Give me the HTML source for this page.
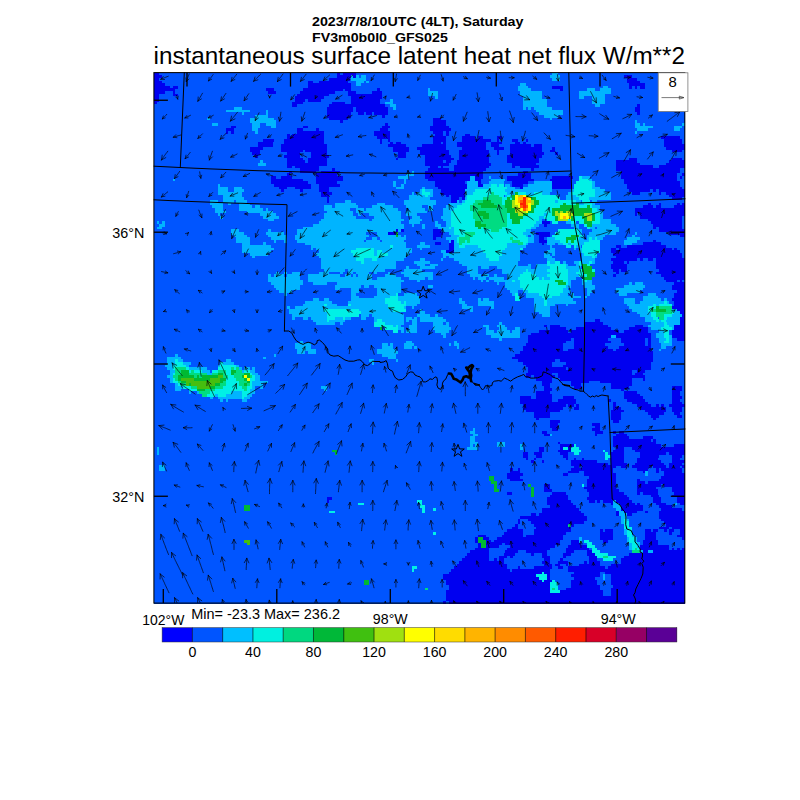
<!DOCTYPE html>
<html><head><meta charset="utf-8"><title>latent heat flux</title>
<style>html,body{margin:0;padding:0;background:#fff}svg{display:block}text{font-family:"Liberation Sans",sans-serif;fill:#000}</style></head>
<body>
<svg width="800" height="800" viewBox="0 0 800 800">
<rect width="800" height="800" fill="#fff"/>
<text x="312" y="26.3" font-size="14.25" font-weight="bold" textLength="211.5" lengthAdjust="spacingAndGlyphs" transform="matrix(1 0 0 0.93 0 1.84)">2023/7/8/10UTC (4LT), Saturday</text>
<text x="312" y="41.6" font-size="14.25" font-weight="bold" textLength="135.8" lengthAdjust="spacingAndGlyphs" transform="matrix(1 0 0 0.93 0 2.91)">FV3m0b0l0_GFS025</text>
<text x="153.5" y="63.6" font-size="24.2" textLength="531.5" lengthAdjust="spacingAndGlyphs">instantaneous surface latent heat net flux W/m**2</text>
<g shape-rendering="crispEdges"><rect x="154.0" y="72.5" width="531.0" height="531.0" fill="#0055ff"/>
<path fill="#0000f0" d="M154.0 72.5h5.3v2.70h-5.3zM337.2 72.5h2.7v2.70h-2.7zM342.5 72.5h13.3v2.70h-13.3zM154.0 75.2h8.0v2.70h-8.0zM337.2 75.2h13.3v2.70h-13.3zM353.1 75.2h2.7v2.70h-2.7zM623.9 75.2h8.0v2.70h-8.0zM154.0 77.8h5.3v2.70h-5.3zM329.2 77.8h21.2v2.70h-21.2zM626.6 77.8h10.6v2.70h-10.6zM154.0 80.5h8.0v2.70h-8.0zM308.0 80.5h5.3v2.70h-5.3zM318.6 80.5h29.2v2.70h-29.2zM626.6 80.5h13.3v2.70h-13.3zM154.0 83.1h10.6v2.70h-10.6zM308.0 83.1h42.5v2.70h-42.5zM629.2 83.1h15.9v2.70h-15.9zM154.0 85.8h15.9v2.70h-15.9zM172.6 85.8h5.3v2.70h-5.3zM308.0 85.8h42.5v2.70h-42.5zM552.2 85.8h10.6v2.70h-10.6zM629.2 85.8h2.7v2.70h-2.7zM634.6 85.8h2.7v2.70h-2.7zM639.9 85.8h5.3v2.70h-5.3zM154.0 88.4h21.2v2.70h-21.2zM265.5 88.4h8.0v2.70h-8.0zM302.7 88.4h39.8v2.70h-39.8zM345.2 88.4h5.3v2.70h-5.3zM377.0 88.4h2.7v2.70h-2.7zM560.2 88.4h2.7v2.70h-2.7zM154.0 91.1h10.6v2.70h-10.6zM172.6 91.1h2.7v2.70h-2.7zM268.2 91.1h8.0v2.70h-8.0zM300.0 91.1h34.5v2.70h-34.5zM347.8 91.1h8.0v2.70h-8.0zM371.7 91.1h10.6v2.70h-10.6zM154.0 93.7h5.3v2.70h-5.3zM172.6 93.7h5.3v2.70h-5.3zM297.4 93.7h31.9v2.70h-31.9zM347.8 93.7h34.5v2.70h-34.5zM154.0 96.4h5.3v2.70h-5.3zM294.7 96.4h29.2v2.70h-29.2zM350.5 96.4h31.9v2.70h-31.9zM154.0 99.0h5.3v2.70h-5.3zM294.7 99.0h10.6v2.70h-10.6zM308.0 99.0h13.3v2.70h-13.3zM350.5 99.0h29.2v2.70h-29.2zM154.0 101.7h2.7v2.70h-2.7zM292.1 101.7h10.6v2.70h-10.6zM331.9 101.7h13.3v2.70h-13.3zM350.5 101.7h29.2v2.70h-29.2zM292.1 104.4h5.3v2.70h-5.3zM329.2 104.4h55.8v2.70h-55.8zM637.2 104.4h2.7v2.70h-2.7zM326.6 107.0h26.5v2.70h-26.5zM355.8 107.0h31.9v2.70h-31.9zM634.6 107.0h5.3v2.70h-5.3zM326.6 109.7h26.5v2.70h-26.5zM355.8 109.7h31.9v2.70h-31.9zM634.6 109.7h5.3v2.70h-5.3zM326.6 112.3h23.9v2.70h-23.9zM358.4 112.3h5.3v2.70h-5.3zM366.4 112.3h5.3v2.70h-5.3zM374.4 112.3h13.3v2.70h-13.3zM637.2 112.3h2.7v2.70h-2.7zM326.6 115.0h23.9v2.70h-23.9zM382.3 115.0h2.7v2.70h-2.7zM329.2 117.6h18.6v2.70h-18.6zM432.8 117.6h8.0v2.70h-8.0zM339.9 120.3h2.7v2.70h-2.7zM432.8 120.3h13.3v2.70h-13.3zM385.0 122.9h2.7v2.70h-2.7zM432.8 122.9h13.3v2.70h-13.3zM231.0 125.6h5.3v2.70h-5.3zM302.7 125.6h5.3v2.70h-5.3zM382.3 125.6h8.0v2.70h-8.0zM430.1 125.6h18.6v2.70h-18.6zM225.7 128.3h8.0v2.70h-8.0zM297.4 128.3h5.3v2.70h-5.3zM316.0 128.3h2.7v2.70h-2.7zM379.7 128.3h8.0v2.70h-8.0zM430.1 128.3h21.2v2.70h-21.2zM225.7 130.9h2.7v2.70h-2.7zM231.0 130.9h2.7v2.70h-2.7zM297.4 130.9h26.5v2.70h-26.5zM374.4 130.9h15.9v2.70h-15.9zM432.8 130.9h10.6v2.70h-10.6zM446.0 130.9h2.7v2.70h-2.7zM286.8 133.6h2.7v2.70h-2.7zM292.1 133.6h31.9v2.70h-31.9zM374.4 133.6h15.9v2.70h-15.9zM435.4 133.6h8.0v2.70h-8.0zM446.0 133.6h2.7v2.70h-2.7zM464.6 133.6h5.3v2.70h-5.3zM286.8 136.2h37.2v2.70h-37.2zM377.0 136.2h13.3v2.70h-13.3zM432.8 136.2h13.3v2.70h-13.3zM462.0 136.2h13.3v2.70h-13.3zM477.9 136.2h5.3v2.70h-5.3zM496.5 136.2h5.3v2.70h-5.3zM661.1 136.2h18.6v2.70h-18.6zM262.9 138.9h10.6v2.70h-10.6zM284.1 138.9h39.8v2.70h-39.8zM379.7 138.9h2.7v2.70h-2.7zM387.6 138.9h2.7v2.70h-2.7zM432.8 138.9h13.3v2.70h-13.3zM462.0 138.9h29.2v2.70h-29.2zM496.5 138.9h2.7v2.70h-2.7zM512.4 138.9h5.3v2.70h-5.3zM525.7 138.9h2.7v2.70h-2.7zM663.8 138.9h18.6v2.70h-18.6zM257.5 141.5h15.9v2.70h-15.9zM284.1 141.5h39.8v2.70h-39.8zM379.7 141.5h2.7v2.70h-2.7zM390.3 141.5h2.7v2.70h-2.7zM395.6 141.5h5.3v2.70h-5.3zM432.8 141.5h8.0v2.70h-8.0zM443.4 141.5h2.7v2.70h-2.7zM456.7 141.5h29.2v2.70h-29.2zM491.2 141.5h10.6v2.70h-10.6zM515.1 141.5h5.3v2.70h-5.3zM523.0 141.5h2.7v2.70h-2.7zM663.8 141.5h18.6v2.70h-18.6zM257.5 144.2h15.9v2.70h-15.9zM281.4 144.2h45.1v2.70h-45.1zM387.6 144.2h18.6v2.70h-18.6zM422.2 144.2h23.9v2.70h-23.9zM456.7 144.2h29.2v2.70h-29.2zM491.2 144.2h8.0v2.70h-8.0zM509.8 144.2h21.2v2.70h-21.2zM533.7 144.2h8.0v2.70h-8.0zM663.8 144.2h21.2v2.70h-21.2zM249.6 146.8h13.3v2.70h-13.3zM281.4 146.8h45.1v2.70h-45.1zM392.9 146.8h15.9v2.70h-15.9zM416.8 146.8h29.2v2.70h-29.2zM462.0 146.8h23.9v2.70h-23.9zM493.8 146.8h10.6v2.70h-10.6zM509.8 146.8h31.9v2.70h-31.9zM552.2 146.8h2.7v2.70h-2.7zM666.4 146.8h18.6v2.70h-18.6zM249.6 149.5h10.6v2.70h-10.6zM281.4 149.5h21.2v2.70h-21.2zM305.3 149.5h21.2v2.70h-21.2zM392.9 149.5h15.9v2.70h-15.9zM419.5 149.5h29.2v2.70h-29.2zM459.3 149.5h29.2v2.70h-29.2zM496.5 149.5h2.7v2.70h-2.7zM509.8 149.5h31.9v2.70h-31.9zM549.6 149.5h5.3v2.70h-5.3zM671.7 149.5h10.6v2.70h-10.6zM252.2 152.1h8.0v2.70h-8.0zM286.8 152.1h13.3v2.70h-13.3zM310.6 152.1h15.9v2.70h-15.9zM398.3 152.1h8.0v2.70h-8.0zM419.5 152.1h29.2v2.70h-29.2zM459.3 152.1h29.2v2.70h-29.2zM496.5 152.1h2.7v2.70h-2.7zM509.8 152.1h34.5v2.70h-34.5zM554.9 152.1h2.7v2.70h-2.7zM254.9 154.8h2.7v2.70h-2.7zM284.1 154.8h15.9v2.70h-15.9zM310.6 154.8h18.6v2.70h-18.6zM398.3 154.8h8.0v2.70h-8.0zM424.8 154.8h26.5v2.70h-26.5zM459.3 154.8h29.2v2.70h-29.2zM507.1 154.8h34.5v2.70h-34.5zM286.8 157.5h15.9v2.70h-15.9zM308.0 157.5h18.6v2.70h-18.6zM395.6 157.5h2.7v2.70h-2.7zM424.8 157.5h29.2v2.70h-29.2zM459.3 157.5h29.2v2.70h-29.2zM507.1 157.5h31.9v2.70h-31.9zM629.2 157.5h8.0v2.70h-8.0zM671.7 157.5h10.6v2.70h-10.6zM286.8 160.1h18.6v2.70h-18.6zM308.0 160.1h18.6v2.70h-18.6zM424.8 160.1h18.6v2.70h-18.6zM446.0 160.1h5.3v2.70h-5.3zM456.7 160.1h31.9v2.70h-31.9zM507.1 160.1h31.9v2.70h-31.9zM616.0 160.1h21.2v2.70h-21.2zM669.1 160.1h15.9v2.70h-15.9zM286.8 162.8h39.8v2.70h-39.8zM424.8 162.8h23.9v2.70h-23.9zM456.7 162.8h34.5v2.70h-34.5zM512.4 162.8h23.9v2.70h-23.9zM616.0 162.8h23.9v2.70h-23.9zM666.4 162.8h18.6v2.70h-18.6zM286.8 165.4h5.3v2.70h-5.3zM294.7 165.4h23.9v2.70h-23.9zM430.1 165.4h8.0v2.70h-8.0zM440.7 165.4h2.7v2.70h-2.7zM454.0 165.4h34.5v2.70h-34.5zM512.4 165.4h2.7v2.70h-2.7zM520.4 165.4h18.6v2.70h-18.6zM616.0 165.4h37.2v2.70h-37.2zM658.5 165.4h26.5v2.70h-26.5zM300.0 168.1h18.6v2.70h-18.6zM331.9 168.1h2.7v2.70h-2.7zM427.5 168.1h21.2v2.70h-21.2zM454.0 168.1h31.9v2.70h-31.9zM531.0 168.1h2.7v2.70h-2.7zM616.0 168.1h63.7v2.70h-63.7zM289.4 170.7h2.7v2.70h-2.7zM300.0 170.7h15.9v2.70h-15.9zM321.3 170.7h18.6v2.70h-18.6zM424.8 170.7h58.4v2.70h-58.4zM523.0 170.7h5.3v2.70h-5.3zM621.3 170.7h58.4v2.70h-58.4zM286.8 173.4h2.7v2.70h-2.7zM316.0 173.4h21.2v2.70h-21.2zM424.8 173.4h58.4v2.70h-58.4zM517.7 173.4h13.3v2.70h-13.3zM621.3 173.4h55.8v2.70h-55.8zM682.3 173.4h2.7v2.70h-2.7zM270.8 176.0h5.3v2.70h-5.3zM281.4 176.0h10.6v2.70h-10.6zM316.0 176.0h26.5v2.70h-26.5zM424.8 176.0h45.1v2.70h-45.1zM475.3 176.0h8.0v2.70h-8.0zM507.1 176.0h23.9v2.70h-23.9zM552.2 176.0h21.2v2.70h-21.2zM621.3 176.0h55.8v2.70h-55.8zM679.7 176.0h2.7v2.70h-2.7zM270.8 178.7h31.9v2.70h-31.9zM316.0 178.7h26.5v2.70h-26.5zM427.5 178.7h42.5v2.70h-42.5zM475.3 178.7h5.3v2.70h-5.3zM507.1 178.7h26.5v2.70h-26.5zM549.6 178.7h21.2v2.70h-21.2zM623.9 178.7h53.1v2.70h-53.1zM270.8 181.4h37.2v2.70h-37.2zM316.0 181.4h21.2v2.70h-21.2zM435.4 181.4h29.2v2.70h-29.2zM477.9 181.4h2.7v2.70h-2.7zM512.4 181.4h15.9v2.70h-15.9zM552.2 181.4h18.6v2.70h-18.6zM623.9 181.4h55.8v2.70h-55.8zM273.5 184.0h37.2v2.70h-37.2zM318.6 184.0h21.2v2.70h-21.2zM435.4 184.0h31.9v2.70h-31.9zM477.9 184.0h5.3v2.70h-5.3zM512.4 184.0h10.6v2.70h-10.6zM552.2 184.0h18.6v2.70h-18.6zM626.6 184.0h53.1v2.70h-53.1zM278.8 186.7h8.0v2.70h-8.0zM294.7 186.7h15.9v2.70h-15.9zM318.6 186.7h10.6v2.70h-10.6zM438.1 186.7h29.2v2.70h-29.2zM520.4 186.7h2.7v2.70h-2.7zM552.2 186.7h18.6v2.70h-18.6zM626.6 186.7h55.8v2.70h-55.8zM281.4 189.3h2.7v2.70h-2.7zM300.0 189.3h2.7v2.70h-2.7zM318.6 189.3h10.6v2.70h-10.6zM440.7 189.3h23.9v2.70h-23.9zM629.2 189.3h21.2v2.70h-21.2zM653.1 189.3h2.7v2.70h-2.7zM658.5 189.3h26.5v2.70h-26.5zM321.3 192.0h10.6v2.70h-10.6zM440.7 192.0h23.9v2.70h-23.9zM631.9 192.0h8.0v2.70h-8.0zM658.5 192.0h2.7v2.70h-2.7zM666.4 192.0h18.6v2.70h-18.6zM321.3 194.6h8.0v2.70h-8.0zM446.0 194.6h2.7v2.70h-2.7zM451.4 194.6h13.3v2.70h-13.3zM669.1 194.6h15.9v2.70h-15.9zM326.6 197.3h2.7v2.70h-2.7zM451.4 197.3h8.0v2.70h-8.0zM462.0 197.3h2.7v2.70h-2.7zM671.7 197.3h10.6v2.70h-10.6zM326.6 199.9h2.7v2.70h-2.7zM451.4 199.9h5.3v2.70h-5.3zM647.8 202.6h2.7v2.70h-2.7zM658.5 202.6h2.7v2.70h-2.7zM677.0 202.6h2.7v2.70h-2.7zM682.3 202.6h2.7v2.70h-2.7zM642.5 205.2h10.6v2.70h-10.6zM655.8 205.2h5.3v2.70h-5.3zM674.4 205.2h10.6v2.70h-10.6zM634.6 207.9h50.4v2.70h-50.4zM634.6 210.6h50.4v2.70h-50.4zM634.6 213.2h2.7v2.70h-2.7zM639.9 213.2h45.1v2.70h-45.1zM639.9 215.9h42.5v2.70h-42.5zM647.8 218.5h34.5v2.70h-34.5zM541.6 221.2h8.0v2.70h-8.0zM650.5 221.2h31.9v2.70h-31.9zM544.3 223.8h2.7v2.70h-2.7zM653.1 223.8h29.2v2.70h-29.2zM653.1 226.5h2.7v2.70h-2.7zM658.5 226.5h23.9v2.70h-23.9zM395.6 229.1h2.7v2.70h-2.7zM400.9 229.1h2.7v2.70h-2.7zM432.8 229.1h8.0v2.70h-8.0zM658.5 229.1h26.5v2.70h-26.5zM387.6 231.8h8.0v2.70h-8.0zM432.8 231.8h10.6v2.70h-10.6zM536.3 231.8h13.3v2.70h-13.3zM669.1 231.8h15.9v2.70h-15.9zM432.8 234.5h8.0v2.70h-8.0zM539.0 234.5h10.6v2.70h-10.6zM679.7 234.5h5.3v2.70h-5.3zM432.8 237.1h2.7v2.70h-2.7zM539.0 237.1h5.3v2.70h-5.3zM451.4 239.8h2.7v2.70h-2.7zM539.0 239.8h8.0v2.70h-8.0zM653.1 239.8h2.7v2.70h-2.7zM435.4 242.4h5.3v2.70h-5.3zM448.7 242.4h5.3v2.70h-5.3zM541.6 242.4h2.7v2.70h-2.7zM642.5 242.4h18.6v2.70h-18.6zM448.7 245.1h5.3v2.70h-5.3zM616.0 245.1h5.3v2.70h-5.3zM626.6 245.1h39.8v2.70h-39.8zM448.7 247.7h5.3v2.70h-5.3zM610.7 247.7h5.3v2.70h-5.3zM618.6 247.7h53.1v2.70h-53.1zM674.4 247.7h2.7v2.70h-2.7zM446.0 250.4h8.0v2.70h-8.0zM610.7 250.4h69.0v2.70h-69.0zM613.3 253.0h69.0v2.70h-69.0zM616.0 255.7h66.4v2.70h-66.4zM610.7 258.4h26.5v2.70h-26.5zM639.9 258.4h2.7v2.70h-2.7zM647.8 258.4h5.3v2.70h-5.3zM655.8 258.4h29.2v2.70h-29.2zM613.3 261.0h10.6v2.70h-10.6zM626.6 261.0h2.7v2.70h-2.7zM655.8 261.0h29.2v2.70h-29.2zM610.7 263.7h15.9v2.70h-15.9zM655.8 263.7h29.2v2.70h-29.2zM610.7 266.3h15.9v2.70h-15.9zM655.8 266.3h29.2v2.70h-29.2zM613.3 269.0h5.3v2.70h-5.3zM621.3 269.0h5.3v2.70h-5.3zM658.5 269.0h26.5v2.70h-26.5zM616.0 271.6h2.7v2.70h-2.7zM655.8 271.6h29.2v2.70h-29.2zM613.3 274.3h2.7v2.70h-2.7zM661.1 274.3h23.9v2.70h-23.9zM663.8 276.9h21.2v2.70h-21.2zM666.4 279.6h10.6v2.70h-10.6zM679.7 279.6h2.7v2.70h-2.7zM674.4 282.2h10.6v2.70h-10.6zM671.7 284.9h13.3v2.70h-13.3zM671.7 287.6h13.3v2.70h-13.3zM677.0 290.2h8.0v2.70h-8.0zM674.4 292.9h10.6v2.70h-10.6zM674.4 295.5h10.6v2.70h-10.6zM671.7 298.2h13.3v2.70h-13.3zM674.4 300.8h10.6v2.70h-10.6zM674.4 303.5h10.6v2.70h-10.6zM671.7 306.1h13.3v2.70h-13.3zM677.0 308.8h8.0v2.70h-8.0zM679.7 311.4h5.3v2.70h-5.3zM682.3 314.1h2.7v2.70h-2.7zM679.7 316.8h5.3v2.70h-5.3zM594.7 319.4h5.3v2.70h-5.3zM679.7 319.4h5.3v2.70h-5.3zM584.1 322.1h18.6v2.70h-18.6zM679.7 322.1h5.3v2.70h-5.3zM544.3 324.7h2.7v2.70h-2.7zM549.6 324.7h10.6v2.70h-10.6zM584.1 324.7h23.9v2.70h-23.9zM634.6 324.7h8.0v2.70h-8.0zM674.4 324.7h10.6v2.70h-10.6zM549.6 327.4h15.9v2.70h-15.9zM576.1 327.4h34.5v2.70h-34.5zM629.2 327.4h18.6v2.70h-18.6zM674.4 327.4h10.6v2.70h-10.6zM539.0 330.0h29.2v2.70h-29.2zM570.8 330.0h47.8v2.70h-47.8zM623.9 330.0h23.9v2.70h-23.9zM671.7 330.0h13.3v2.70h-13.3zM531.0 332.7h119.5v2.70h-119.5zM671.7 332.7h13.3v2.70h-13.3zM528.4 335.3h82.3v2.70h-82.3zM616.0 335.3h34.5v2.70h-34.5zM671.7 335.3h13.3v2.70h-13.3zM528.4 338.0h42.5v2.70h-42.5zM573.5 338.0h34.5v2.70h-34.5zM621.3 338.0h23.9v2.70h-23.9zM647.8 338.0h2.7v2.70h-2.7zM677.0 338.0h8.0v2.70h-8.0zM528.4 340.7h37.2v2.70h-37.2zM573.5 340.7h37.2v2.70h-37.2zM621.3 340.7h23.9v2.70h-23.9zM647.8 340.7h2.7v2.70h-2.7zM525.7 343.3h37.2v2.70h-37.2zM573.5 343.3h31.9v2.70h-31.9zM623.9 343.3h21.2v2.70h-21.2zM647.8 343.3h2.7v2.70h-2.7zM523.0 346.0h39.8v2.70h-39.8zM573.5 346.0h34.5v2.70h-34.5zM618.6 346.0h31.9v2.70h-31.9zM523.0 348.6h39.8v2.70h-39.8zM568.2 348.6h45.1v2.70h-45.1zM616.0 348.6h34.5v2.70h-34.5zM520.4 351.3h132.8v2.70h-132.8zM515.1 353.9h138.1v2.70h-138.1zM512.4 356.6h140.7v2.70h-140.7zM517.7 359.2h37.2v2.70h-37.2zM560.2 359.2h92.9v2.70h-92.9zM523.0 361.9h29.2v2.70h-29.2zM565.5 361.9h85.0v2.70h-85.0zM525.7 364.5h26.5v2.70h-26.5zM562.9 364.5h87.6v2.70h-87.6zM528.4 367.2h37.2v2.70h-37.2zM568.2 367.2h82.3v2.70h-82.3zM528.4 369.9h103.5v2.70h-103.5zM637.2 369.9h8.0v2.70h-8.0zM525.7 372.5h26.5v2.70h-26.5zM557.6 372.5h74.3v2.70h-74.3zM634.6 372.5h8.0v2.70h-8.0zM525.7 375.2h5.3v2.70h-5.3zM533.7 375.2h21.2v2.70h-21.2zM557.6 375.2h87.6v2.70h-87.6zM536.3 377.8h15.9v2.70h-15.9zM560.2 377.8h71.7v2.70h-71.7zM642.5 377.8h2.7v2.70h-2.7zM541.6 380.5h10.6v2.70h-10.6zM570.8 380.5h18.6v2.70h-18.6zM600.0 380.5h31.9v2.70h-31.9zM541.6 383.1h8.0v2.70h-8.0zM570.8 383.1h10.6v2.70h-10.6zM610.7 383.1h21.2v2.70h-21.2zM544.3 385.8h5.3v2.70h-5.3zM573.5 385.8h8.0v2.70h-8.0zM610.7 385.8h18.6v2.70h-18.6zM671.7 385.8h10.6v2.70h-10.6zM544.3 388.4h8.0v2.70h-8.0zM621.3 388.4h2.7v2.70h-2.7zM671.7 388.4h10.6v2.70h-10.6zM536.3 391.1h13.3v2.70h-13.3zM623.9 391.1h13.3v2.70h-13.3zM671.7 391.1h8.0v2.70h-8.0zM536.3 393.8h15.9v2.70h-15.9zM623.9 393.8h15.9v2.70h-15.9zM671.7 393.8h8.0v2.70h-8.0zM520.4 396.4h10.6v2.70h-10.6zM536.3 396.4h15.9v2.70h-15.9zM562.9 396.4h10.6v2.70h-10.6zM623.9 396.4h18.6v2.70h-18.6zM671.7 396.4h10.6v2.70h-10.6zM520.4 399.1h31.9v2.70h-31.9zM557.6 399.1h18.6v2.70h-18.6zM608.0 399.1h2.7v2.70h-2.7zM626.6 399.1h18.6v2.70h-18.6zM671.7 399.1h8.0v2.70h-8.0zM520.4 401.7h55.8v2.70h-55.8zM613.3 401.7h2.7v2.70h-2.7zM631.9 401.7h15.9v2.70h-15.9zM671.7 401.7h10.6v2.70h-10.6zM523.0 404.4h42.5v2.70h-42.5zM568.2 404.4h5.3v2.70h-5.3zM576.1 404.4h2.7v2.70h-2.7zM613.3 404.4h2.7v2.70h-2.7zM637.2 404.4h13.3v2.70h-13.3zM655.8 404.4h2.7v2.70h-2.7zM661.1 404.4h2.7v2.70h-2.7zM669.1 404.4h15.9v2.70h-15.9zM523.0 407.0h39.8v2.70h-39.8zM573.5 407.0h5.3v2.70h-5.3zM613.3 407.0h8.0v2.70h-8.0zM639.9 407.0h26.5v2.70h-26.5zM671.7 407.0h10.6v2.70h-10.6zM525.7 409.7h34.5v2.70h-34.5zM610.7 409.7h13.3v2.70h-13.3zM645.2 409.7h21.2v2.70h-21.2zM671.7 409.7h10.6v2.70h-10.6zM533.7 412.3h15.9v2.70h-15.9zM610.7 412.3h10.6v2.70h-10.6zM647.8 412.3h15.9v2.70h-15.9zM674.4 412.3h5.3v2.70h-5.3zM533.7 415.0h15.9v2.70h-15.9zM610.7 415.0h10.6v2.70h-10.6zM650.5 415.0h8.0v2.70h-8.0zM677.0 415.0h5.3v2.70h-5.3zM536.3 417.6h2.7v2.70h-2.7zM610.7 417.6h10.6v2.70h-10.6zM653.1 417.6h2.7v2.70h-2.7zM549.6 420.3h10.6v2.70h-10.6zM613.3 420.3h5.3v2.70h-5.3zM549.6 423.0h8.0v2.70h-8.0zM592.1 423.0h8.0v2.70h-8.0zM549.6 425.6h8.0v2.70h-8.0zM594.7 425.6h5.3v2.70h-5.3zM552.2 428.3h5.3v2.70h-5.3zM592.1 428.3h8.0v2.70h-8.0zM541.6 430.9h5.3v2.70h-5.3zM594.7 430.9h8.0v2.70h-8.0zM613.3 430.9h2.7v2.70h-2.7zM618.6 430.9h5.3v2.70h-5.3zM544.3 433.6h5.3v2.70h-5.3zM594.7 433.6h2.7v2.70h-2.7zM616.0 433.6h10.6v2.70h-10.6zM613.3 436.2h15.9v2.70h-15.9zM642.5 436.2h10.6v2.70h-10.6zM613.3 438.9h37.2v2.70h-37.2zM653.1 438.9h2.7v2.70h-2.7zM557.6 441.5h2.7v2.70h-2.7zM613.3 441.5h42.5v2.70h-42.5zM560.2 444.2h13.3v2.70h-13.3zM613.3 444.2h47.8v2.70h-47.8zM674.4 444.2h10.6v2.70h-10.6zM539.0 446.9h5.3v2.70h-5.3zM560.2 446.9h2.7v2.70h-2.7zM568.2 446.9h2.7v2.70h-2.7zM616.0 446.9h8.0v2.70h-8.0zM631.9 446.9h53.1v2.70h-53.1zM539.0 449.5h5.3v2.70h-5.3zM557.6 449.5h13.3v2.70h-13.3zM613.3 449.5h10.6v2.70h-10.6zM634.6 449.5h50.4v2.70h-50.4zM523.0 452.2h5.3v2.70h-5.3zM533.7 452.2h8.0v2.70h-8.0zM560.2 452.2h8.0v2.70h-8.0zM610.7 452.2h13.3v2.70h-13.3zM639.9 452.2h26.5v2.70h-26.5zM669.1 452.2h15.9v2.70h-15.9zM523.0 454.8h5.3v2.70h-5.3zM536.3 454.8h5.3v2.70h-5.3zM562.9 454.8h5.3v2.70h-5.3zM610.7 454.8h13.3v2.70h-13.3zM639.9 454.8h18.6v2.70h-18.6zM671.7 454.8h10.6v2.70h-10.6zM525.7 457.5h2.7v2.70h-2.7zM533.7 457.5h2.7v2.70h-2.7zM565.5 457.5h2.7v2.70h-2.7zM573.5 457.5h2.7v2.70h-2.7zM581.5 457.5h2.7v2.70h-2.7zM610.7 457.5h13.3v2.70h-13.3zM637.2 457.5h21.2v2.70h-21.2zM671.7 457.5h8.0v2.70h-8.0zM531.0 460.1h2.7v2.70h-2.7zM541.6 460.1h2.7v2.70h-2.7zM570.8 460.1h26.5v2.70h-26.5zM610.7 460.1h13.3v2.70h-13.3zM637.2 460.1h23.9v2.70h-23.9zM671.7 460.1h13.3v2.70h-13.3zM570.8 462.8h37.2v2.70h-37.2zM610.7 462.8h15.9v2.70h-15.9zM634.6 462.8h29.2v2.70h-29.2zM669.1 462.8h13.3v2.70h-13.3zM573.5 465.4h5.3v2.70h-5.3zM581.5 465.4h34.5v2.70h-34.5zM621.3 465.4h5.3v2.70h-5.3zM631.9 465.4h18.6v2.70h-18.6zM653.1 465.4h13.3v2.70h-13.3zM669.1 465.4h10.6v2.70h-10.6zM682.3 465.4h2.7v2.70h-2.7zM509.8 468.1h2.7v2.70h-2.7zM517.7 468.1h2.7v2.70h-2.7zM570.8 468.1h42.5v2.70h-42.5zM637.2 468.1h10.6v2.70h-10.6zM655.8 468.1h2.7v2.70h-2.7zM661.1 468.1h21.2v2.70h-21.2zM509.8 470.7h10.6v2.70h-10.6zM568.2 470.7h10.6v2.70h-10.6zM584.1 470.7h29.2v2.70h-29.2zM642.5 470.7h2.7v2.70h-2.7zM655.8 470.7h2.7v2.70h-2.7zM663.8 470.7h18.6v2.70h-18.6zM507.1 473.4h15.9v2.70h-15.9zM562.9 473.4h5.3v2.70h-5.3zM584.1 473.4h31.9v2.70h-31.9zM663.8 473.4h21.2v2.70h-21.2zM507.1 476.1h13.3v2.70h-13.3zM589.4 476.1h26.5v2.70h-26.5zM661.1 476.1h23.9v2.70h-23.9zM509.8 478.7h13.3v2.70h-13.3zM586.8 478.7h29.2v2.70h-29.2zM637.2 478.7h2.7v2.70h-2.7zM658.5 478.7h26.5v2.70h-26.5zM586.8 481.4h29.2v2.70h-29.2zM637.2 481.4h8.0v2.70h-8.0zM647.8 481.4h37.2v2.70h-37.2zM544.3 484.0h5.3v2.70h-5.3zM586.8 484.0h29.2v2.70h-29.2zM637.2 484.0h23.9v2.70h-23.9zM663.8 484.0h21.2v2.70h-21.2zM544.3 486.7h5.3v2.70h-5.3zM584.1 486.7h31.9v2.70h-31.9zM637.2 486.7h18.6v2.70h-18.6zM671.7 486.7h13.3v2.70h-13.3zM544.3 489.3h8.0v2.70h-8.0zM586.8 489.3h31.9v2.70h-31.9zM637.2 489.3h21.2v2.70h-21.2zM671.7 489.3h13.3v2.70h-13.3zM507.1 492.0h5.3v2.70h-5.3zM552.2 492.0h13.3v2.70h-13.3zM589.4 492.0h34.5v2.70h-34.5zM637.2 492.0h2.7v2.70h-2.7zM642.5 492.0h15.9v2.70h-15.9zM674.4 492.0h10.6v2.70h-10.6zM549.6 494.6h18.6v2.70h-18.6zM589.4 494.6h37.2v2.70h-37.2zM650.5 494.6h8.0v2.70h-8.0zM671.7 494.6h13.3v2.70h-13.3zM326.6 497.3h5.3v2.70h-5.3zM546.9 497.3h21.2v2.70h-21.2zM586.8 497.3h42.5v2.70h-42.5zM653.1 497.3h8.0v2.70h-8.0zM677.0 497.3h8.0v2.70h-8.0zM326.6 500.0h2.7v2.70h-2.7zM546.9 500.0h23.9v2.70h-23.9zM589.4 500.0h5.3v2.70h-5.3zM597.4 500.0h2.7v2.70h-2.7zM602.7 500.0h10.6v2.70h-10.6zM616.0 500.0h15.9v2.70h-15.9zM653.1 500.0h8.0v2.70h-8.0zM677.0 500.0h8.0v2.70h-8.0zM546.9 502.6h26.5v2.70h-26.5zM610.7 502.6h2.7v2.70h-2.7zM618.6 502.6h15.9v2.70h-15.9zM637.2 502.6h2.7v2.70h-2.7zM655.8 502.6h10.6v2.70h-10.6zM679.7 502.6h5.3v2.70h-5.3zM549.6 505.3h26.5v2.70h-26.5zM621.3 505.3h21.2v2.70h-21.2zM658.5 505.3h13.3v2.70h-13.3zM541.6 507.9h37.2v2.70h-37.2zM621.3 507.9h21.2v2.70h-21.2zM661.1 507.9h21.2v2.70h-21.2zM541.6 510.6h39.8v2.70h-39.8zM616.0 510.6h2.7v2.70h-2.7zM623.9 510.6h13.3v2.70h-13.3zM645.2 510.6h2.7v2.70h-2.7zM658.5 510.6h26.5v2.70h-26.5zM531.0 513.2h5.3v2.70h-5.3zM539.0 513.2h45.1v2.70h-45.1zM616.0 513.2h2.7v2.70h-2.7zM626.6 513.2h5.3v2.70h-5.3zM658.5 513.2h26.5v2.70h-26.5zM520.4 515.9h66.4v2.70h-66.4zM658.5 515.9h26.5v2.70h-26.5zM517.7 518.5h2.7v2.70h-2.7zM528.4 518.5h58.4v2.70h-58.4zM661.1 518.5h23.9v2.70h-23.9zM517.7 521.2h2.7v2.70h-2.7zM531.0 521.2h53.1v2.70h-53.1zM663.8 521.2h21.2v2.70h-21.2zM515.1 523.8h2.7v2.70h-2.7zM533.7 523.8h34.5v2.70h-34.5zM570.8 523.8h2.7v2.70h-2.7zM666.4 523.8h18.6v2.70h-18.6zM512.4 526.5h5.3v2.70h-5.3zM536.3 526.5h34.5v2.70h-34.5zM658.5 526.5h10.6v2.70h-10.6zM671.7 526.5h13.3v2.70h-13.3zM507.1 529.2h15.9v2.70h-15.9zM533.7 529.2h37.2v2.70h-37.2zM600.0 529.2h2.7v2.70h-2.7zM605.3 529.2h8.0v2.70h-8.0zM645.2 529.2h5.3v2.70h-5.3zM653.1 529.2h5.3v2.70h-5.3zM663.8 529.2h2.7v2.70h-2.7zM669.1 529.2h5.3v2.70h-5.3zM679.7 529.2h5.3v2.70h-5.3zM504.5 531.8h18.6v2.70h-18.6zM533.7 531.8h31.9v2.70h-31.9zM600.0 531.8h13.3v2.70h-13.3zM645.2 531.8h10.6v2.70h-10.6zM669.1 531.8h2.7v2.70h-2.7zM679.7 531.8h5.3v2.70h-5.3zM477.9 534.5h8.0v2.70h-8.0zM501.8 534.5h21.2v2.70h-21.2zM525.7 534.5h37.2v2.70h-37.2zM600.0 534.5h13.3v2.70h-13.3zM645.2 534.5h10.6v2.70h-10.6zM677.0 534.5h8.0v2.70h-8.0zM475.3 537.1h2.7v2.70h-2.7zM483.2 537.1h5.3v2.70h-5.3zM496.5 537.1h66.4v2.70h-66.4zM600.0 537.1h13.3v2.70h-13.3zM645.2 537.1h10.6v2.70h-10.6zM682.3 537.1h2.7v2.70h-2.7zM475.3 539.8h2.7v2.70h-2.7zM485.9 539.8h5.3v2.70h-5.3zM493.8 539.8h66.4v2.70h-66.4zM570.8 539.8h8.0v2.70h-8.0zM602.7 539.8h5.3v2.70h-5.3zM642.5 539.8h15.9v2.70h-15.9zM477.9 542.4h2.7v2.70h-2.7zM485.9 542.4h15.9v2.70h-15.9zM504.5 542.4h55.8v2.70h-55.8zM570.8 542.4h10.6v2.70h-10.6zM642.5 542.4h15.9v2.70h-15.9zM477.9 545.1h2.7v2.70h-2.7zM485.9 545.1h13.3v2.70h-13.3zM509.8 545.1h45.1v2.70h-45.1zM568.2 545.1h18.6v2.70h-18.6zM639.9 545.1h29.2v2.70h-29.2zM475.3 547.7h13.3v2.70h-13.3zM507.1 547.7h42.5v2.70h-42.5zM565.5 547.7h23.9v2.70h-23.9zM639.9 547.7h29.2v2.70h-29.2zM671.7 547.7h2.7v2.70h-2.7zM677.0 547.7h2.7v2.70h-2.7zM682.3 547.7h2.7v2.70h-2.7zM469.9 550.4h18.6v2.70h-18.6zM504.5 550.4h13.3v2.70h-13.3zM525.7 550.4h21.2v2.70h-21.2zM565.5 550.4h8.0v2.70h-8.0zM586.8 550.4h5.3v2.70h-5.3zM642.5 550.4h5.3v2.70h-5.3zM653.1 550.4h31.9v2.70h-31.9zM467.3 553.1h21.2v2.70h-21.2zM504.5 553.1h10.6v2.70h-10.6zM531.0 553.1h2.7v2.70h-2.7zM541.6 553.1h5.3v2.70h-5.3zM562.9 553.1h8.0v2.70h-8.0zM586.8 553.1h8.0v2.70h-8.0zM629.2 553.1h55.8v2.70h-55.8zM464.6 555.7h23.9v2.70h-23.9zM499.1 555.7h8.0v2.70h-8.0zM509.8 555.7h2.7v2.70h-2.7zM541.6 555.7h8.0v2.70h-8.0zM562.9 555.7h2.7v2.70h-2.7zM589.4 555.7h8.0v2.70h-8.0zM623.9 555.7h61.1v2.70h-61.1zM462.0 558.4h26.5v2.70h-26.5zM493.8 558.4h2.7v2.70h-2.7zM499.1 558.4h5.3v2.70h-5.3zM544.3 558.4h5.3v2.70h-5.3zM560.2 558.4h2.7v2.70h-2.7zM589.4 558.4h8.0v2.70h-8.0zM621.3 558.4h63.7v2.70h-63.7zM459.3 561.0h45.1v2.70h-45.1zM541.6 561.0h8.0v2.70h-8.0zM557.6 561.0h10.6v2.70h-10.6zM584.1 561.0h2.7v2.70h-2.7zM589.4 561.0h10.6v2.70h-10.6zM621.3 561.0h63.7v2.70h-63.7zM456.7 563.7h50.4v2.70h-50.4zM544.3 563.7h8.0v2.70h-8.0zM554.9 563.7h5.3v2.70h-5.3zM565.5 563.7h2.7v2.70h-2.7zM578.8 563.7h21.2v2.70h-21.2zM610.7 563.7h74.3v2.70h-74.3zM454.0 566.3h53.1v2.70h-53.1zM517.7 566.3h2.7v2.70h-2.7zM533.7 566.3h18.6v2.70h-18.6zM557.6 566.3h5.3v2.70h-5.3zM568.2 566.3h37.2v2.70h-37.2zM608.0 566.3h77.0v2.70h-77.0zM451.4 569.0h58.4v2.70h-58.4zM512.4 569.0h37.2v2.70h-37.2zM568.2 569.0h116.8v2.70h-116.8zM448.7 571.6h92.9v2.70h-92.9zM544.3 571.6h5.3v2.70h-5.3zM573.5 571.6h26.5v2.70h-26.5zM605.3 571.6h79.6v2.70h-79.6zM443.4 574.3h92.9v2.70h-92.9zM546.9 574.3h2.7v2.70h-2.7zM570.8 574.3h29.2v2.70h-29.2zM610.7 574.3h74.3v2.70h-74.3zM443.4 577.0h95.6v2.70h-95.6zM546.9 577.0h2.7v2.70h-2.7zM573.5 577.0h21.2v2.70h-21.2zM610.7 577.0h74.3v2.70h-74.3zM446.0 579.6h95.6v2.70h-95.6zM544.3 579.6h8.0v2.70h-8.0zM570.8 579.6h26.5v2.70h-26.5zM610.7 579.6h74.3v2.70h-74.3zM446.0 582.3h103.5v2.70h-103.5zM570.8 582.3h26.5v2.70h-26.5zM610.7 582.3h74.3v2.70h-74.3zM448.7 584.9h100.9v2.70h-100.9zM570.8 584.9h29.2v2.70h-29.2zM613.3 584.9h71.7v2.70h-71.7zM448.7 587.6h100.9v2.70h-100.9zM565.5 587.6h34.5v2.70h-34.5zM610.7 587.6h74.3v2.70h-74.3zM446.0 590.2h103.5v2.70h-103.5zM560.2 590.2h42.5v2.70h-42.5zM610.7 590.2h74.3v2.70h-74.3zM446.0 592.9h156.6v2.70h-156.6zM610.7 592.9h74.3v2.70h-74.3zM446.0 595.5h238.9v2.70h-238.9zM446.0 598.2h238.9v2.70h-238.9zM443.4 600.8h2.7v2.70h-2.7zM448.7 600.8h236.3v2.70h-236.3z"/>
<path fill="#00b4ff" d="M552.2 72.5h5.3v2.70h-5.3zM350.5 75.2h2.7v2.70h-2.7zM355.8 75.2h2.7v2.70h-2.7zM361.1 75.2h5.3v2.70h-5.3zM549.6 75.2h10.6v2.70h-10.6zM350.5 77.8h15.9v2.70h-15.9zM552.2 77.8h8.0v2.70h-8.0zM355.8 80.5h8.0v2.70h-8.0zM366.4 80.5h2.7v2.70h-2.7zM355.8 83.1h5.3v2.70h-5.3zM520.4 83.1h5.3v2.70h-5.3zM517.7 85.8h10.6v2.70h-10.6zM602.7 85.8h5.3v2.70h-5.3zM427.5 88.4h2.7v2.70h-2.7zM517.7 88.4h13.3v2.70h-13.3zM586.8 88.4h8.0v2.70h-8.0zM600.0 88.4h10.6v2.70h-10.6zM427.5 91.1h10.6v2.70h-10.6zM520.4 91.1h21.2v2.70h-21.2zM578.8 91.1h31.9v2.70h-31.9zM427.5 93.7h10.6v2.70h-10.6zM520.4 93.7h21.2v2.70h-21.2zM578.8 93.7h26.5v2.70h-26.5zM435.4 96.4h2.7v2.70h-2.7zM523.0 96.4h18.6v2.70h-18.6zM578.8 96.4h5.3v2.70h-5.3zM592.1 96.4h13.3v2.70h-13.3zM390.3 99.0h2.7v2.70h-2.7zM523.0 99.0h23.9v2.70h-23.9zM592.1 99.0h13.3v2.70h-13.3zM385.0 101.7h8.0v2.70h-8.0zM523.0 101.7h23.9v2.70h-23.9zM592.1 101.7h13.3v2.70h-13.3zM390.3 104.4h5.3v2.70h-5.3zM523.0 104.4h23.9v2.70h-23.9zM594.7 104.4h5.3v2.70h-5.3zM233.6 107.0h8.0v2.70h-8.0zM392.9 107.0h2.7v2.70h-2.7zM523.0 107.0h2.7v2.70h-2.7zM528.4 107.0h2.7v2.70h-2.7zM533.7 107.0h18.6v2.70h-18.6zM225.7 109.7h23.9v2.70h-23.9zM265.5 109.7h2.7v2.70h-2.7zM536.3 109.7h26.5v2.70h-26.5zM241.6 112.3h2.7v2.70h-2.7zM265.5 112.3h2.7v2.70h-2.7zM539.0 112.3h23.9v2.70h-23.9zM254.9 115.0h13.3v2.70h-13.3zM544.3 115.0h13.3v2.70h-13.3zM207.1 117.6h2.7v2.70h-2.7zM249.6 117.6h23.9v2.70h-23.9zM549.6 117.6h2.7v2.70h-2.7zM249.6 120.3h26.5v2.70h-26.5zM634.6 120.3h2.7v2.70h-2.7zM212.4 122.9h5.3v2.70h-5.3zM252.2 122.9h8.0v2.70h-8.0zM265.5 122.9h10.6v2.70h-10.6zM634.6 122.9h5.3v2.70h-5.3zM642.5 122.9h2.7v2.70h-2.7zM682.3 122.9h2.7v2.70h-2.7zM252.2 125.6h8.0v2.70h-8.0zM270.8 125.6h5.3v2.70h-5.3zM634.6 125.6h18.6v2.70h-18.6zM674.4 125.6h8.0v2.70h-8.0zM252.2 128.3h5.3v2.70h-5.3zM637.2 128.3h10.6v2.70h-10.6zM674.4 128.3h5.3v2.70h-5.3zM254.9 130.9h2.7v2.70h-2.7zM634.6 130.9h2.7v2.70h-2.7zM260.2 160.1h2.7v2.70h-2.7zM257.5 162.8h8.0v2.70h-8.0zM411.5 170.7h2.7v2.70h-2.7zM406.2 173.4h8.0v2.70h-8.0zM398.3 176.0h10.6v2.70h-10.6zM469.9 176.0h5.3v2.70h-5.3zM488.5 176.0h2.7v2.70h-2.7zM581.5 176.0h8.0v2.70h-8.0zM172.6 178.7h2.7v2.70h-2.7zM403.6 178.7h2.7v2.70h-2.7zM469.9 178.7h5.3v2.70h-5.3zM491.2 178.7h13.3v2.70h-13.3zM589.4 178.7h2.7v2.70h-2.7zM392.9 181.4h2.7v2.70h-2.7zM403.6 181.4h2.7v2.70h-2.7zM467.3 181.4h10.6v2.70h-10.6zM488.5 181.4h15.9v2.70h-15.9zM533.7 181.4h18.6v2.70h-18.6zM592.1 181.4h2.7v2.70h-2.7zM217.7 184.0h2.7v2.70h-2.7zM392.9 184.0h2.7v2.70h-2.7zM400.9 184.0h2.7v2.70h-2.7zM467.3 184.0h10.6v2.70h-10.6zM483.2 184.0h8.0v2.70h-8.0zM496.5 184.0h2.7v2.70h-2.7zM504.5 184.0h5.3v2.70h-5.3zM528.4 184.0h23.9v2.70h-23.9zM592.1 184.0h2.7v2.70h-2.7zM217.7 186.7h10.6v2.70h-10.6zM233.6 186.7h8.0v2.70h-8.0zM395.6 186.7h8.0v2.70h-8.0zM422.2 186.7h2.7v2.70h-2.7zM467.3 186.7h21.2v2.70h-21.2zM507.1 186.7h8.0v2.70h-8.0zM523.0 186.7h29.2v2.70h-29.2zM592.1 186.7h8.0v2.70h-8.0zM217.7 189.3h10.6v2.70h-10.6zM233.6 189.3h10.6v2.70h-10.6zM419.5 189.3h2.7v2.70h-2.7zM424.8 189.3h8.0v2.70h-8.0zM464.6 189.3h10.6v2.70h-10.6zM504.5 189.3h47.8v2.70h-47.8zM570.8 189.3h2.7v2.70h-2.7zM594.7 189.3h10.6v2.70h-10.6zM217.7 192.0h23.9v2.70h-23.9zM411.5 192.0h2.7v2.70h-2.7zM416.8 192.0h5.3v2.70h-5.3zM430.1 192.0h2.7v2.70h-2.7zM464.6 192.0h8.0v2.70h-8.0zM507.1 192.0h8.0v2.70h-8.0zM525.7 192.0h8.0v2.70h-8.0zM541.6 192.0h8.0v2.70h-8.0zM568.2 192.0h2.7v2.70h-2.7zM594.7 192.0h15.9v2.70h-15.9zM223.0 194.6h18.6v2.70h-18.6zM408.9 194.6h15.9v2.70h-15.9zM427.5 194.6h5.3v2.70h-5.3zM464.6 194.6h2.7v2.70h-2.7zM504.5 194.6h2.7v2.70h-2.7zM565.5 194.6h10.6v2.70h-10.6zM594.7 194.6h15.9v2.70h-15.9zM223.0 197.3h21.2v2.70h-21.2zM408.9 197.3h21.2v2.70h-21.2zM464.6 197.3h2.7v2.70h-2.7zM565.5 197.3h13.3v2.70h-13.3zM589.4 197.3h21.2v2.70h-21.2zM209.8 199.9h8.0v2.70h-8.0zM223.0 199.9h10.6v2.70h-10.6zM236.3 199.9h10.6v2.70h-10.6zM345.2 199.9h5.3v2.70h-5.3zM403.6 199.9h31.9v2.70h-31.9zM456.7 199.9h2.7v2.70h-2.7zM462.0 199.9h2.7v2.70h-2.7zM554.9 199.9h2.7v2.70h-2.7zM576.1 199.9h5.3v2.70h-5.3zM592.1 199.9h5.3v2.70h-5.3zM209.8 202.6h13.3v2.70h-13.3zM228.3 202.6h2.7v2.70h-2.7zM239.0 202.6h10.6v2.70h-10.6zM334.5 202.6h21.2v2.70h-21.2zM377.0 202.6h8.0v2.70h-8.0zM403.6 202.6h31.9v2.70h-31.9zM448.7 202.6h13.3v2.70h-13.3zM578.8 202.6h5.3v2.70h-5.3zM592.1 202.6h2.7v2.70h-2.7zM212.4 205.2h10.6v2.70h-10.6zM239.0 205.2h13.3v2.70h-13.3zM254.9 205.2h5.3v2.70h-5.3zM323.9 205.2h8.0v2.70h-8.0zM334.5 205.2h23.9v2.70h-23.9zM371.7 205.2h21.2v2.70h-21.2zM406.2 205.2h15.9v2.70h-15.9zM427.5 205.2h5.3v2.70h-5.3zM446.0 205.2h10.6v2.70h-10.6zM592.1 205.2h8.0v2.70h-8.0zM215.1 207.9h8.0v2.70h-8.0zM239.0 207.9h23.9v2.70h-23.9zM265.5 207.9h2.7v2.70h-2.7zM323.9 207.9h26.5v2.70h-26.5zM355.8 207.9h8.0v2.70h-8.0zM366.4 207.9h31.9v2.70h-31.9zM408.9 207.9h15.9v2.70h-15.9zM427.5 207.9h5.3v2.70h-5.3zM443.4 207.9h10.6v2.70h-10.6zM597.4 207.9h2.7v2.70h-2.7zM215.1 210.6h10.6v2.70h-10.6zM246.9 210.6h26.5v2.70h-26.5zM326.6 210.6h26.5v2.70h-26.5zM355.8 210.6h45.1v2.70h-45.1zM406.2 210.6h21.2v2.70h-21.2zM443.4 210.6h8.0v2.70h-8.0zM600.0 210.6h2.7v2.70h-2.7zM217.7 213.2h2.7v2.70h-2.7zM260.2 213.2h15.9v2.70h-15.9zM323.9 213.2h29.2v2.70h-29.2zM358.4 213.2h2.7v2.70h-2.7zM369.1 213.2h31.9v2.70h-31.9zM406.2 213.2h10.6v2.70h-10.6zM443.4 213.2h8.0v2.70h-8.0zM544.3 213.2h2.7v2.70h-2.7zM600.0 213.2h2.7v2.70h-2.7zM220.4 215.9h2.7v2.70h-2.7zM262.9 215.9h15.9v2.70h-15.9zM323.9 215.9h31.9v2.70h-31.9zM374.4 215.9h26.5v2.70h-26.5zM411.5 215.9h8.0v2.70h-8.0zM440.7 215.9h10.6v2.70h-10.6zM539.0 215.9h5.3v2.70h-5.3zM600.0 215.9h2.7v2.70h-2.7zM268.2 218.5h5.3v2.70h-5.3zM321.3 218.5h47.8v2.70h-47.8zM371.7 218.5h31.9v2.70h-31.9zM408.9 218.5h13.3v2.70h-13.3zM443.4 218.5h8.0v2.70h-8.0zM539.0 218.5h2.7v2.70h-2.7zM600.0 218.5h10.6v2.70h-10.6zM156.7 221.2h2.7v2.70h-2.7zM162.0 221.2h2.7v2.70h-2.7zM318.6 221.2h82.3v2.70h-82.3zM408.9 221.2h10.6v2.70h-10.6zM435.4 221.2h2.7v2.70h-2.7zM446.0 221.2h5.3v2.70h-5.3zM536.3 221.2h5.3v2.70h-5.3zM565.5 221.2h5.3v2.70h-5.3zM600.0 221.2h10.6v2.70h-10.6zM159.3 223.8h5.3v2.70h-5.3zM313.3 223.8h90.3v2.70h-90.3zM411.5 223.8h2.7v2.70h-2.7zM422.2 223.8h2.7v2.70h-2.7zM435.4 223.8h5.3v2.70h-5.3zM446.0 223.8h5.3v2.70h-5.3zM533.7 223.8h5.3v2.70h-5.3zM570.8 223.8h8.0v2.70h-8.0zM592.1 223.8h23.9v2.70h-23.9zM156.7 226.5h5.3v2.70h-5.3zM302.7 226.5h100.9v2.70h-100.9zM422.2 226.5h2.7v2.70h-2.7zM438.1 226.5h10.6v2.70h-10.6zM451.4 226.5h2.7v2.70h-2.7zM531.0 226.5h5.3v2.70h-5.3zM573.5 226.5h5.3v2.70h-5.3zM589.4 226.5h5.3v2.70h-5.3zM597.4 226.5h21.2v2.70h-21.2zM231.0 229.1h8.0v2.70h-8.0zM268.2 229.1h2.7v2.70h-2.7zM297.4 229.1h98.2v2.70h-98.2zM398.3 229.1h2.7v2.70h-2.7zM443.4 229.1h10.6v2.70h-10.6zM525.7 229.1h5.3v2.70h-5.3zM578.8 229.1h2.7v2.70h-2.7zM592.1 229.1h26.5v2.70h-26.5zM231.0 231.8h13.3v2.70h-13.3zM265.5 231.8h18.6v2.70h-18.6zM297.4 231.8h69.0v2.70h-69.0zM377.0 231.8h10.6v2.70h-10.6zM448.7 231.8h5.3v2.70h-5.3zM523.0 231.8h10.6v2.70h-10.6zM578.8 231.8h2.7v2.70h-2.7zM589.4 231.8h26.5v2.70h-26.5zM634.6 231.8h2.7v2.70h-2.7zM233.6 234.5h13.3v2.70h-13.3zM268.2 234.5h18.6v2.70h-18.6zM294.7 234.5h74.3v2.70h-74.3zM377.0 234.5h18.6v2.70h-18.6zM398.3 234.5h2.7v2.70h-2.7zM403.6 234.5h2.7v2.70h-2.7zM451.4 234.5h8.0v2.70h-8.0zM525.7 234.5h2.7v2.70h-2.7zM531.0 234.5h2.7v2.70h-2.7zM581.5 234.5h2.7v2.70h-2.7zM586.8 234.5h18.6v2.70h-18.6zM631.9 234.5h2.7v2.70h-2.7zM236.3 237.1h13.3v2.70h-13.3zM270.8 237.1h15.9v2.70h-15.9zM294.7 237.1h71.7v2.70h-71.7zM371.7 237.1h5.3v2.70h-5.3zM379.7 237.1h26.5v2.70h-26.5zM446.0 237.1h10.6v2.70h-10.6zM528.4 237.1h5.3v2.70h-5.3zM546.9 237.1h8.0v2.70h-8.0zM578.8 237.1h5.3v2.70h-5.3zM586.8 237.1h2.7v2.70h-2.7zM592.1 237.1h2.7v2.70h-2.7zM597.4 237.1h5.3v2.70h-5.3zM626.6 237.1h13.3v2.70h-13.3zM236.3 239.8h13.3v2.70h-13.3zM273.5 239.8h2.7v2.70h-2.7zM284.1 239.8h2.7v2.70h-2.7zM297.4 239.8h66.4v2.70h-66.4zM366.4 239.8h13.3v2.70h-13.3zM382.3 239.8h21.2v2.70h-21.2zM448.7 239.8h2.7v2.70h-2.7zM454.0 239.8h2.7v2.70h-2.7zM528.4 239.8h5.3v2.70h-5.3zM546.9 239.8h13.3v2.70h-13.3zM578.8 239.8h10.6v2.70h-10.6zM623.9 239.8h13.3v2.70h-13.3zM241.6 242.4h8.0v2.70h-8.0zM262.9 242.4h2.7v2.70h-2.7zM305.3 242.4h100.9v2.70h-100.9zM419.5 242.4h5.3v2.70h-5.3zM454.0 242.4h5.3v2.70h-5.3zM507.1 242.4h10.6v2.70h-10.6zM525.7 242.4h2.7v2.70h-2.7zM546.9 242.4h8.0v2.70h-8.0zM557.6 242.4h5.3v2.70h-5.3zM568.2 242.4h2.7v2.70h-2.7zM578.8 242.4h5.3v2.70h-5.3zM623.9 242.4h8.0v2.70h-8.0zM241.6 245.1h29.2v2.70h-29.2zM310.6 245.1h79.6v2.70h-79.6zM392.9 245.1h13.3v2.70h-13.3zM416.8 245.1h13.3v2.70h-13.3zM454.0 245.1h5.3v2.70h-5.3zM464.6 245.1h13.3v2.70h-13.3zM507.1 245.1h18.6v2.70h-18.6zM549.6 245.1h2.7v2.70h-2.7zM576.1 245.1h5.3v2.70h-5.3zM241.6 247.7h31.9v2.70h-31.9zM310.6 247.7h2.7v2.70h-2.7zM316.0 247.7h39.8v2.70h-39.8zM374.4 247.7h37.2v2.70h-37.2zM419.5 247.7h2.7v2.70h-2.7zM454.0 247.7h26.5v2.70h-26.5zM504.5 247.7h15.9v2.70h-15.9zM549.6 247.7h5.3v2.70h-5.3zM573.5 247.7h2.7v2.70h-2.7zM578.8 247.7h2.7v2.70h-2.7zM241.6 250.4h29.2v2.70h-29.2zM318.6 250.4h31.9v2.70h-31.9zM374.4 250.4h2.7v2.70h-2.7zM382.3 250.4h29.2v2.70h-29.2zM440.7 250.4h5.3v2.70h-5.3zM454.0 250.4h29.2v2.70h-29.2zM501.8 250.4h18.6v2.70h-18.6zM546.9 250.4h8.0v2.70h-8.0zM578.8 250.4h2.7v2.70h-2.7zM249.6 253.0h18.6v2.70h-18.6zM316.0 253.0h37.2v2.70h-37.2zM374.4 253.0h2.7v2.70h-2.7zM387.6 253.0h21.2v2.70h-21.2zM443.4 253.0h42.5v2.70h-42.5zM501.8 253.0h18.6v2.70h-18.6zM544.3 253.0h5.3v2.70h-5.3zM552.2 253.0h2.7v2.70h-2.7zM581.5 253.0h2.7v2.70h-2.7zM252.2 255.7h2.7v2.70h-2.7zM318.6 255.7h37.2v2.70h-37.2zM382.3 255.7h23.9v2.70h-23.9zM443.4 255.7h2.7v2.70h-2.7zM448.7 255.7h37.2v2.70h-37.2zM499.1 255.7h21.2v2.70h-21.2zM544.3 255.7h8.0v2.70h-8.0zM581.5 255.7h10.6v2.70h-10.6zM594.7 255.7h2.7v2.70h-2.7zM321.3 258.4h34.5v2.70h-34.5zM363.7 258.4h8.0v2.70h-8.0zM377.0 258.4h26.5v2.70h-26.5zM419.5 258.4h5.3v2.70h-5.3zM440.7 258.4h2.7v2.70h-2.7zM454.0 258.4h34.5v2.70h-34.5zM499.1 258.4h21.2v2.70h-21.2zM546.9 258.4h8.0v2.70h-8.0zM581.5 258.4h13.3v2.70h-13.3zM321.3 261.0h39.8v2.70h-39.8zM363.7 261.0h31.9v2.70h-31.9zM414.2 261.0h15.9v2.70h-15.9zM459.3 261.0h58.4v2.70h-58.4zM549.6 261.0h5.3v2.70h-5.3zM562.9 261.0h2.7v2.70h-2.7zM573.5 261.0h5.3v2.70h-5.3zM581.5 261.0h8.0v2.70h-8.0zM592.1 261.0h2.7v2.70h-2.7zM321.3 263.7h74.3v2.70h-74.3zM416.8 263.7h8.0v2.70h-8.0zM430.1 263.7h8.0v2.70h-8.0zM462.0 263.7h55.8v2.70h-55.8zM528.4 263.7h2.7v2.70h-2.7zM536.3 263.7h10.6v2.70h-10.6zM565.5 263.7h2.7v2.70h-2.7zM576.1 263.7h2.7v2.70h-2.7zM321.3 266.3h74.3v2.70h-74.3zM406.2 266.3h2.7v2.70h-2.7zM419.5 266.3h15.9v2.70h-15.9zM467.3 266.3h10.6v2.70h-10.6zM480.6 266.3h8.0v2.70h-8.0zM496.5 266.3h34.5v2.70h-34.5zM536.3 266.3h13.3v2.70h-13.3zM565.5 266.3h15.9v2.70h-15.9zM323.9 269.0h21.2v2.70h-21.2zM347.8 269.0h37.2v2.70h-37.2zM403.6 269.0h18.6v2.70h-18.6zM467.3 269.0h10.6v2.70h-10.6zM501.8 269.0h23.9v2.70h-23.9zM528.4 269.0h18.6v2.70h-18.6zM568.2 269.0h10.6v2.70h-10.6zM276.1 271.6h2.7v2.70h-2.7zM284.1 271.6h2.7v2.70h-2.7zM292.1 271.6h8.0v2.70h-8.0zM318.6 271.6h10.6v2.70h-10.6zM339.9 271.6h2.7v2.70h-2.7zM347.8 271.6h5.3v2.70h-5.3zM355.8 271.6h13.3v2.70h-13.3zM374.4 271.6h2.7v2.70h-2.7zM387.6 271.6h2.7v2.70h-2.7zM400.9 271.6h31.9v2.70h-31.9zM467.3 271.6h10.6v2.70h-10.6zM501.8 271.6h21.2v2.70h-21.2zM531.0 271.6h18.6v2.70h-18.6zM568.2 271.6h8.0v2.70h-8.0zM268.2 274.3h2.7v2.70h-2.7zM273.5 274.3h10.6v2.70h-10.6zM286.8 274.3h13.3v2.70h-13.3zM308.0 274.3h31.9v2.70h-31.9zM345.2 274.3h5.3v2.70h-5.3zM353.1 274.3h2.7v2.70h-2.7zM358.4 274.3h13.3v2.70h-13.3zM385.0 274.3h10.6v2.70h-10.6zM403.6 274.3h29.2v2.70h-29.2zM469.9 274.3h10.6v2.70h-10.6zM483.2 274.3h5.3v2.70h-5.3zM493.8 274.3h2.7v2.70h-2.7zM507.1 274.3h13.3v2.70h-13.3zM536.3 274.3h10.6v2.70h-10.6zM568.2 274.3h10.6v2.70h-10.6zM268.2 276.9h31.9v2.70h-31.9zM308.0 276.9h63.7v2.70h-63.7zM377.0 276.9h23.9v2.70h-23.9zM408.9 276.9h15.9v2.70h-15.9zM427.5 276.9h5.3v2.70h-5.3zM472.6 276.9h2.7v2.70h-2.7zM477.9 276.9h8.0v2.70h-8.0zM488.5 276.9h15.9v2.70h-15.9zM507.1 276.9h10.6v2.70h-10.6zM539.0 276.9h2.7v2.70h-2.7zM544.3 276.9h5.3v2.70h-5.3zM568.2 276.9h8.0v2.70h-8.0zM268.2 279.6h34.5v2.70h-34.5zM308.0 279.6h95.6v2.70h-95.6zM416.8 279.6h2.7v2.70h-2.7zM480.6 279.6h2.7v2.70h-2.7zM485.9 279.6h2.7v2.70h-2.7zM493.8 279.6h18.6v2.70h-18.6zM515.1 279.6h5.3v2.70h-5.3zM568.2 279.6h2.7v2.70h-2.7zM581.5 279.6h2.7v2.70h-2.7zM586.8 279.6h5.3v2.70h-5.3zM270.8 282.2h31.9v2.70h-31.9zM313.3 282.2h13.3v2.70h-13.3zM337.2 282.2h63.7v2.70h-63.7zM496.5 282.2h2.7v2.70h-2.7zM504.5 282.2h15.9v2.70h-15.9zM568.2 282.2h2.7v2.70h-2.7zM581.5 282.2h10.6v2.70h-10.6zM629.2 282.2h2.7v2.70h-2.7zM634.6 282.2h8.0v2.70h-8.0zM273.5 284.9h26.5v2.70h-26.5zM334.5 284.9h26.5v2.70h-26.5zM363.7 284.9h5.3v2.70h-5.3zM374.4 284.9h26.5v2.70h-26.5zM427.5 284.9h5.3v2.70h-5.3zM504.5 284.9h15.9v2.70h-15.9zM565.5 284.9h5.3v2.70h-5.3zM584.1 284.9h10.6v2.70h-10.6zM623.9 284.9h21.2v2.70h-21.2zM276.1 287.6h23.9v2.70h-23.9zM334.5 287.6h5.3v2.70h-5.3zM350.5 287.6h8.0v2.70h-8.0zM377.0 287.6h23.9v2.70h-23.9zM507.1 287.6h15.9v2.70h-15.9zM562.9 287.6h5.3v2.70h-5.3zM586.8 287.6h8.0v2.70h-8.0zM616.0 287.6h26.5v2.70h-26.5zM278.8 290.2h13.3v2.70h-13.3zM350.5 290.2h8.0v2.70h-8.0zM377.0 290.2h23.9v2.70h-23.9zM509.8 290.2h8.0v2.70h-8.0zM523.0 290.2h5.3v2.70h-5.3zM562.9 290.2h8.0v2.70h-8.0zM586.8 290.2h5.3v2.70h-5.3zM616.0 290.2h23.9v2.70h-23.9zM284.1 292.9h2.7v2.70h-2.7zM350.5 292.9h5.3v2.70h-5.3zM377.0 292.9h18.6v2.70h-18.6zM403.6 292.9h13.3v2.70h-13.3zM512.4 292.9h2.7v2.70h-2.7zM525.7 292.9h13.3v2.70h-13.3zM560.2 292.9h8.0v2.70h-8.0zM570.8 292.9h2.7v2.70h-2.7zM586.8 292.9h2.7v2.70h-2.7zM618.6 292.9h8.0v2.70h-8.0zM647.8 292.9h8.0v2.70h-8.0zM350.5 295.5h8.0v2.70h-8.0zM374.4 295.5h15.9v2.70h-15.9zM398.3 295.5h21.2v2.70h-21.2zM525.7 295.5h15.9v2.70h-15.9zM552.2 295.5h29.2v2.70h-29.2zM584.1 295.5h2.7v2.70h-2.7zM642.5 295.5h15.9v2.70h-15.9zM313.3 298.2h5.3v2.70h-5.3zM323.9 298.2h5.3v2.70h-5.3zM350.5 298.2h34.5v2.70h-34.5zM398.3 298.2h21.2v2.70h-21.2zM459.3 298.2h2.7v2.70h-2.7zM477.9 298.2h2.7v2.70h-2.7zM483.2 298.2h5.3v2.70h-5.3zM533.7 298.2h10.6v2.70h-10.6zM546.9 298.2h26.5v2.70h-26.5zM623.9 298.2h10.6v2.70h-10.6zM642.5 298.2h18.6v2.70h-18.6zM663.8 298.2h2.7v2.70h-2.7zM305.3 300.8h26.5v2.70h-26.5zM347.8 300.8h37.2v2.70h-37.2zM400.9 300.8h2.7v2.70h-2.7zM406.2 300.8h13.3v2.70h-13.3zM459.3 300.8h5.3v2.70h-5.3zM477.9 300.8h15.9v2.70h-15.9zM533.7 300.8h10.6v2.70h-10.6zM546.9 300.8h29.2v2.70h-29.2zM623.9 300.8h10.6v2.70h-10.6zM639.9 300.8h23.9v2.70h-23.9zM666.4 300.8h2.7v2.70h-2.7zM302.7 303.5h21.2v2.70h-21.2zM326.6 303.5h10.6v2.70h-10.6zM350.5 303.5h37.2v2.70h-37.2zM406.2 303.5h10.6v2.70h-10.6zM462.0 303.5h5.3v2.70h-5.3zM477.9 303.5h15.9v2.70h-15.9zM533.7 303.5h10.6v2.70h-10.6zM546.9 303.5h8.0v2.70h-8.0zM565.5 303.5h2.7v2.70h-2.7zM626.6 303.5h26.5v2.70h-26.5zM655.8 303.5h2.7v2.70h-2.7zM286.8 306.1h2.7v2.70h-2.7zM294.7 306.1h92.9v2.70h-92.9zM403.6 306.1h2.7v2.70h-2.7zM411.5 306.1h2.7v2.70h-2.7zM462.0 306.1h10.6v2.70h-10.6zM491.2 306.1h2.7v2.70h-2.7zM533.7 306.1h15.9v2.70h-15.9zM629.2 306.1h18.6v2.70h-18.6zM289.4 308.8h34.5v2.70h-34.5zM347.8 308.8h2.7v2.70h-2.7zM358.4 308.8h34.5v2.70h-34.5zM419.5 308.8h2.7v2.70h-2.7zM469.9 308.8h2.7v2.70h-2.7zM533.7 308.8h15.9v2.70h-15.9zM631.9 308.8h15.9v2.70h-15.9zM671.7 308.8h5.3v2.70h-5.3zM289.4 311.4h37.2v2.70h-37.2zM361.1 311.4h39.8v2.70h-39.8zM419.5 311.4h5.3v2.70h-5.3zM539.0 311.4h10.6v2.70h-10.6zM637.2 311.4h13.3v2.70h-13.3zM674.4 311.4h5.3v2.70h-5.3zM292.1 314.1h34.5v2.70h-34.5zM361.1 314.1h8.0v2.70h-8.0zM371.7 314.1h31.9v2.70h-31.9zM416.8 314.1h13.3v2.70h-13.3zM435.4 314.1h2.7v2.70h-2.7zM541.6 314.1h8.0v2.70h-8.0zM639.9 314.1h10.6v2.70h-10.6zM671.7 314.1h10.6v2.70h-10.6zM292.1 316.8h2.7v2.70h-2.7zM302.7 316.8h5.3v2.70h-5.3zM310.6 316.8h15.9v2.70h-15.9zM334.5 316.8h8.0v2.70h-8.0zM345.2 316.8h5.3v2.70h-5.3zM361.1 316.8h5.3v2.70h-5.3zM374.4 316.8h29.2v2.70h-29.2zM406.2 316.8h5.3v2.70h-5.3zM414.2 316.8h2.7v2.70h-2.7zM419.5 316.8h23.9v2.70h-23.9zM645.2 316.8h8.0v2.70h-8.0zM666.4 316.8h13.3v2.70h-13.3zM313.3 319.4h13.3v2.70h-13.3zM329.2 319.4h15.9v2.70h-15.9zM374.4 319.4h2.7v2.70h-2.7zM382.3 319.4h21.2v2.70h-21.2zM406.2 319.4h2.7v2.70h-2.7zM411.5 319.4h5.3v2.70h-5.3zM419.5 319.4h26.5v2.70h-26.5zM645.2 319.4h10.6v2.70h-10.6zM658.5 319.4h2.7v2.70h-2.7zM666.4 319.4h13.3v2.70h-13.3zM316.0 322.1h18.6v2.70h-18.6zM339.9 322.1h2.7v2.70h-2.7zM385.0 322.1h18.6v2.70h-18.6zM411.5 322.1h5.3v2.70h-5.3zM432.8 322.1h10.6v2.70h-10.6zM446.0 322.1h2.7v2.70h-2.7zM499.1 322.1h2.7v2.70h-2.7zM650.5 322.1h13.3v2.70h-13.3zM666.4 322.1h13.3v2.70h-13.3zM392.9 324.7h2.7v2.70h-2.7zM398.3 324.7h2.7v2.70h-2.7zM408.9 324.7h8.0v2.70h-8.0zM432.8 324.7h15.9v2.70h-15.9zM483.2 324.7h5.3v2.70h-5.3zM496.5 324.7h8.0v2.70h-8.0zM647.8 324.7h15.9v2.70h-15.9zM669.1 324.7h5.3v2.70h-5.3zM398.3 327.4h5.3v2.70h-5.3zM408.9 327.4h8.0v2.70h-8.0zM432.8 327.4h18.6v2.70h-18.6zM485.9 327.4h2.7v2.70h-2.7zM499.1 327.4h8.0v2.70h-8.0zM515.1 327.4h5.3v2.70h-5.3zM650.5 327.4h10.6v2.70h-10.6zM671.7 327.4h2.7v2.70h-2.7zM400.9 330.0h2.7v2.70h-2.7zM406.2 330.0h10.6v2.70h-10.6zM435.4 330.0h13.3v2.70h-13.3zM485.9 330.0h8.0v2.70h-8.0zM496.5 330.0h13.3v2.70h-13.3zM512.4 330.0h8.0v2.70h-8.0zM658.5 330.0h5.3v2.70h-5.3zM440.7 332.7h5.3v2.70h-5.3zM485.9 332.7h34.5v2.70h-34.5zM655.8 332.7h8.0v2.70h-8.0zM443.4 335.3h2.7v2.70h-2.7zM491.2 335.3h29.2v2.70h-29.2zM610.7 335.3h5.3v2.70h-5.3zM655.8 335.3h8.0v2.70h-8.0zM669.1 335.3h2.7v2.70h-2.7zM499.1 338.0h2.7v2.70h-2.7zM658.5 338.0h8.0v2.70h-8.0zM669.1 338.0h2.7v2.70h-2.7zM300.0 340.7h2.7v2.70h-2.7zM406.2 340.7h5.3v2.70h-5.3zM454.0 340.7h2.7v2.70h-2.7zM658.5 340.7h5.3v2.70h-5.3zM669.1 340.7h2.7v2.70h-2.7zM294.7 343.3h15.9v2.70h-15.9zM382.3 343.3h5.3v2.70h-5.3zM390.3 343.3h2.7v2.70h-2.7zM403.6 343.3h10.6v2.70h-10.6zM448.7 343.3h2.7v2.70h-2.7zM454.0 343.3h5.3v2.70h-5.3zM661.1 343.3h10.6v2.70h-10.6zM294.7 346.0h15.9v2.70h-15.9zM382.3 346.0h10.6v2.70h-10.6zM403.6 346.0h8.0v2.70h-8.0zM414.2 346.0h2.7v2.70h-2.7zM456.7 346.0h2.7v2.70h-2.7zM661.1 346.0h5.3v2.70h-5.3zM297.4 348.6h18.6v2.70h-18.6zM377.0 348.6h18.6v2.70h-18.6zM658.5 348.6h2.7v2.70h-2.7zM297.4 351.3h8.0v2.70h-8.0zM308.0 351.3h8.0v2.70h-8.0zM377.0 351.3h21.2v2.70h-21.2zM175.2 353.9h2.7v2.70h-2.7zM273.5 353.9h2.7v2.70h-2.7zM382.3 353.9h13.3v2.70h-13.3zM167.3 356.6h13.3v2.70h-13.3zM262.9 356.6h2.7v2.70h-2.7zM387.6 356.6h8.0v2.70h-8.0zM167.3 359.2h8.0v2.70h-8.0zM177.9 359.2h5.3v2.70h-5.3zM225.7 359.2h5.3v2.70h-5.3zM369.1 359.2h5.3v2.70h-5.3zM395.6 359.2h2.7v2.70h-2.7zM167.3 361.9h8.0v2.70h-8.0zM183.2 361.9h8.0v2.70h-8.0zM223.0 361.9h10.6v2.70h-10.6zM371.7 361.9h2.7v2.70h-2.7zM164.6 364.5h8.0v2.70h-8.0zM185.9 364.5h2.7v2.70h-2.7zM217.7 364.5h2.7v2.70h-2.7zM236.3 364.5h2.7v2.70h-2.7zM167.3 367.2h5.3v2.70h-5.3zM188.5 367.2h18.6v2.70h-18.6zM239.0 367.2h2.7v2.70h-2.7zM244.3 367.2h5.3v2.70h-5.3zM252.2 367.2h2.7v2.70h-2.7zM169.9 369.9h5.3v2.70h-5.3zM201.8 369.9h8.0v2.70h-8.0zM241.6 369.9h2.7v2.70h-2.7zM249.6 369.9h5.3v2.70h-5.3zM169.9 372.5h2.7v2.70h-2.7zM207.1 372.5h5.3v2.70h-5.3zM252.2 372.5h5.3v2.70h-5.3zM167.3 375.2h5.3v2.70h-5.3zM254.9 375.2h5.3v2.70h-5.3zM169.9 377.8h2.7v2.70h-2.7zM254.9 377.8h5.3v2.70h-5.3zM169.9 380.5h2.7v2.70h-2.7zM252.2 380.5h15.9v2.70h-15.9zM175.2 383.1h2.7v2.70h-2.7zM252.2 383.1h10.6v2.70h-10.6zM175.2 385.8h8.0v2.70h-8.0zM252.2 385.8h2.7v2.70h-2.7zM260.2 385.8h2.7v2.70h-2.7zM321.3 385.8h5.3v2.70h-5.3zM175.2 388.4h5.3v2.70h-5.3zM249.6 388.4h5.3v2.70h-5.3zM323.9 388.4h2.7v2.70h-2.7zM188.5 391.1h2.7v2.70h-2.7zM196.5 391.1h2.7v2.70h-2.7zM231.0 391.1h10.6v2.70h-10.6zM249.6 391.1h5.3v2.70h-5.3zM215.1 393.8h2.7v2.70h-2.7zM225.7 393.8h15.9v2.70h-15.9zM246.9 393.8h5.3v2.70h-5.3zM209.8 396.4h2.7v2.70h-2.7zM217.7 396.4h23.9v2.70h-23.9zM244.3 396.4h5.3v2.70h-5.3zM220.4 399.1h2.7v2.70h-2.7zM225.7 399.1h2.7v2.70h-2.7zM241.6 399.1h5.3v2.70h-5.3zM472.6 428.3h2.7v2.70h-2.7zM469.9 430.9h5.3v2.70h-5.3zM472.6 433.6h5.3v2.70h-5.3zM549.6 433.6h2.7v2.70h-2.7zM469.9 436.2h5.3v2.70h-5.3zM469.9 438.9h5.3v2.70h-5.3zM469.9 441.5h8.0v2.70h-8.0zM496.5 441.5h8.0v2.70h-8.0zM469.9 444.2h2.7v2.70h-2.7zM475.3 444.2h2.7v2.70h-2.7zM496.5 444.2h8.0v2.70h-8.0zM520.4 444.2h2.7v2.70h-2.7zM156.7 446.9h2.7v2.70h-2.7zM467.3 446.9h10.6v2.70h-10.6zM520.4 446.9h2.7v2.70h-2.7zM156.7 449.5h2.7v2.70h-2.7zM156.7 452.2h2.7v2.70h-2.7zM159.3 465.4h5.3v2.70h-5.3zM159.3 468.1h5.3v2.70h-5.3zM645.2 470.7h2.7v2.70h-2.7zM645.2 473.4h2.7v2.70h-2.7zM613.3 500.0h2.7v2.70h-2.7zM613.3 502.6h5.3v2.70h-5.3zM674.4 502.6h2.7v2.70h-2.7zM613.3 505.3h8.0v2.70h-8.0zM616.0 507.9h5.3v2.70h-5.3zM618.6 510.6h5.3v2.70h-5.3zM618.6 513.2h8.0v2.70h-8.0zM621.3 515.9h5.3v2.70h-5.3zM621.3 518.5h2.7v2.70h-2.7zM626.6 518.5h2.7v2.70h-2.7zM621.3 521.2h2.7v2.70h-2.7zM623.9 529.2h2.7v2.70h-2.7zM623.9 531.8h2.7v2.70h-2.7zM631.9 534.5h2.7v2.70h-2.7zM578.8 537.1h2.7v2.70h-2.7zM626.6 537.1h2.7v2.70h-2.7zM634.6 537.1h2.7v2.70h-2.7zM578.8 539.8h2.7v2.70h-2.7zM626.6 539.8h2.7v2.70h-2.7zM634.6 539.8h2.7v2.70h-2.7zM629.2 542.4h2.7v2.70h-2.7zM637.2 542.4h2.7v2.70h-2.7zM629.2 545.1h2.7v2.70h-2.7zM637.2 545.1h2.7v2.70h-2.7zM629.2 547.7h2.7v2.70h-2.7zM639.9 550.4h2.7v2.70h-2.7zM647.8 550.4h5.3v2.70h-5.3zM602.7 574.3h2.7v2.70h-2.7zM602.7 577.0h2.7v2.70h-2.7z"/>
<path fill="#00f0e6" d="M578.8 176.0h2.7v2.70h-2.7zM578.8 178.7h10.6v2.70h-10.6zM576.1 181.4h15.9v2.70h-15.9zM491.2 184.0h5.3v2.70h-5.3zM499.1 184.0h5.3v2.70h-5.3zM573.5 184.0h18.6v2.70h-18.6zM488.5 186.7h18.6v2.70h-18.6zM573.5 186.7h18.6v2.70h-18.6zM422.2 189.3h2.7v2.70h-2.7zM475.3 189.3h29.2v2.70h-29.2zM573.5 189.3h21.2v2.70h-21.2zM422.2 192.0h8.0v2.70h-8.0zM472.6 192.0h18.6v2.70h-18.6zM493.8 192.0h13.3v2.70h-13.3zM517.7 192.0h8.0v2.70h-8.0zM533.7 192.0h8.0v2.70h-8.0zM570.8 192.0h23.9v2.70h-23.9zM424.8 194.6h2.7v2.70h-2.7zM467.3 194.6h21.2v2.70h-21.2zM499.1 194.6h5.3v2.70h-5.3zM507.1 194.6h5.3v2.70h-5.3zM528.4 194.6h29.2v2.70h-29.2zM576.1 194.6h18.6v2.70h-18.6zM467.3 197.3h15.9v2.70h-15.9zM501.8 197.3h5.3v2.70h-5.3zM509.8 197.3h2.7v2.70h-2.7zM536.3 197.3h23.9v2.70h-23.9zM578.8 197.3h10.6v2.70h-10.6zM464.6 199.9h10.6v2.70h-10.6zM501.8 199.9h2.7v2.70h-2.7zM539.0 199.9h15.9v2.70h-15.9zM557.6 199.9h18.6v2.70h-18.6zM581.5 199.9h8.0v2.70h-8.0zM462.0 202.6h10.6v2.70h-10.6zM501.8 202.6h2.7v2.70h-2.7zM539.0 202.6h23.9v2.70h-23.9zM565.5 202.6h10.6v2.70h-10.6zM584.1 202.6h8.0v2.70h-8.0zM456.7 205.2h13.3v2.70h-13.3zM536.3 205.2h23.9v2.70h-23.9zM578.8 205.2h8.0v2.70h-8.0zM589.4 205.2h2.7v2.70h-2.7zM454.0 207.9h15.9v2.70h-15.9zM533.7 207.9h18.6v2.70h-18.6zM592.1 207.9h5.3v2.70h-5.3zM451.4 210.6h21.2v2.70h-21.2zM533.7 210.6h18.6v2.70h-18.6zM592.1 210.6h8.0v2.70h-8.0zM451.4 213.2h21.2v2.70h-21.2zM507.1 213.2h2.7v2.70h-2.7zM528.4 213.2h15.9v2.70h-15.9zM546.9 213.2h5.3v2.70h-5.3zM594.7 213.2h5.3v2.70h-5.3zM451.4 215.9h21.2v2.70h-21.2zM507.1 215.9h2.7v2.70h-2.7zM523.0 215.9h15.9v2.70h-15.9zM544.3 215.9h10.6v2.70h-10.6zM573.5 215.9h8.0v2.70h-8.0zM594.7 215.9h5.3v2.70h-5.3zM451.4 218.5h23.9v2.70h-23.9zM507.1 218.5h5.3v2.70h-5.3zM520.4 218.5h18.6v2.70h-18.6zM546.9 218.5h8.0v2.70h-8.0zM568.2 218.5h2.7v2.70h-2.7zM573.5 218.5h10.6v2.70h-10.6zM594.7 218.5h5.3v2.70h-5.3zM451.4 221.2h23.9v2.70h-23.9zM507.1 221.2h5.3v2.70h-5.3zM520.4 221.2h15.9v2.70h-15.9zM552.2 221.2h5.3v2.70h-5.3zM570.8 221.2h5.3v2.70h-5.3zM578.8 221.2h5.3v2.70h-5.3zM592.1 221.2h8.0v2.70h-8.0zM451.4 223.8h23.9v2.70h-23.9zM507.1 223.8h26.5v2.70h-26.5zM584.1 223.8h2.7v2.70h-2.7zM448.7 226.5h2.7v2.70h-2.7zM454.0 226.5h23.9v2.70h-23.9zM480.6 226.5h2.7v2.70h-2.7zM501.8 226.5h29.2v2.70h-29.2zM586.8 226.5h2.7v2.70h-2.7zM454.0 229.1h37.2v2.70h-37.2zM499.1 229.1h26.5v2.70h-26.5zM557.6 229.1h21.2v2.70h-21.2zM454.0 231.8h10.6v2.70h-10.6zM475.3 231.8h47.8v2.70h-47.8zM554.9 231.8h23.9v2.70h-23.9zM459.3 234.5h5.3v2.70h-5.3zM472.6 234.5h53.1v2.70h-53.1zM552.2 234.5h18.6v2.70h-18.6zM578.8 234.5h2.7v2.70h-2.7zM456.7 237.1h2.7v2.70h-2.7zM469.9 237.1h39.8v2.70h-39.8zM512.4 237.1h15.9v2.70h-15.9zM554.9 237.1h10.6v2.70h-10.6zM576.1 237.1h2.7v2.70h-2.7zM589.4 237.1h2.7v2.70h-2.7zM594.7 237.1h2.7v2.70h-2.7zM456.7 239.8h2.7v2.70h-2.7zM464.6 239.8h2.7v2.70h-2.7zM469.9 239.8h42.5v2.70h-42.5zM520.4 239.8h8.0v2.70h-8.0zM560.2 239.8h5.3v2.70h-5.3zM568.2 239.8h2.7v2.70h-2.7zM573.5 239.8h5.3v2.70h-5.3zM589.4 239.8h10.6v2.70h-10.6zM462.0 242.4h45.1v2.70h-45.1zM523.0 242.4h2.7v2.70h-2.7zM562.9 242.4h5.3v2.70h-5.3zM570.8 242.4h8.0v2.70h-8.0zM584.1 242.4h15.9v2.70h-15.9zM390.3 245.1h2.7v2.70h-2.7zM459.3 245.1h5.3v2.70h-5.3zM477.9 245.1h29.2v2.70h-29.2zM565.5 245.1h5.3v2.70h-5.3zM573.5 245.1h2.7v2.70h-2.7zM581.5 245.1h18.6v2.70h-18.6zM355.8 247.7h18.6v2.70h-18.6zM480.6 247.7h23.9v2.70h-23.9zM520.4 247.7h2.7v2.70h-2.7zM581.5 247.7h18.6v2.70h-18.6zM350.5 250.4h23.9v2.70h-23.9zM377.0 250.4h5.3v2.70h-5.3zM483.2 250.4h18.6v2.70h-18.6zM581.5 250.4h18.6v2.70h-18.6zM353.1 253.0h21.2v2.70h-21.2zM377.0 253.0h10.6v2.70h-10.6zM485.9 253.0h15.9v2.70h-15.9zM584.1 253.0h13.3v2.70h-13.3zM355.8 255.7h26.5v2.70h-26.5zM485.9 255.7h13.3v2.70h-13.3zM592.1 255.7h2.7v2.70h-2.7zM355.8 258.4h8.0v2.70h-8.0zM371.7 258.4h5.3v2.70h-5.3zM488.5 258.4h10.6v2.70h-10.6zM361.1 261.0h2.7v2.70h-2.7zM546.9 261.0h2.7v2.70h-2.7zM554.9 261.0h5.3v2.70h-5.3zM578.8 261.0h2.7v2.70h-2.7zM589.4 261.0h2.7v2.70h-2.7zM546.9 263.7h18.6v2.70h-18.6zM578.8 263.7h2.7v2.70h-2.7zM586.8 263.7h2.7v2.70h-2.7zM549.6 266.3h15.9v2.70h-15.9zM525.7 269.0h2.7v2.70h-2.7zM546.9 269.0h21.2v2.70h-21.2zM578.8 269.0h2.7v2.70h-2.7zM592.1 269.0h2.7v2.70h-2.7zM523.0 271.6h8.0v2.70h-8.0zM549.6 271.6h18.6v2.70h-18.6zM576.1 271.6h8.0v2.70h-8.0zM520.4 274.3h15.9v2.70h-15.9zM546.9 274.3h21.2v2.70h-21.2zM578.8 274.3h8.0v2.70h-8.0zM517.7 276.9h21.2v2.70h-21.2zM541.6 276.9h2.7v2.70h-2.7zM549.6 276.9h18.6v2.70h-18.6zM581.5 276.9h2.7v2.70h-2.7zM512.4 279.6h2.7v2.70h-2.7zM520.4 279.6h34.5v2.70h-34.5zM562.9 279.6h5.3v2.70h-5.3zM584.1 279.6h2.7v2.70h-2.7zM520.4 282.2h37.2v2.70h-37.2zM565.5 282.2h2.7v2.70h-2.7zM520.4 284.9h45.1v2.70h-45.1zM523.0 287.6h39.8v2.70h-39.8zM528.4 290.2h34.5v2.70h-34.5zM395.6 292.9h2.7v2.70h-2.7zM515.1 292.9h2.7v2.70h-2.7zM539.0 292.9h21.2v2.70h-21.2zM390.3 295.5h8.0v2.70h-8.0zM515.1 295.5h5.3v2.70h-5.3zM541.6 295.5h10.6v2.70h-10.6zM385.0 298.2h13.3v2.70h-13.3zM515.1 298.2h5.3v2.70h-5.3zM544.3 298.2h2.7v2.70h-2.7zM385.0 300.8h15.9v2.70h-15.9zM403.6 300.8h2.7v2.70h-2.7zM544.3 300.8h2.7v2.70h-2.7zM663.8 300.8h2.7v2.70h-2.7zM323.9 303.5h2.7v2.70h-2.7zM347.8 303.5h2.7v2.70h-2.7zM387.6 303.5h18.6v2.70h-18.6zM544.3 303.5h2.7v2.70h-2.7zM653.1 303.5h2.7v2.70h-2.7zM658.5 303.5h13.3v2.70h-13.3zM387.6 306.1h15.9v2.70h-15.9zM647.8 306.1h8.0v2.70h-8.0zM323.9 308.8h23.9v2.70h-23.9zM350.5 308.8h8.0v2.70h-8.0zM392.9 308.8h13.3v2.70h-13.3zM647.8 308.8h2.7v2.70h-2.7zM326.6 311.4h34.5v2.70h-34.5zM650.5 311.4h5.3v2.70h-5.3zM671.7 311.4h2.7v2.70h-2.7zM326.6 314.1h31.9v2.70h-31.9zM650.5 314.1h5.3v2.70h-5.3zM663.8 314.1h8.0v2.70h-8.0zM326.6 316.8h8.0v2.70h-8.0zM342.5 316.8h2.7v2.70h-2.7zM653.1 316.8h5.3v2.70h-5.3zM663.8 316.8h2.7v2.70h-2.7zM326.6 319.4h2.7v2.70h-2.7zM377.0 319.4h5.3v2.70h-5.3zM655.8 319.4h2.7v2.70h-2.7zM661.1 319.4h5.3v2.70h-5.3zM374.4 322.1h10.6v2.70h-10.6zM663.8 322.1h2.7v2.70h-2.7zM374.4 324.7h18.6v2.70h-18.6zM395.6 324.7h2.7v2.70h-2.7zM663.8 324.7h5.3v2.70h-5.3zM385.0 327.4h13.3v2.70h-13.3zM661.1 327.4h10.6v2.70h-10.6zM392.9 330.0h5.3v2.70h-5.3zM663.8 330.0h5.3v2.70h-5.3zM663.8 332.7h5.3v2.70h-5.3zM663.8 335.3h5.3v2.70h-5.3zM666.4 338.0h2.7v2.70h-2.7zM663.8 340.7h5.3v2.70h-5.3zM175.2 359.2h2.7v2.70h-2.7zM175.2 361.9h8.0v2.70h-8.0zM220.4 361.9h2.7v2.70h-2.7zM172.6 364.5h13.3v2.70h-13.3zM220.4 364.5h15.9v2.70h-15.9zM172.6 367.2h2.7v2.70h-2.7zM185.9 367.2h2.7v2.70h-2.7zM217.7 367.2h13.3v2.70h-13.3zM233.6 367.2h2.7v2.70h-2.7zM188.5 369.9h2.7v2.70h-2.7zM193.8 369.9h8.0v2.70h-8.0zM212.4 369.9h5.3v2.70h-5.3zM225.7 369.9h5.3v2.70h-5.3zM244.3 369.9h5.3v2.70h-5.3zM172.6 372.5h2.7v2.70h-2.7zM225.7 372.5h5.3v2.70h-5.3zM249.6 372.5h2.7v2.70h-2.7zM228.3 375.2h5.3v2.70h-5.3zM252.2 375.2h2.7v2.70h-2.7zM172.6 377.8h2.7v2.70h-2.7zM225.7 377.8h10.6v2.70h-10.6zM249.6 377.8h5.3v2.70h-5.3zM172.6 380.5h5.3v2.70h-5.3zM225.7 380.5h13.3v2.70h-13.3zM249.6 380.5h2.7v2.70h-2.7zM177.9 383.1h2.7v2.70h-2.7zM225.7 383.1h13.3v2.70h-13.3zM249.6 383.1h2.7v2.70h-2.7zM183.2 385.8h8.0v2.70h-8.0zM223.0 385.8h18.6v2.70h-18.6zM246.9 385.8h5.3v2.70h-5.3zM188.5 388.4h8.0v2.70h-8.0zM215.1 388.4h29.2v2.70h-29.2zM246.9 388.4h2.7v2.70h-2.7zM209.8 391.1h21.2v2.70h-21.2zM241.6 391.1h8.0v2.70h-8.0zM207.1 393.8h8.0v2.70h-8.0zM217.7 393.8h8.0v2.70h-8.0zM241.6 393.8h5.3v2.70h-5.3zM241.6 396.4h2.7v2.70h-2.7zM573.5 444.2h2.7v2.70h-2.7zM562.9 446.9h5.3v2.70h-5.3zM570.8 446.9h8.0v2.70h-8.0zM570.8 449.5h10.6v2.70h-10.6zM602.7 449.5h2.7v2.70h-2.7zM573.5 452.2h5.3v2.70h-5.3zM605.3 452.2h2.7v2.70h-2.7zM605.3 454.8h5.3v2.70h-5.3zM605.3 457.5h2.7v2.70h-2.7zM581.5 484.0h2.7v2.70h-2.7zM416.8 500.0h5.3v2.70h-5.3zM358.4 502.6h5.3v2.70h-5.3zM419.5 502.6h2.7v2.70h-2.7zM419.5 505.3h5.3v2.70h-5.3zM422.2 507.9h2.7v2.70h-2.7zM432.8 507.9h2.7v2.70h-2.7zM329.2 510.6h5.3v2.70h-5.3zM422.2 510.6h2.7v2.70h-2.7zM623.9 518.5h2.7v2.70h-2.7zM623.9 521.2h5.3v2.70h-5.3zM623.9 523.8h5.3v2.70h-5.3zM623.9 526.5h8.0v2.70h-8.0zM626.6 529.2h5.3v2.70h-5.3zM432.8 531.8h2.7v2.70h-2.7zM626.6 531.8h5.3v2.70h-5.3zM626.6 534.5h5.3v2.70h-5.3zM629.2 537.1h5.3v2.70h-5.3zM584.1 539.8h5.3v2.70h-5.3zM629.2 539.8h5.3v2.70h-5.3zM586.8 542.4h5.3v2.70h-5.3zM631.9 542.4h5.3v2.70h-5.3zM586.8 545.1h8.0v2.70h-8.0zM631.9 545.1h5.3v2.70h-5.3zM592.1 547.7h5.3v2.70h-5.3zM631.9 547.7h2.7v2.70h-2.7zM637.2 547.7h2.7v2.70h-2.7zM592.1 550.4h8.0v2.70h-8.0zM594.7 553.1h13.3v2.70h-13.3zM597.4 555.7h5.3v2.70h-5.3zM608.0 555.7h8.0v2.70h-8.0zM602.7 558.4h10.6v2.70h-10.6zM411.5 566.3h5.3v2.70h-5.3zM411.5 569.0h2.7v2.70h-2.7zM541.6 571.6h2.7v2.70h-2.7zM536.3 574.3h10.6v2.70h-10.6zM539.0 577.0h8.0v2.70h-8.0zM541.6 579.6h2.7v2.70h-2.7zM552.2 579.6h2.7v2.70h-2.7zM549.6 582.3h8.0v2.70h-8.0zM549.6 584.9h8.0v2.70h-8.0zM549.6 587.6h2.7v2.70h-2.7zM554.9 587.6h2.7v2.70h-2.7zM549.6 590.2h10.6v2.70h-10.6z"/>
<path fill="#00dc82" d="M491.2 192.0h2.7v2.70h-2.7zM488.5 194.6h10.6v2.70h-10.6zM483.2 197.3h18.6v2.70h-18.6zM475.3 199.9h8.0v2.70h-8.0zM491.2 199.9h10.6v2.70h-10.6zM472.6 202.6h5.3v2.70h-5.3zM493.8 202.6h8.0v2.70h-8.0zM469.9 205.2h10.6v2.70h-10.6zM496.5 205.2h8.0v2.70h-8.0zM469.9 207.9h37.2v2.70h-37.2zM472.6 210.6h5.3v2.70h-5.3zM485.9 210.6h21.2v2.70h-21.2zM472.6 213.2h5.3v2.70h-5.3zM488.5 213.2h18.6v2.70h-18.6zM472.6 215.9h10.6v2.70h-10.6zM488.5 215.9h18.6v2.70h-18.6zM475.3 218.5h31.9v2.70h-31.9zM480.6 221.2h26.5v2.70h-26.5zM485.9 223.8h21.2v2.70h-21.2zM483.2 226.5h18.6v2.70h-18.6zM491.2 229.1h8.0v2.70h-8.0zM464.6 231.8h10.6v2.70h-10.6zM464.6 234.5h8.0v2.70h-8.0zM459.3 237.1h10.6v2.70h-10.6zM509.8 237.1h2.7v2.70h-2.7zM459.3 239.8h5.3v2.70h-5.3zM467.3 239.8h2.7v2.70h-2.7zM512.4 239.8h8.0v2.70h-8.0zM459.3 242.4h2.7v2.70h-2.7zM517.7 242.4h5.3v2.70h-5.3zM658.5 306.1h13.3v2.70h-13.3zM650.5 308.8h5.3v2.70h-5.3zM666.4 308.8h5.3v2.70h-5.3zM655.8 311.4h15.9v2.70h-15.9zM655.8 314.1h8.0v2.70h-8.0zM658.5 316.8h5.3v2.70h-5.3zM175.2 367.2h10.6v2.70h-10.6zM231.0 367.2h2.7v2.70h-2.7zM236.3 367.2h2.7v2.70h-2.7zM175.2 369.9h5.3v2.70h-5.3zM191.2 369.9h2.7v2.70h-2.7zM217.7 369.9h8.0v2.70h-8.0zM236.3 369.9h5.3v2.70h-5.3zM175.2 372.5h5.3v2.70h-5.3zM188.5 372.5h18.6v2.70h-18.6zM212.4 372.5h5.3v2.70h-5.3zM223.0 372.5h2.7v2.70h-2.7zM233.6 372.5h10.6v2.70h-10.6zM172.6 375.2h5.3v2.70h-5.3zM193.8 375.2h2.7v2.70h-2.7zM199.1 375.2h2.7v2.70h-2.7zM223.0 375.2h5.3v2.70h-5.3zM233.6 375.2h8.0v2.70h-8.0zM249.6 375.2h2.7v2.70h-2.7zM175.2 377.8h2.7v2.70h-2.7zM236.3 377.8h8.0v2.70h-8.0zM177.9 380.5h2.7v2.70h-2.7zM223.0 380.5h2.7v2.70h-2.7zM239.0 380.5h8.0v2.70h-8.0zM180.6 383.1h5.3v2.70h-5.3zM220.4 383.1h5.3v2.70h-5.3zM239.0 383.1h5.3v2.70h-5.3zM246.9 383.1h2.7v2.70h-2.7zM191.2 385.8h5.3v2.70h-5.3zM215.1 385.8h8.0v2.70h-8.0zM241.6 385.8h5.3v2.70h-5.3zM204.4 388.4h10.6v2.70h-10.6zM244.3 388.4h2.7v2.70h-2.7zM199.1 391.1h10.6v2.70h-10.6zM201.8 393.8h5.3v2.70h-5.3zM568.2 523.8h2.7v2.70h-2.7zM634.6 547.7h2.7v2.70h-2.7zM631.9 550.4h8.0v2.70h-8.0zM602.7 555.7h5.3v2.70h-5.3zM424.8 587.6h2.7v2.70h-2.7zM552.2 587.6h2.7v2.70h-2.7z"/>
<path fill="#00b932" d="M515.1 192.0h2.7v2.70h-2.7zM512.4 194.6h2.7v2.70h-2.7zM525.7 194.6h2.7v2.70h-2.7zM507.1 197.3h2.7v2.70h-2.7zM512.4 197.3h2.7v2.70h-2.7zM531.0 197.3h5.3v2.70h-5.3zM483.2 199.9h8.0v2.70h-8.0zM504.5 199.9h8.0v2.70h-8.0zM533.7 199.9h5.3v2.70h-5.3zM477.9 202.6h15.9v2.70h-15.9zM504.5 202.6h8.0v2.70h-8.0zM533.7 202.6h5.3v2.70h-5.3zM562.9 202.6h2.7v2.70h-2.7zM576.1 202.6h2.7v2.70h-2.7zM480.6 205.2h15.9v2.70h-15.9zM504.5 205.2h8.0v2.70h-8.0zM531.0 205.2h5.3v2.70h-5.3zM560.2 205.2h18.6v2.70h-18.6zM586.8 205.2h2.7v2.70h-2.7zM507.1 207.9h8.0v2.70h-8.0zM531.0 207.9h2.7v2.70h-2.7zM552.2 207.9h39.8v2.70h-39.8zM477.9 210.6h8.0v2.70h-8.0zM507.1 210.6h8.0v2.70h-8.0zM528.4 210.6h5.3v2.70h-5.3zM552.2 210.6h2.7v2.70h-2.7zM557.6 210.6h2.7v2.70h-2.7zM562.9 210.6h2.7v2.70h-2.7zM570.8 210.6h21.2v2.70h-21.2zM477.9 213.2h10.6v2.70h-10.6zM509.8 213.2h8.0v2.70h-8.0zM523.0 213.2h5.3v2.70h-5.3zM552.2 213.2h2.7v2.70h-2.7zM573.5 213.2h10.6v2.70h-10.6zM592.1 213.2h2.7v2.70h-2.7zM483.2 215.9h5.3v2.70h-5.3zM509.8 215.9h13.3v2.70h-13.3zM554.9 215.9h2.7v2.70h-2.7zM570.8 215.9h2.7v2.70h-2.7zM581.5 215.9h5.3v2.70h-5.3zM592.1 215.9h2.7v2.70h-2.7zM512.4 218.5h8.0v2.70h-8.0zM554.9 218.5h2.7v2.70h-2.7zM570.8 218.5h2.7v2.70h-2.7zM584.1 218.5h2.7v2.70h-2.7zM592.1 218.5h2.7v2.70h-2.7zM475.3 221.2h5.3v2.70h-5.3zM512.4 221.2h8.0v2.70h-8.0zM584.1 221.2h8.0v2.70h-8.0zM475.3 223.8h10.6v2.70h-10.6zM586.8 223.8h5.3v2.70h-5.3zM477.9 226.5h2.7v2.70h-2.7zM395.6 231.8h2.7v2.70h-2.7zM395.6 234.5h2.7v2.70h-2.7zM570.8 234.5h8.0v2.70h-8.0zM565.5 237.1h10.6v2.70h-10.6zM565.5 239.8h2.7v2.70h-2.7zM570.8 239.8h2.7v2.70h-2.7zM581.5 263.7h5.3v2.70h-5.3zM581.5 266.3h10.6v2.70h-10.6zM581.5 269.0h10.6v2.70h-10.6zM584.1 271.6h10.6v2.70h-10.6zM586.8 274.3h8.0v2.70h-8.0zM584.1 276.9h8.0v2.70h-8.0zM554.9 279.6h8.0v2.70h-8.0zM557.6 282.2h8.0v2.70h-8.0zM655.8 306.1h2.7v2.70h-2.7zM655.8 308.8h10.6v2.70h-10.6zM379.7 327.4h2.7v2.70h-2.7zM180.6 369.9h8.0v2.70h-8.0zM231.0 369.9h5.3v2.70h-5.3zM180.6 372.5h8.0v2.70h-8.0zM217.7 372.5h5.3v2.70h-5.3zM231.0 372.5h2.7v2.70h-2.7zM244.3 372.5h5.3v2.70h-5.3zM177.9 375.2h15.9v2.70h-15.9zM196.5 375.2h2.7v2.70h-2.7zM201.8 375.2h15.9v2.70h-15.9zM241.6 375.2h2.7v2.70h-2.7zM246.9 375.2h2.7v2.70h-2.7zM177.9 377.8h2.7v2.70h-2.7zM193.8 377.8h15.9v2.70h-15.9zM220.4 377.8h5.3v2.70h-5.3zM244.3 377.8h2.7v2.70h-2.7zM180.6 380.5h5.3v2.70h-5.3zM220.4 380.5h2.7v2.70h-2.7zM246.9 380.5h2.7v2.70h-2.7zM188.5 383.1h2.7v2.70h-2.7zM215.1 383.1h5.3v2.70h-5.3zM244.3 383.1h2.7v2.70h-2.7zM209.8 385.8h5.3v2.70h-5.3zM196.5 388.4h8.0v2.70h-8.0zM331.9 449.5h5.3v2.70h-5.3zM334.5 452.2h2.7v2.70h-2.7zM488.5 476.1h5.3v2.70h-5.3zM488.5 478.7h5.3v2.70h-5.3zM491.2 481.4h5.3v2.70h-5.3zM493.8 484.0h2.7v2.70h-2.7zM528.4 484.0h2.7v2.70h-2.7zM493.8 486.7h2.7v2.70h-2.7zM531.0 486.7h2.7v2.70h-2.7zM493.8 489.3h5.3v2.70h-5.3zM531.0 489.3h2.7v2.70h-2.7zM531.0 492.0h2.7v2.70h-2.7zM531.0 494.6h2.7v2.70h-2.7zM244.3 505.3h5.3v2.70h-5.3zM244.3 507.9h5.3v2.70h-5.3zM477.9 537.1h5.3v2.70h-5.3zM477.9 539.8h8.0v2.70h-8.0zM480.6 542.4h5.3v2.70h-5.3zM480.6 545.1h5.3v2.70h-5.3zM363.7 579.6h5.3v2.70h-5.3zM363.7 582.3h5.3v2.70h-5.3z"/>
<path fill="#46be0f" d="M217.7 375.2h5.3v2.70h-5.3zM180.6 377.8h13.3v2.70h-13.3zM209.8 377.8h10.6v2.70h-10.6zM185.9 380.5h34.5v2.70h-34.5zM185.9 383.1h2.7v2.70h-2.7zM191.2 383.1h23.9v2.70h-23.9zM196.5 385.8h13.3v2.70h-13.3zM244.3 539.8h5.3v2.70h-5.3zM246.9 542.4h2.7v2.70h-2.7z"/>
<path fill="#a5e114" d="M517.7 194.6h2.7v2.70h-2.7zM512.4 199.9h2.7v2.70h-2.7zM531.0 199.9h2.7v2.70h-2.7zM512.4 202.6h2.7v2.70h-2.7zM531.0 202.6h2.7v2.70h-2.7zM512.4 205.2h5.3v2.70h-5.3zM515.1 207.9h5.3v2.70h-5.3zM515.1 210.6h10.6v2.70h-10.6zM554.9 210.6h2.7v2.70h-2.7zM560.2 210.6h2.7v2.70h-2.7zM565.5 210.6h5.3v2.70h-5.3zM517.7 213.2h5.3v2.70h-5.3zM554.9 213.2h5.3v2.70h-5.3zM568.2 213.2h5.3v2.70h-5.3zM584.1 213.2h8.0v2.70h-8.0zM557.6 215.9h2.7v2.70h-2.7zM586.8 215.9h5.3v2.70h-5.3zM557.6 218.5h10.6v2.70h-10.6zM586.8 218.5h5.3v2.70h-5.3z"/>
<path fill="#ffff00" d="M515.1 194.6h2.7v2.70h-2.7zM523.0 194.6h2.7v2.70h-2.7zM515.1 197.3h2.7v2.70h-2.7zM528.4 197.3h2.7v2.70h-2.7zM515.1 199.9h2.7v2.70h-2.7zM515.1 202.6h5.3v2.70h-5.3zM528.4 202.6h2.7v2.70h-2.7zM517.7 205.2h2.7v2.70h-2.7zM528.4 205.2h2.7v2.70h-2.7zM520.4 207.9h2.7v2.70h-2.7zM528.4 207.9h2.7v2.70h-2.7zM525.7 210.6h2.7v2.70h-2.7zM560.2 213.2h8.0v2.70h-8.0zM560.2 215.9h2.7v2.70h-2.7zM565.5 215.9h5.3v2.70h-5.3zM244.3 375.2h2.7v2.70h-2.7zM246.9 377.8h2.7v2.70h-2.7z"/>
<path fill="#ffb400" d="M520.4 194.6h2.7v2.70h-2.7zM517.7 197.3h5.3v2.70h-5.3zM525.7 197.3h2.7v2.70h-2.7zM517.7 199.9h2.7v2.70h-2.7zM525.7 199.9h5.3v2.70h-5.3zM525.7 202.6h2.7v2.70h-2.7zM525.7 207.9h2.7v2.70h-2.7zM562.9 215.9h2.7v2.70h-2.7z"/>
<path fill="#ff5a00" d="M520.4 199.9h2.7v2.70h-2.7zM520.4 205.2h2.7v2.70h-2.7zM525.7 205.2h2.7v2.70h-2.7zM523.0 207.9h2.7v2.70h-2.7z"/>
<path fill="#ff1e00" d="M523.0 197.3h2.7v2.70h-2.7zM523.0 199.9h2.7v2.70h-2.7zM520.4 202.6h5.3v2.70h-5.3zM523.0 205.2h2.7v2.70h-2.7z"/>
</g>
<path d="M184.3 72.5 L180.3 167.3" fill="none" stroke="#000" stroke-width="1.0" stroke-linejoin="round" stroke-linecap="round"/>
<path d="M154.0 166.2 L162.0 166.6 L170.0 167.0 L178.0 167.4 L186.0 167.8 L194.0 168.2 L202.0 168.5 L210.0 168.9 L218.0 169.2 L226.0 169.5 L234.0 169.8 L242.0 170.1 L250.0 170.4 L258.0 170.7 L266.0 170.9 L274.0 171.2 L282.0 171.4 L290.0 171.6 L298.0 171.8 L306.0 172.0 L314.0 172.2 L322.0 172.3 L330.0 172.5 L338.0 172.6 L346.0 172.8 L354.0 172.9 L362.0 173.0 L370.0 173.0 L378.0 173.1 L386.0 173.2 L394.0 173.2 L402.0 173.3 L410.0 173.3 L418.0 173.3 L426.0 173.3 L434.0 173.3 L442.0 173.3 L450.0 173.2 L458.0 173.2 L466.0 173.1 L474.0 173.0 L482.0 172.9 L490.0 172.8 L498.0 172.7 L506.0 172.6 L514.0 172.4 L522.0 172.3 L530.0 172.1 L538.0 171.9 L546.0 171.7 L554.0 171.5 L562.0 171.3 L570.0 171.0 L571.0 171.0" fill="none" stroke="#000" stroke-width="1.0" stroke-linejoin="round" stroke-linecap="round"/>
<path d="M154.0 199.8 L162.0 200.2 L170.0 200.6 L178.0 200.9 L186.0 201.3 L194.0 201.6 L202.0 201.9 L210.0 202.2 L218.0 202.5 L226.0 202.8 L234.0 203.1 L242.0 203.3 L250.0 203.6 L258.0 203.8 L266.0 204.1 L274.0 204.3 L282.0 204.5 L287.0 204.7 L285.6 270.0 L284.4 331.0" fill="none" stroke="#000" stroke-width="1.0" stroke-linejoin="round" stroke-linecap="round"/>
<path d="M284.4 331.0 L288.8 331.0 L291.9 333.1 L293.8 336.9 L296.2 340.6 L300.0 343.1 L303.1 344.4 L305.6 343.1 L308.1 342.2 L311.2 343.1 L314.4 344.8 L316.9 343.1 L317.2 340.6 L319.4 340.0 L322.5 342.5 L325.6 346.2 L327.5 348.8 L328.1 352.5 L330.0 355.0 L333.8 356.2 L338.1 355.6 L341.2 357.5 L345.0 360.0 L348.8 361.2 L353.8 361.2 L357.5 360.0 L360.0 359.8 L362.5 361.9 L365.0 365.0 L367.5 365.6 L370.0 363.8 L372.5 361.2 L375.0 361.5 L380.0 361.5 L380.0 362.5 L383.8 361.9 L386.2 360.6 L387.5 363.8 L388.1 368.1 L390.0 370.0 L392.5 371.2 L393.8 375.0 L395.6 378.1 L398.8 380.0 L402.5 379.4 L405.6 376.9 L408.1 373.1 L410.6 371.9 L413.1 372.2 L415.0 375.0 L417.5 376.2 L420.0 376.9 L421.9 378.8 L423.1 381.9 L425.6 381.9 L428.1 380.6 L430.0 378.8 L432.5 379.4 L435.0 376.9 L436.9 377.5 L437.5 381.2 L436.9 385.0 L438.1 388.1 L440.6 389.4 L442.2 386.9 L442.5 383.1 L443.8 380.6 L445.6 379.4 L447.5 375.0 L448.8 373.5" fill="none" stroke="#000" stroke-width="1.0" stroke-linejoin="round" stroke-linecap="round"/>
<path d="M448.8 373.5 L451.2 373.8 L452.5 376.2 L453.8 378.8 L456.2 379.4 L458.8 381.2 L460.6 382.5 L462.5 380.0 L463.8 376.9 L466.2 376.2 L468.8 377.5 L470.0 375.0 L469.4 371.9 L467.5 369.4 L466.2 367.5 L468.1 368.1 L470.0 366.2 L471.9 365.0 L473.1 366.2 L471.2 369.4 L470.6 372.5 L471.2 375.6 L470.6 378.8 L471.2 381.2" fill="none" stroke="#000" stroke-width="2.6" stroke-linejoin="round" stroke-linecap="round"/>
<path d="M471.2 381.2 L473.1 382.5 L475.0 384.8 L477.5 385.2 L480.0 385.0 L473.8 383.1 L475.0 385.0 L478.8 385.0 L480.6 387.5 L482.5 390.0 L484.4 388.1 L485.6 385.6 L488.8 386.2 L491.9 385.6 L492.5 382.5 L494.4 381.2 L498.8 380.6 L501.2 381.2 L504.4 378.1 L507.5 379.4 L510.6 381.2 L513.8 378.8 L517.5 376.9 L521.2 375.6 L523.8 374.4 L525.6 376.9 L528.1 376.9 L530.6 378.1 L533.8 378.1 L537.5 377.8 L540.0 376.9 L542.5 375.6 L543.1 371.9 L545.6 372.5 L548.1 373.8 L550.0 374.4 L552.5 376.9 L555.6 378.1 L558.1 378.8 L560.0 381.2 L562.5 383.8 L565.0 385.6 L570.0 385.6 L562.5 384.4 L565.6 385.6 L568.8 386.2 L571.9 388.1 L575.0 389.4 L578.1 390.0 L580.0 391.2 L583.1 391.2 L585.0 392.5 L586.9 394.4 L588.8 396.2 L590.6 397.2 L592.5 396.0 L594.4 396.9 L596.2 395.6 L598.1 396.5 L600.0 395.6 L601.9 395.0 L608.1 396.0" fill="none" stroke="#000" stroke-width="1.0" stroke-linejoin="round" stroke-linecap="round"/>
<path d="M608.1 396.0 L610.0 432.5 L611.8 490.0 L612.2 499.0 L615.5 502.0 L620.0 505.0 L622.2 508.8 L625.2 512.5 L626.0 517.0 L625.7 524.5 L626.8 529.0 L631.2 530.5 L632.8 534.2 L635.0 536.5 L635.0 541.8 L638.0 545.5 L640.2 549.2 L640.2 552.2 L642.5 553.0 L642.5 556.0 L641.8 559.0 L644.0 561.2 L641.8 563.5 L643.2 567.2 L642.8 574.0 L641.0 578.5 L638.0 584.5 L635.8 589.0 L635.0 592.8 L633.5 595.0 L635.0 598.0 L635.8 601.0 L635.0 603.2" fill="none" stroke="#000" stroke-width="1.0" stroke-linejoin="round" stroke-linecap="round"/>
<path d="M610.0 432.5 L685.0 429.0" fill="none" stroke="#000" stroke-width="1.0" stroke-linejoin="round" stroke-linecap="round"/>
<path d="M568.8 72.5 L571.0 171.0 L572.1 203.1 L575.3 227.5 L580.0 251.9 L583.6 274.4 L584.6 300.0 L584.5 340.0 L583.5 391.2" fill="none" stroke="#000" stroke-width="1.0" stroke-linejoin="round" stroke-linecap="round"/>
<path d="M572.1 203.1 L600.0 202.3 L640.0 200.8 L685.0 198.8" fill="none" stroke="#000" stroke-width="1.0" stroke-linejoin="round" stroke-linecap="round"/>
<path d="M423.2 286.2 L424.8 290.7 L429.5 290.8 L425.7 293.6 L427.1 298.1 L423.2 295.4 L419.3 298.1 L420.7 293.6 L416.9 290.8 L421.6 290.7Z" fill="none" stroke="#000" stroke-width="1.0"/>
<path d="M458.0 444.4 L459.6 448.9 L464.3 449.0 L460.5 451.8 L461.9 456.3 L458.0 453.6 L454.1 456.3 L455.5 451.8 L451.7 449.0 L456.4 448.9Z" fill="none" stroke="#000" stroke-width="1.0"/>
<clipPath id="fc"><rect x="153.9" y="72.6" width="530.9" height="530.5"/></clipPath><path clip-path="url(#fc)" d="M168.3 76.2 167.1 76.7 165.8 77.2 164.6 77.7 163.4 78.2 162.1 78.7 160.9 79.2M164.5 79.5L160.9 79.2M163.2 76.5L160.9 79.2M189.2 74.0 188.7 75.2 188.2 76.5 187.7 77.7 187.2 78.9 186.7 80.2 186.3 81.5M189.0 79.0L186.3 81.5M185.9 77.9L186.3 81.5M213.1 74.6 212.4 75.6 211.6 76.7 210.9 77.7 210.1 78.7 209.4 79.8 208.6 80.8M211.7 79.2L208.6 80.8M209.1 77.4L208.6 80.8M236.7 74.2 235.8 75.4 234.9 76.5 234.0 77.7 233.1 78.9 232.2 80.0 231.3 81.2M234.9 79.5L231.3 81.2M232.0 77.3L231.3 81.2M260.6 74.2 259.7 75.1 258.9 76.0 258.0 76.8 257.1 77.7 256.2 78.6 255.4 79.5 254.5 80.3 253.7 81.2M257.9 79.8L253.7 81.2M255.0 77.0L253.7 81.2M283.0 74.0 282.1 75.2 281.2 76.5 280.2 77.7 279.3 78.9 278.4 80.2 277.5 81.5M281.2 79.6L277.5 81.5M278.2 77.3L277.5 81.5M306.1 74.2 305.2 75.4 304.3 76.5 303.4 77.7 302.5 78.9 301.5 80.0 300.6 81.2M304.3 79.5L300.6 81.2M301.4 77.3L300.6 81.2M329.6 75.0 328.6 75.9 327.6 76.8 326.5 77.7 325.5 78.6 324.4 79.5 323.4 80.5M327.0 79.5L323.4 80.5M324.8 77.0L323.4 80.5M352.8 75.2 351.7 76.0 350.7 76.9 349.6 77.7 348.6 78.5 347.6 79.4 346.5 80.2M350.0 79.5L346.5 80.2M348.0 76.9L346.5 80.2M374.3 75.0 373.5 76.3 372.8 77.7 372.0 79.1 371.2 80.4M373.7 78.8L371.2 80.4M371.4 77.4L371.2 80.4M396.5 74.0 396.3 75.2 396.1 76.5 395.9 77.7 395.7 78.9 395.5 80.2 395.3 81.4M397.3 78.7L395.3 81.4M394.2 78.2L395.3 81.4M420.3 75.2 419.7 76.5 419.0 77.7 418.4 78.9 417.8 80.2M420.2 78.4L417.8 80.2M417.8 77.2L417.8 80.2M441.2 74.6 441.7 76.1 442.2 77.7 442.7 79.3 443.1 80.8M443.6 77.9L443.1 80.8M441.0 78.7L443.1 80.8M463.4 76.7 464.4 77.2 465.3 77.7 466.2 78.2 467.2 78.7M465.5 76.2L467.2 78.7M464.2 78.6L467.2 78.7M486.5 77.3 487.5 77.5 488.4 77.7 489.4 77.9 490.3 78.1M487.9 76.2L490.3 78.1M487.4 78.9L490.3 78.1M509.1 77.7 510.3 77.7 511.5 77.7 512.8 77.7 514.0 77.7M511.4 76.3L514.0 77.7M511.4 79.1L514.0 77.7M532.8 76.2 533.7 77.0 534.7 77.7 535.6 78.4 536.6 79.2M535.3 76.5L536.6 79.2M533.6 78.6L536.6 79.2M557.4 74.6 557.6 76.1 557.8 77.7 558.0 79.3 558.3 80.8M559.2 78.0L558.3 80.8M556.5 78.4L558.3 80.8M579.4 77.1 580.2 77.4 580.9 77.7 581.7 78.0 582.4 78.4M580.5 76.0L582.4 78.4M579.4 78.5L582.4 78.4M602.2 75.2 603.1 76.5 604.1 77.7 605.0 78.9 606.0 80.2M605.4 77.2L606.0 80.2M603.3 78.9L606.0 80.2M624.1 78.0 625.6 77.9 627.2 77.7 628.8 77.5 630.3 77.3M627.5 76.3L630.3 77.3M627.8 79.0L630.3 77.3M647.8 77.3 649.1 77.5 650.3 77.7 651.6 77.9 652.8 78.1M650.4 76.3L652.8 78.1M650.0 79.0L652.8 78.1M176.5 95.3 176.8 96.2 177.1 97.2 177.4 98.1 177.7 99.0M178.2 96.1L177.7 99.0M175.6 96.9L177.7 99.0M202.5 93.2 201.7 94.5 201.0 95.8 200.2 97.2 199.5 98.5 198.7 99.8 197.9 101.1M201.4 98.9L197.9 101.1M198.2 97.0L197.9 101.1M225.9 93.4 225.0 94.7 224.2 95.9 223.4 97.2 222.5 98.4 221.7 99.6 220.8 100.9M224.4 98.9L220.8 100.9M221.4 96.8L220.8 100.9M248.8 93.7 248.0 94.8 247.2 96.0 246.5 97.2 245.7 98.3 245.0 99.5 244.2 100.6M247.5 98.8L244.2 100.6M244.6 96.9L244.2 100.6M269.6 96.5 269.6 96.8 269.6 97.2 269.6 97.5 269.6 97.8M271.0 95.1L269.6 97.8M268.3 95.1L269.6 97.8M294.6 94.7 293.7 95.9 292.8 97.2 291.8 98.4 290.9 99.7M293.6 98.3L290.9 99.7M291.4 96.7L290.9 99.7M316.5 95.9 316.2 96.5 315.9 97.2 315.6 97.8 315.3 98.4M317.7 96.6L315.3 98.4M315.2 95.4L315.3 98.4M342.1 95.3 341.1 95.9 340.1 96.5 339.0 97.2 338.0 97.8 336.9 98.4 335.9 99.0M339.2 98.8L335.9 99.0M337.6 96.2L335.9 99.0M364.6 96.5 363.4 96.8 362.1 97.2 360.9 97.5 359.6 97.8M362.6 98.4L359.6 97.8M361.9 95.8L359.6 97.8M384.7 98.2 385.0 97.6 385.3 97.2 385.6 96.7 385.9 96.2M383.3 97.7L385.9 96.2M385.6 99.1L385.9 96.2M409.6 96.7 409.0 97.0 408.4 97.2 407.8 97.3 407.1 97.5M410.1 98.1L407.1 97.5M409.3 95.5L407.1 97.5M432.5 93.4 432.2 94.6 431.9 95.9 431.5 97.2 431.2 98.4 430.8 99.6 430.5 100.9M432.9 98.3L430.5 100.9M429.8 97.5L430.5 100.9M456.1 94.4 455.4 95.8 454.7 97.2 453.9 98.5 453.2 99.9M455.6 98.2L453.2 99.9M453.2 96.9L453.2 99.9M477.1 92.8 477.3 94.2 477.6 95.7 477.8 97.2 478.0 98.6 478.2 100.1 478.4 101.5M479.7 97.8L478.4 101.5M476.1 98.2L478.4 101.5M499.8 93.7 500.2 94.8 500.6 96.0 500.9 97.2 501.3 98.3 501.6 99.5 501.9 100.6M502.5 97.4L501.9 100.6M499.7 98.3L501.9 100.6M518.5 94.6 519.6 95.1 520.7 95.6 521.8 96.1 522.9 96.7 524.0 97.2 525.2 97.6 526.3 98.2 527.4 98.7 528.5 99.2 529.6 99.7M526.6 95.8L529.6 99.7M524.6 99.9L529.6 99.7M544.7 96.1 545.9 96.7 547.2 97.2 548.4 97.6 549.7 98.1M547.7 95.9L549.7 98.1M546.7 98.4L549.7 98.1M590.6 91.6 591.2 92.7 591.8 93.8 592.3 94.9 592.9 96.0 593.4 97.2 594.0 98.3 594.6 99.4 595.1 100.5 595.7 101.6 596.4 102.7M596.2 97.7L596.4 102.7M592.2 99.9L596.4 102.7M613.8 96.4 615.2 96.8 616.6 97.2 617.9 97.5 619.3 97.8M617.0 95.9L619.3 97.8M616.4 98.5L619.3 97.8M637.0 96.8 638.3 97.0 639.7 97.2 641.1 97.3 642.5 97.5M640.0 95.8L642.5 97.5M639.6 98.5L642.5 97.5M166.8 114.3 165.7 115.5 164.6 116.6 163.5 117.7 162.4 118.8M165.2 117.9L162.4 118.8M163.3 116.0L162.4 118.8M190.5 115.3 189.1 116.0 187.7 116.6 186.4 117.2 185.0 117.9M188.0 118.0L185.0 117.9M186.8 115.5L185.0 117.9M213.3 115.3 212.1 116.0 210.9 116.6 209.6 117.2 208.4 117.9M211.4 117.9L208.4 117.9M210.1 115.4L208.4 117.9M237.5 112.2 236.6 113.3 235.7 114.4 234.9 115.5 234.0 116.6 233.1 117.7 232.2 118.8 231.3 119.9 230.5 121.0M235.0 118.9L230.5 121.0M231.5 116.1L230.5 121.0M259.0 112.8 258.4 114.1 257.7 115.4 257.1 116.6 256.5 117.8 255.9 119.1 255.3 120.4M258.3 118.1L255.3 120.4M255.2 116.6L255.3 120.4M280.9 112.2 280.7 113.7 280.5 115.1 280.2 116.6 280.0 118.1 279.8 119.5 279.5 121.0M281.9 117.8L279.5 121.0M278.4 117.2L279.5 121.0M304.9 112.2 304.4 113.7 303.9 115.1 303.4 116.6 302.9 118.1 302.4 119.5 301.8 120.9M304.9 118.1L301.8 120.9M301.3 116.8L301.8 120.9M329.0 115.1 327.8 115.9 326.5 116.6 325.3 117.3 324.0 118.1M327.0 117.9L324.0 118.1M325.6 115.6L324.0 118.1M352.1 115.4 350.9 116.0 349.6 116.6 348.4 117.2 347.1 117.8M350.1 117.9L347.1 117.8M348.9 115.4L347.1 117.8M376.5 115.6 375.3 115.9 374.0 116.3 372.8 116.6 371.5 116.9 370.3 117.3 369.0 117.6M372.4 118.3L369.0 117.6M371.6 115.3L369.0 117.6M397.4 116.2 396.6 116.4 395.9 116.6 395.2 116.8 394.4 117.0M397.3 117.7L394.4 117.0M396.7 115.0L394.4 117.0M420.3 116.2 419.7 116.4 419.0 116.6 418.4 116.8 417.8 117.0M420.7 117.5L417.8 117.0M420.0 114.9L417.8 117.0M443.6 115.1 442.9 115.9 442.2 116.6 441.4 117.3 440.7 118.1M443.5 117.2L440.7 118.1M441.6 115.2L440.7 118.1M467.1 112.2 466.5 113.7 465.9 115.1 465.3 116.6 464.7 118.1 464.0 119.5 463.4 121.0M466.7 118.2L463.4 121.0M463.1 116.7L463.4 121.0M487.8 111.6 487.9 112.9 488.1 114.1 488.3 115.4 488.4 116.6 488.6 117.8 488.7 119.1 488.9 120.4 489.0 121.6M490.6 117.4L489.0 121.6M486.5 117.8L489.0 121.6M509.6 111.0 510.1 112.4 510.6 113.8 511.1 115.2 511.5 116.6 512.0 118.0 512.5 119.4 512.9 120.8 513.3 122.3M514.2 117.4L513.3 122.3M509.9 118.6L513.3 122.3M531.8 112.9 532.8 114.1 533.8 115.4 534.7 116.6 535.6 117.8 536.5 119.1 537.5 120.3M536.7 116.2L537.5 120.3M533.7 118.5L537.5 120.3M554.3 114.7 555.5 115.3 556.6 116.0 557.8 116.6 559.0 117.2 560.2 117.8 561.3 118.4M559.2 115.5L561.3 118.4M557.8 118.4L561.3 118.4M575.9 116.5 577.2 116.6 578.4 116.6 579.7 116.6 580.9 116.6 582.2 116.6 583.4 116.6 584.7 116.7 585.9 116.7M582.0 114.5L585.9 116.7M581.8 118.6L585.9 116.7M599.7 113.8 600.8 114.5 601.9 115.2 603.0 115.9 604.1 116.6 605.2 117.3 606.3 117.9 607.4 118.5 608.6 119.1M605.8 115.3L608.6 119.1M603.9 119.1L608.6 119.1M622.8 118.7 623.9 118.2 625.0 117.7 626.1 117.2 627.2 116.6 628.3 116.0 629.4 115.5 630.5 114.9 631.6 114.4M627.2 114.3L631.6 114.4M629.0 117.9L631.6 114.4M648.4 118.1 649.4 117.3 650.3 116.6 651.3 115.9 652.2 115.1M649.3 115.7L652.2 115.1M651.0 117.8L652.2 115.1M667.2 121.3 668.2 120.5 669.3 119.7 670.3 119.0 671.4 118.2 672.4 117.4 673.5 116.6 674.5 115.8 675.5 115.0 676.6 114.2 677.6 113.4 678.7 112.6 679.7 111.9M674.8 112.7L679.7 111.9M677.5 116.4L679.7 111.9M180.8 135.0 179.6 135.4 178.3 135.7 177.1 136.1 175.9 136.4 174.6 136.8 173.4 137.2M176.9 137.7L173.4 137.2M175.8 134.7L173.4 137.2M202.5 133.8 201.4 134.9 200.2 136.1 199.1 137.2 198.0 138.3M200.8 137.4L198.0 138.3M198.9 135.4L198.0 138.3M226.5 132.9 225.4 134.0 224.4 135.0 223.4 136.1 222.3 137.1 221.3 138.1 220.3 139.2M224.0 137.9L220.3 139.2M221.4 135.4L220.3 139.2M247.5 133.3 247.0 134.7 246.5 136.1 246.0 137.4 245.4 138.8M247.7 136.8L245.4 138.8M245.1 135.8L245.4 138.8M271.5 134.8 270.6 135.4 269.6 136.1 268.7 136.7 267.7 137.3M270.7 136.9L267.7 137.3M269.2 134.7L267.7 137.3M295.0 133.8 293.9 134.9 292.8 136.1 291.6 137.2 290.5 138.3M293.3 137.4L290.5 138.3M291.4 135.4L290.5 138.3M319.6 134.5 318.4 135.0 317.1 135.6 315.9 136.1 314.6 136.5 313.4 137.0 312.1 137.5M315.7 137.9L312.1 137.5M314.5 134.8L312.1 137.5M342.5 134.8 341.3 135.2 340.2 135.6 339.0 136.1 337.8 136.5 336.7 136.9 335.5 137.3M338.8 137.7L335.5 137.3M337.8 134.9L335.5 137.3M365.9 135.5 364.6 135.7 363.4 135.8 362.1 136.1 360.9 136.3 359.6 136.5 358.4 136.7M361.7 137.7L358.4 136.7M361.1 134.6L358.4 136.7M387.1 137.9 386.2 137.0 385.3 136.1 384.3 135.1 383.4 134.2M384.3 137.1L383.4 134.2M386.2 135.1L383.4 134.2M409.0 137.9 408.7 137.0 408.4 136.1 408.1 135.1 407.8 134.2M407.3 137.2L407.8 134.2M409.9 136.3L407.8 134.2M432.8 135.4 432.2 135.7 431.5 136.1 430.9 136.4 430.3 136.7M433.3 136.7L430.3 136.7M432.1 134.3L430.3 136.7M455.9 131.7 455.5 133.1 455.1 134.6 454.7 136.1 454.2 137.5 453.8 139.0 453.5 140.4M456.2 137.4L453.5 140.4M452.6 136.4L453.5 140.4M479.0 130.4 478.7 131.8 478.4 133.2 478.1 134.6 477.8 136.1 477.5 137.5 477.1 138.9 476.8 140.3 476.4 141.6M479.7 137.9L476.4 141.6M475.4 136.8L476.4 141.6M500.3 131.1 500.4 132.3 500.6 133.6 500.8 134.8 500.9 136.1 501.1 137.3 501.2 138.6 501.4 139.8 501.5 141.1M503.1 136.8L501.5 141.1M499.0 137.3L501.5 141.1M525.3 131.2 525.1 132.5 524.8 133.7 524.4 134.9 524.0 136.1 523.7 137.2 523.3 138.4 523.0 139.6 522.6 140.8M525.7 137.5L522.6 140.8M521.8 136.4L522.6 140.8M544.1 132.9 545.1 134.0 546.1 135.0 547.2 136.1 548.2 137.1 549.3 138.1 550.3 139.2M549.1 135.4L550.3 139.2M546.5 137.9L550.3 139.2M566.0 135.3 567.4 135.6 568.9 135.8 570.3 136.1 571.8 136.3 573.2 136.5 574.7 136.7M571.4 134.4L574.7 136.7M570.9 138.0L574.7 136.7M589.1 135.7 590.5 135.8 592.0 135.9 593.4 136.1 594.9 136.2 596.4 136.3 597.8 136.3M594.4 134.4L597.8 136.3M594.2 137.9L597.8 136.3M612.2 138.7 613.3 138.1 614.4 137.4 615.5 136.7 616.6 136.1 617.7 135.4 618.8 134.7 619.9 134.0 621.0 133.3M616.3 133.7L621.0 133.3M618.5 137.3L621.0 133.3M637.0 137.6 638.3 136.8 639.7 136.1 641.1 135.3 642.5 134.6M639.5 134.6L642.5 134.6M640.8 137.0L642.5 134.6M658.5 137.6 659.9 137.1 661.4 136.5 662.8 136.1 664.3 135.6 665.7 135.0 667.1 134.3M663.0 134.1L667.1 134.3M664.5 137.5L667.1 134.3M167.8 151.2 167.0 152.3 166.2 153.3 165.4 154.4 164.6 155.5 163.8 156.6 163.0 157.7 162.3 158.8 161.5 159.9M165.8 157.6L161.5 159.9M162.2 155.1L161.5 159.9M190.2 152.4 189.4 153.4 188.6 154.5 187.7 155.5 186.9 156.5 186.1 157.6 185.2 158.6M188.5 157.1L185.2 158.6M186.0 155.1L185.2 158.6M212.4 151.2 211.9 152.6 211.4 154.0 210.9 155.5 210.4 157.0 209.9 158.4 209.4 159.9M212.4 156.9L209.4 159.9M208.8 155.8L209.4 159.9M237.1 154.0 235.6 154.8 234.0 155.5 232.4 156.2 230.9 157.1M234.0 157.1L230.9 157.1M232.7 154.5L230.9 157.1M260.6 154.5 259.5 154.8 258.3 155.2 257.1 155.5 256.0 155.8 254.8 156.2 253.6 156.5M256.8 157.1L253.6 156.5M256.0 154.3L253.6 156.5M282.1 154.9 281.2 155.2 280.2 155.5 279.3 155.8 278.4 156.1M281.3 156.6L278.4 156.1M280.5 154.0L278.4 156.1M306.5 157.0 304.9 156.2 303.4 155.5 301.8 154.8 300.2 154.1M302.2 156.5L300.2 154.1M303.3 153.9L300.2 154.1M330.9 155.5 329.4 155.5 328.0 155.5 326.5 155.5 325.1 155.5 323.6 155.5 322.1 155.4M325.6 157.3L322.1 155.4M325.7 153.7L322.1 155.4M352.8 154.9 351.2 155.2 349.6 155.5 348.1 155.8 346.5 156.1M349.4 156.9L346.5 156.1M348.9 154.3L346.5 156.1M375.9 156.8 374.3 156.1 372.8 155.5 371.2 154.9 369.6 154.3M371.7 156.5L369.6 154.3M372.6 154.0L369.6 154.3M397.1 157.0 396.5 156.2 395.9 155.5 395.3 154.8 394.6 154.0M395.3 156.9L394.6 154.0M397.4 155.2L394.6 154.0M419.0 156.5 419.0 156.0 419.0 155.5 419.0 155.0 419.0 154.5M417.7 157.2L419.0 154.5M420.4 157.2L419.0 154.5M439.7 156.5 440.9 156.0 442.2 155.5 443.4 155.0 444.7 154.5M441.7 154.2L444.7 154.5M442.7 156.8L444.7 154.5M467.5 155.1 466.4 155.3 465.3 155.5 464.2 155.7 463.0 155.9M465.9 156.8L463.0 155.9M465.5 154.1L463.0 155.9M489.7 154.8 489.0 155.2 488.4 155.5 487.8 155.8 487.2 156.1M490.2 156.2L487.2 156.1M489.0 153.7L487.2 156.1M510.9 153.6 511.2 154.6 511.5 155.5 511.9 156.4 512.2 157.4M512.6 154.4L512.2 157.4M510.0 155.3L512.2 157.4M534.1 153.0 534.4 154.3 534.7 155.5 535.0 156.7 535.3 158.0M536.0 155.1L535.3 158.0M533.3 155.7L535.3 158.0M555.3 151.8 556.1 153.0 557.0 154.3 557.8 155.5 558.6 156.7 559.5 158.0 560.4 159.2M559.8 155.2L560.4 159.2M556.8 157.3L560.4 159.2M577.4 153.3 578.6 154.0 579.8 154.8 580.9 155.5 582.1 156.2 583.3 156.9 584.6 157.5M582.4 154.5L584.6 157.5M580.8 157.5L584.6 157.5M599.3 158.2 600.5 157.5 601.7 156.9 602.9 156.2 604.1 155.5 605.3 154.8 606.4 154.1 607.6 153.4 608.8 152.7M603.8 153.1L608.8 152.7M606.2 156.9L608.8 152.7M623.9 161.0 624.6 159.9 625.3 158.8 625.9 157.7 626.6 156.6 627.2 155.5 627.8 154.4 628.5 153.3 629.1 152.1 629.8 151.0 630.4 149.9M626.2 152.6L630.4 149.9M630.1 154.9L630.4 149.9M647.6 159.0 648.5 157.8 649.4 156.7 650.3 155.5 651.2 154.3 652.2 153.2 653.1 152.1M649.5 153.6L653.1 152.1M652.3 156.0L653.1 152.1M670.7 160.2 671.4 159.1 672.1 157.9 672.8 156.7 673.5 155.5 674.1 154.3 674.9 153.1 675.6 152.0 676.3 150.8M672.1 153.3L676.3 150.8M675.9 155.7L676.3 150.8M179.6 171.4 178.8 172.6 177.9 173.8 177.1 174.9 176.3 176.1 175.4 177.3 174.6 178.4M178.0 176.7L174.6 178.4M175.2 174.6L174.6 178.4M199.7 171.8 199.9 173.4 200.2 174.9 200.5 176.5 200.8 178.1M201.7 175.2L200.8 178.1M199.0 175.7L200.8 178.1M225.9 172.2 225.0 173.1 224.2 174.0 223.4 174.9 222.5 175.9 221.7 176.8 220.9 177.7M224.0 176.5L220.9 177.7M221.7 174.5L220.9 177.7M249.6 173.5 248.1 174.2 246.5 174.9 244.9 175.7 243.4 176.5M246.5 176.5L243.4 176.5M245.3 174.0L243.4 176.5M272.8 175.9 271.2 175.4 269.6 174.9 268.1 174.5 266.5 174.0M268.6 176.1L266.5 174.0M269.4 173.5L266.5 174.0M295.9 175.6 294.3 175.3 292.8 174.9 291.2 174.6 289.6 174.3M292.0 176.2L289.6 174.3M292.5 173.5L289.6 174.3M318.4 176.2 317.1 175.6 315.9 174.9 314.6 174.3 313.4 173.7M315.2 176.1L313.4 173.7M316.4 173.7L313.4 173.7M340.3 176.2 339.6 175.6 339.0 174.9 338.4 174.3 337.7 173.7M338.7 176.6L337.7 173.7M340.6 174.6L337.7 173.7M364.4 174.3 363.3 174.6 362.1 174.9 361.0 175.3 359.9 175.5M362.8 176.2L359.9 175.5M362.1 173.5L359.9 175.5M386.8 174.6 386.0 174.8 385.3 174.9 384.5 175.1 383.8 175.3M386.7 176.0L383.8 175.3M386.0 173.4L383.8 175.3M408.9 179.3 408.7 177.9 408.5 176.4 408.4 174.9 408.3 173.5 408.1 172.0 408.0 170.6M406.5 174.3L408.0 170.6M410.1 173.9L408.0 170.6M431.5 175.6 431.5 175.3 431.5 174.9 431.5 174.6 431.5 174.3M430.1 177.0L431.5 174.3M432.9 177.0L431.5 174.3M454.1 176.8 454.3 175.9 454.7 174.9 455.0 174.0 455.3 173.1M453.1 175.2L455.3 173.1M455.7 176.0L455.3 173.1M477.2 176.2 477.5 175.6 477.8 174.9 478.1 174.3 478.4 173.7M476.0 175.5L478.4 173.7M478.4 176.7L478.4 173.7M500.0 171.2 500.3 172.4 500.6 173.7 500.9 174.9 501.3 176.2 501.6 177.4 502.0 178.7M502.6 175.2L502.0 178.7M499.6 176.2L502.0 178.7M525.0 172.4 524.5 173.7 524.0 174.9 523.6 176.2 523.0 177.4M525.3 175.5L523.0 177.4M522.8 174.4L523.0 177.4M546.1 178.8 546.4 177.5 546.8 176.2 547.2 174.9 547.6 173.7 548.1 172.5 548.6 171.3M545.9 173.6L548.6 171.3M548.9 174.8L548.6 171.3M569.3 176.8 569.8 175.9 570.3 174.9 570.8 174.0 571.4 173.1M568.9 174.8L571.4 173.1M571.2 176.1L571.4 173.1M589.0 179.3 589.9 178.4 590.8 177.6 591.7 176.7 592.6 175.8 593.4 174.9 594.3 174.1 595.2 173.2 596.1 172.3 597.0 171.5 597.9 170.7M593.1 172.0L597.9 170.7M596.2 175.4L597.9 170.7M611.6 177.7 612.8 177.0 614.1 176.3 615.3 175.6 616.6 174.9 617.8 174.3 619.1 173.6 620.3 172.8 621.5 172.1M616.5 172.4L621.5 172.1M618.8 176.3L621.5 172.1M637.8 175.9 638.8 175.4 639.7 174.9 640.6 174.5 641.6 173.9M638.6 174.0L641.6 173.9M639.9 176.4L641.6 173.9M662.2 175.9 662.5 175.4 662.8 174.9 663.1 174.5 663.5 173.9M660.9 175.5L663.5 173.9M663.2 176.9L663.5 173.9M167.7 191.9 166.7 192.7 165.6 193.6 164.6 194.4 163.6 195.2 162.5 196.1 161.5 196.9M165.0 196.2L161.5 196.9M163.0 193.6L161.5 196.9M188.7 191.3 188.2 192.8 187.7 194.4 187.2 196.0 186.7 197.5M188.8 195.4L186.7 197.5M186.2 194.6L186.7 197.5M212.7 192.5 211.8 193.5 210.9 194.4 209.9 195.3 209.0 196.3M211.9 195.3L209.0 196.3M209.9 193.4L209.0 196.3M237.7 192.9 236.5 193.4 235.2 193.9 234.0 194.4 232.7 194.9 231.5 195.4 230.3 196.0M233.9 196.2L230.3 196.0M232.6 193.2L230.3 196.0M260.3 192.6 259.2 193.2 258.2 193.8 257.1 194.4 256.1 195.0 255.0 195.6 254.0 196.3M257.3 196.1L254.0 196.3M255.8 193.5L254.0 196.3M283.4 193.4 281.8 193.9 280.2 194.4 278.7 194.9 277.1 195.4M280.1 195.9L277.1 195.4M279.2 193.3L277.1 195.4M306.5 193.8 304.9 194.1 303.4 194.4 301.8 194.7 300.3 195.0M303.1 195.8L300.3 195.0M302.6 193.2L300.3 195.0M329.6 196.3 328.6 195.7 327.6 195.0 326.5 194.4 325.5 193.8 324.4 193.2 323.4 192.6M325.2 195.3L323.4 192.6M326.6 192.7L323.4 192.6M352.1 196.3 350.9 195.3 349.6 194.4 348.4 193.5 347.1 192.5M348.5 195.2L347.1 192.5M350.1 193.0L347.1 192.5M373.8 196.6 373.3 195.5 372.8 194.4 372.3 193.3 371.7 192.2M371.6 195.2L371.7 192.2M374.1 194.0L371.7 192.2M399.0 197.6 398.0 196.5 396.9 195.4 395.9 194.4 394.9 193.4 393.8 192.3 392.8 191.3M394.0 195.1L392.8 191.3M396.5 192.5L392.8 191.3M422.1 196.4 421.1 195.7 420.1 195.0 419.0 194.4 418.0 193.8 417.0 193.1 416.0 192.4M417.6 195.3L416.0 192.4M419.2 192.8L416.0 192.4M443.4 195.4 442.8 194.9 442.2 194.4 441.5 193.9 440.9 193.4M442.1 196.1L440.9 193.4M443.8 194.0L440.9 193.4M464.8 196.9 465.0 195.6 465.3 194.4 465.6 193.2 465.9 191.9M463.9 194.2L465.9 191.9M466.6 194.8L465.9 191.9M487.5 200.1 487.7 198.7 487.9 197.2 488.1 195.8 488.4 194.4 488.7 193.0 489.1 191.6 489.4 190.2 489.8 188.8M486.5 192.6L489.8 188.8M490.9 193.7L489.8 188.8M511.1 197.5 511.2 196.0 511.5 194.4 511.9 192.8 512.2 191.3M510.3 193.6L512.2 191.3M513.0 194.2L512.2 191.3M542.1 191.5 540.9 192.0 539.7 192.5 538.4 193.0 537.2 193.5 535.9 193.9 534.7 194.4 533.4 194.9 532.2 195.3 530.9 195.7 529.6 196.0 528.3 196.3 527.0 196.6M531.9 197.9L527.0 196.6M530.9 193.4L527.0 196.6M557.1 190.7 557.4 191.9 557.6 193.2 557.8 194.4 558.0 195.6 558.3 196.9 558.5 198.1M559.4 194.8L558.5 198.1M556.4 195.5L558.5 198.1M578.2 195.0 579.6 194.7 580.9 194.4 582.3 194.1 583.7 193.7M580.8 193.0L583.7 193.7M581.4 195.7L583.7 193.7M599.1 196.6 600.3 196.1 601.6 195.5 602.8 195.0 604.1 194.4 605.3 193.8 606.6 193.3 607.8 192.7 609.1 192.1M604.1 191.9L609.1 192.1M606.0 196.0L609.1 192.1M624.1 195.9 625.6 195.1 627.2 194.4 628.8 193.7 630.3 192.9M627.2 192.8L630.3 192.9M628.4 195.4L630.3 192.9M649.1 195.4 649.7 194.9 650.3 194.4 651.0 193.9 651.6 193.4M648.6 194.0L651.6 193.4M650.4 196.1L651.6 193.4M674.7 194.8 674.1 194.6 673.5 194.4 672.8 194.2 672.2 194.0M674.4 196.1L672.2 194.0M675.2 193.5L672.2 194.0M178.3 211.6 177.7 212.7 177.1 213.9 176.5 215.0 175.9 216.1M178.3 214.4L175.9 216.1M175.9 213.1L175.9 216.1M198.8 210.1 199.3 211.3 199.7 212.6 200.2 213.9 200.7 215.1 201.2 216.3 201.8 217.6M202.0 214.0L201.8 217.6M199.0 215.2L201.8 217.6M225.4 209.5 224.6 211.0 224.0 212.4 223.4 213.9 222.7 215.3 222.1 216.8 221.5 218.2M224.8 215.5L221.5 218.2M221.2 213.9L221.5 218.2M248.0 213.8 247.2 213.9 246.5 213.9 245.7 213.9 245.0 213.9M247.7 215.2L245.0 213.9M247.6 212.5L245.0 213.9M272.2 210.8 271.3 211.8 270.5 212.8 269.6 213.9 268.8 214.9 268.0 215.9 267.1 217.0M270.4 215.5L267.1 217.0M267.8 213.5L267.1 217.0M297.1 211.6 296.0 212.2 294.9 212.7 293.8 213.3 292.8 213.9 291.7 214.4 290.6 215.0 289.5 215.6 288.4 216.2M292.8 216.0L288.4 216.2M290.9 212.5L288.4 216.2M319.0 212.9 317.4 213.4 315.9 213.9 314.3 214.3 312.8 214.9M315.7 215.3L312.8 214.9M314.9 212.8L312.8 214.9M342.8 216.1 341.5 215.3 340.3 214.6 339.0 213.9 337.8 213.1 336.5 212.4 335.2 211.6M337.4 214.9L335.2 211.6M339.2 211.8L335.2 211.6M365.3 217.0 364.2 215.9 363.2 214.9 362.1 213.9 361.1 212.8 360.1 211.8 359.0 210.7M360.3 214.5L359.0 210.7M362.8 211.9L359.0 210.7M389.7 220.7 389.0 219.6 388.2 218.4 387.5 217.3 386.7 216.1 386.0 215.0 385.3 213.9 384.5 212.7 383.8 211.6 383.1 210.4 382.4 209.3 381.6 208.1 380.9 207.0M381.4 211.9L380.9 207.0M385.2 209.5L380.9 207.0M409.5 219.4 409.2 218.1 408.9 216.7 408.6 215.3 408.4 213.9 408.2 212.4 407.9 211.0 407.6 209.6 407.2 208.3M406.0 213.1L407.2 208.3M410.4 212.1L407.2 208.3M433.0 221.4 432.7 220.1 432.5 218.9 432.3 217.6 432.0 216.4 431.8 215.1 431.5 213.9 431.3 212.6 431.0 211.4 430.7 210.1 430.4 208.9 430.1 207.6 429.8 206.4M428.7 211.3L429.8 206.4M433.1 210.1L429.8 206.4M460.7 223.0 460.0 222.0 459.3 221.0 458.6 220.0 457.9 219.0 457.2 218.0 456.6 217.0 455.9 215.9 455.3 214.9 454.7 213.9 454.0 212.8 453.4 211.8 452.8 210.7 452.2 209.7 451.5 208.7 450.9 207.6 450.2 206.6 449.6 205.5 449.0 204.5M449.4 209.5L449.0 204.5M453.2 207.1L449.0 204.5M482.2 221.3 481.6 220.3 480.9 219.2 480.3 218.1 479.7 217.1 479.0 216.0 478.4 214.9 477.8 213.9 477.2 212.8 476.5 211.7 475.9 210.6 475.3 209.5 474.8 208.4 474.2 207.3 473.6 206.2M473.6 211.2L473.6 206.2M477.7 209.2L473.6 206.2M503.9 222.4 503.4 221.2 502.9 220.0 502.5 218.8 502.1 217.6 501.7 216.3 501.3 215.1 500.9 213.9 500.6 212.6 500.2 211.3 499.9 210.1 499.6 208.8 499.3 207.6 499.0 206.3 498.7 205.0M497.4 209.9L498.7 205.0M501.9 208.9L498.7 205.0M533.2 219.9 532.2 219.1 531.2 218.4 530.2 217.7 529.2 217.1 528.2 216.4 527.2 215.8 526.1 215.1 525.1 214.5 524.0 213.9 523.0 213.2 522.0 212.6 521.0 211.9 519.9 211.3 518.9 210.6 518.0 209.8 517.0 209.1 516.1 208.3 515.1 207.6M517.1 212.1L515.1 207.6M520.0 208.6L515.1 207.6M545.6 220.2 545.8 218.9 546.1 217.6 546.5 216.4 546.8 215.1 547.2 213.9 547.6 212.6 547.9 211.4 548.3 210.1 548.7 208.9 549.1 207.6M545.6 211.2L549.1 207.6M549.9 212.5L549.1 207.6M569.6 218.8 569.8 217.6 570.0 216.3 570.2 215.1 570.3 213.9 570.5 212.6 570.6 211.4 570.8 210.1 571.1 208.9M568.4 212.5L571.1 208.9M572.4 213.2L571.1 208.9M582.8 217.7 584.0 217.3 585.2 216.8 586.4 216.4 587.5 216.0 588.7 215.5 589.9 215.1 591.1 214.7 592.3 214.3 593.4 213.9 594.6 213.4 595.8 213.0 597.0 212.6 598.2 212.2 599.3 211.7 600.5 211.3 601.7 210.9 602.9 210.5 604.0 210.0M599.1 209.4L604.0 210.0M600.6 213.7L604.0 210.0M610.9 216.3 612.1 215.8 613.2 215.3 614.3 214.8 615.4 214.3 616.6 213.9 617.7 213.4 618.8 212.8 619.9 212.3 621.0 211.8 622.2 211.3M617.2 211.1L622.2 211.3M619.1 215.2L622.2 211.3M641.2 215.4 640.4 214.6 639.7 213.9 639.0 213.1 638.2 212.3M639.1 215.2L638.2 212.3M641.1 213.3L638.2 212.3M661.6 217.6 662.0 216.4 662.4 215.1 662.8 213.9 663.2 212.6 663.7 211.3 664.0 210.1M661.5 212.6L664.0 210.1M664.6 213.6L664.0 210.1M162.7 232.9 163.7 233.1 164.6 233.3 165.5 233.5 166.5 233.7M164.1 231.8L166.5 233.7M163.6 234.5L166.5 233.7M187.1 233.9 187.4 233.6 187.7 233.3 188.0 233.0 188.4 232.7M185.5 233.6L188.4 232.7M187.4 235.5L188.4 232.7M210.5 234.8 210.7 234.0 210.9 233.3 211.0 232.6 211.2 231.8M209.3 234.1L211.2 231.8M211.9 234.7L211.2 231.8M236.3 228.3 235.7 229.6 235.1 230.8 234.6 232.1 234.0 233.3 233.4 234.5 232.9 235.8 232.3 237.1 231.8 238.3M235.6 235.1L231.8 238.3M231.4 233.4L231.8 238.3M258.7 229.6 258.1 230.8 257.6 232.1 257.1 233.3 256.6 234.5 256.1 235.8 255.6 237.0M258.4 234.7L255.6 237.0M255.3 233.4L255.6 237.0M282.5 231.1 281.4 232.2 280.2 233.3 279.1 234.4 278.0 235.5M280.8 234.6L278.0 235.5M278.9 232.7L278.0 235.5M306.6 228.4 305.8 229.6 305.0 230.8 304.2 232.1 303.4 233.3 302.6 234.5 301.8 235.8 301.0 237.0 300.2 238.3M304.5 235.7L300.2 238.3M300.7 233.3L300.2 238.3M330.4 230.3 329.4 231.0 328.4 231.8 327.4 232.5 326.5 233.3 325.6 234.1 324.6 234.9 323.7 235.7 322.8 236.5M327.1 235.4L322.8 236.5M324.4 232.4L322.8 236.5M352.2 232.7 350.9 233.0 349.6 233.3 348.4 233.6 347.2 234.0M350.1 234.6L347.2 234.0M349.4 232.0L347.2 234.0M377.9 236.2 376.6 235.5 375.3 234.8 374.0 234.1 372.8 233.3 371.5 232.5 370.3 231.7 369.0 231.0 367.8 230.2M370.4 234.5L367.8 230.2M372.7 230.6L367.8 230.2M397.8 234.8 396.8 234.0 395.9 233.3 395.0 232.6 394.0 231.8M395.2 234.5L394.0 231.8M397.0 232.4L394.0 231.8M421.5 235.2 420.3 234.2 419.0 233.3 417.8 232.4 416.6 231.4M417.8 234.1L416.6 231.4M419.5 231.9L416.6 231.4M441.7 237.7 441.8 236.2 442.0 234.8 442.2 233.3 442.4 231.8 442.5 230.4 442.6 228.9M440.5 232.3L442.6 228.9M444.1 232.6L442.6 228.9M471.0 236.3 469.8 235.7 468.7 235.1 467.5 234.5 466.4 233.9 465.3 233.3 464.2 232.7 463.1 232.0 462.0 231.3 460.9 230.6 459.9 229.8M462.2 234.3L459.9 229.8M464.8 230.6L459.9 229.8M492.3 238.2 491.5 237.2 490.7 236.3 489.9 235.3 489.2 234.3 488.4 233.3 487.7 232.3 486.9 231.3 486.2 230.3 485.4 229.3 484.7 228.3M485.5 233.2L484.7 228.3M489.2 230.5L484.7 228.3M517.2 237.6 516.1 236.8 514.9 235.9 513.8 235.0 512.7 234.2 511.5 233.3 510.4 232.4 509.3 231.5 508.2 230.6 507.2 229.6 506.2 228.7M507.9 233.3L506.2 228.7M511.0 230.0L506.2 228.7M538.4 233.9 537.2 233.7 535.9 233.5 534.7 233.3 533.4 233.1 532.2 232.8 531.0 232.6M533.6 234.7L531.0 232.6M534.3 231.7L531.0 232.6M559.7 232.0 558.7 232.7 557.8 233.3 556.9 233.9 555.9 234.5M558.9 234.2L555.9 234.5M557.4 231.9L555.9 234.5M576.3 227.9 577.3 228.9 578.3 230.0 579.2 231.1 580.1 232.2 580.9 233.3 581.8 234.4 582.7 235.5 583.7 236.6 584.6 237.6 585.6 238.7M584.2 233.9L585.6 238.7M580.9 237.0L585.6 238.7M596.4 235.3 597.7 235.0 599.0 234.8 600.3 234.5 601.6 234.1 602.8 233.7 604.1 233.3 605.3 232.9 606.6 232.5 607.8 232.0 609.0 231.5 610.3 231.0 611.5 230.5M606.5 230.1L611.5 230.5M608.2 234.3L611.5 230.5M625.2 237.6 625.9 236.2 626.6 234.8 627.2 233.3 627.8 231.8 628.4 230.4 629.0 228.9M625.8 231.7L629.0 228.9M629.4 233.2L629.0 228.9M649.1 235.8 649.7 234.5 650.3 233.3 651.0 232.1 651.6 230.8M649.2 232.6L651.6 230.8M651.6 233.8L651.6 230.8M678.5 234.9 678.9 233.6 677.6 233.4 676.2 233.3 674.8 233.3 673.5 233.3 672.1 233.3 670.7 233.3 669.3 233.2 668.0 233.2 666.6 233.1M670.9 235.6L666.6 233.1M671.2 231.1L666.6 233.1M173.6 253.7 174.8 253.4 175.9 253.1 177.1 252.8 178.3 252.4 179.4 252.1 180.6 251.7M177.4 251.1L180.6 251.7M178.2 254.0L180.6 251.7M199.8 253.7 200.0 253.2 200.2 252.8 200.4 252.3 200.6 251.7M198.4 253.8L200.6 251.7M200.9 254.7L200.6 251.7M221.1 254.6 222.2 253.7 223.4 252.8 224.5 251.8 225.6 250.9M222.7 251.5L225.6 250.9M224.4 253.7L225.6 250.9M248.4 249.0 247.7 250.2 247.1 251.5 246.5 252.8 245.9 254.0 245.3 255.3 244.7 256.5M247.7 254.2L244.7 256.5M244.6 252.7L244.7 256.5M272.7 251.2 271.2 252.0 269.6 252.8 268.1 253.5 266.5 254.3M269.6 254.3L266.5 254.3M268.4 251.8L266.5 254.3M295.2 249.6 294.4 250.7 293.6 251.7 292.8 252.8 291.9 253.8 291.1 254.8 290.2 255.9M293.5 254.4L290.2 255.9M291.0 252.3L290.2 255.9M318.7 249.0 317.7 250.3 316.8 251.5 315.9 252.8 315.0 254.0 314.0 255.2 313.1 256.5M316.9 254.6L313.1 256.5M313.8 252.4L313.1 256.5M344.1 249.1 343.0 249.8 342.0 250.5 341.0 251.3 340.0 252.0 339.0 252.8 338.0 253.5 337.0 254.3 336.0 255.0 335.1 255.8 334.1 256.6M339.0 255.6L334.1 256.6M336.1 252.0L334.1 256.6M370.3 249.1 369.2 249.6 368.0 250.1 366.8 250.6 365.6 251.2 364.5 251.7 363.3 252.2 362.1 252.8 361.0 253.3 359.8 253.8 358.7 254.4 357.5 254.9 356.4 255.5 355.2 256.1 354.1 256.7M359.1 256.7L354.1 256.7M357.0 252.6L354.1 256.7M391.6 248.4 390.5 249.1 389.4 249.9 388.4 250.6 387.4 251.3 386.3 252.0 385.3 252.8 384.2 253.5 383.2 254.2 382.2 255.0 381.1 255.7 380.1 256.5 379.1 257.2M384.0 256.4L379.1 257.2M381.3 252.7L379.1 257.2M410.4 249.1 409.7 250.3 409.0 251.5 408.4 252.8 407.8 254.0 407.1 255.2 406.4 256.4M409.5 254.4L406.4 256.4M406.6 252.7L406.4 256.4M434.7 252.2 433.1 252.4 431.5 252.8 430.0 253.1 428.4 253.4M431.3 254.2L428.4 253.4M430.7 251.5L428.4 253.4M459.7 252.6 458.4 252.7 457.2 252.7 455.9 252.8 454.7 252.8 453.4 252.8 452.2 252.8 450.9 252.8 449.7 252.8M453.7 254.8L449.7 252.8M453.6 250.7L449.7 252.8M484.8 250.6 483.6 250.9 482.4 251.2 481.3 251.6 480.1 251.9 478.9 252.3 477.8 252.8 476.6 253.2 475.5 253.6 474.3 254.0 473.2 254.4 472.0 254.8 470.9 255.1M475.8 255.9L470.9 255.1M474.4 251.6L470.9 255.1M505.9 253.9 504.7 253.6 503.4 253.4 502.2 253.1 500.9 252.8 499.7 252.4 498.4 252.1 497.2 251.9 495.9 251.6M499.5 254.5L495.9 251.6M500.4 250.4L495.9 251.6M527.2 254.2 525.6 253.5 524.0 252.8 522.5 252.0 520.9 251.2M522.8 253.7L520.9 251.2M524.0 251.2L520.9 251.2M549.7 253.3 548.4 253.1 547.2 252.8 545.9 252.4 544.7 252.1M546.9 254.1L544.7 252.1M547.6 251.5L544.7 252.1M569.1 251.7 569.7 252.3 570.3 252.8 570.9 253.2 571.6 253.8M570.3 251.0L571.6 253.8M568.6 253.1L571.6 253.8M588.4 253.3 589.7 253.2 590.9 253.0 592.2 252.9 593.4 252.8 594.7 252.6 595.9 252.4 597.2 252.2 598.4 252.0M594.1 250.6L598.4 252.0M594.8 254.7L598.4 252.0M613.4 254.9 614.5 254.2 615.5 253.5 616.6 252.8 617.6 252.0 618.6 251.2 619.7 250.4M616.2 251.1L619.7 250.4M618.1 253.6L619.7 250.4M637.8 254.6 638.8 253.7 639.7 252.8 640.6 251.8 641.6 250.9M638.7 251.8L641.6 250.9M640.7 253.7L641.6 250.9M661.4 256.5 661.8 255.3 662.3 254.0 662.8 252.8 663.3 251.5 663.8 250.2 664.1 248.9M661.6 251.6L664.1 248.9M664.8 252.5L664.1 248.9M161.5 271.6 163.0 271.9 164.6 272.2 166.2 272.5 167.7 272.8M165.4 271.0L167.7 272.8M164.8 273.6L167.7 272.8M185.8 270.7 186.8 271.5 187.7 272.2 188.7 272.9 189.6 273.7M188.4 271.0L189.6 273.7M186.7 273.1L189.6 273.7M210.2 271.2 210.5 271.7 210.9 272.2 211.2 272.7 211.5 273.2M211.2 270.2L211.5 273.2M208.9 271.7L211.5 273.2M233.3 271.2 233.7 271.7 234.0 272.2 234.3 272.7 234.6 273.2M234.3 270.2L234.6 273.2M232.0 271.7L234.6 273.2M257.2 270.0 257.1 271.1 257.1 272.2 257.1 273.3 257.1 274.4M258.5 271.8L257.1 274.4M255.8 271.8L257.1 274.4M284.0 267.8 283.1 268.9 282.1 270.0 281.2 271.1 280.2 272.2 279.3 273.3 278.4 274.4 277.4 275.5 276.5 276.5M281.1 274.7L276.5 276.5M277.7 271.7L276.5 276.5M306.5 269.1 305.5 270.1 304.4 271.2 303.4 272.2 302.3 273.2 301.3 274.3 300.2 275.3M304.0 274.1L300.2 275.3M301.5 271.5L300.2 275.3M329.4 267.9 328.6 268.9 327.9 270.0 327.2 271.1 326.5 272.2 325.8 273.3 325.1 274.4 324.4 275.5 323.7 276.5M327.7 274.3L323.7 276.5M324.2 271.9L323.7 276.5M352.2 269.1 351.3 270.1 350.5 271.2 349.6 272.2 348.8 273.2 348.0 274.3 347.1 275.3M350.4 273.9L347.1 275.3M347.9 271.8L347.1 275.3M378.0 264.9 377.2 265.9 376.5 266.9 375.7 268.0 374.9 269.0 374.2 270.1 373.5 271.1 372.8 272.2 372.1 273.3 371.3 274.3 370.6 275.4 369.8 276.4 369.1 277.5 368.3 278.5 367.5 279.5M372.0 277.4L367.5 279.5M368.5 274.6L367.5 279.5M401.5 270.3 400.1 270.8 398.7 271.3 397.3 271.7 395.9 272.2 394.5 272.7 393.1 273.2 391.7 273.7 390.3 274.2M395.3 274.7L390.3 274.2M393.7 270.5L390.3 274.2M424.6 270.9 423.2 271.2 421.8 271.6 420.4 271.9 419.0 272.2 417.6 272.5 416.2 272.8 414.8 273.1 413.4 273.4M418.2 274.7L413.4 273.4M417.3 270.3L413.4 273.4M447.8 269.6 446.7 270.1 445.5 270.6 444.4 271.1 443.3 271.7 442.2 272.2 441.0 272.7 439.9 273.3 438.8 273.8 437.6 274.3 436.5 274.8M441.4 275.1L436.5 274.8M439.7 270.9L436.5 274.8M472.1 269.9 471.0 270.3 469.9 270.7 468.7 271.1 467.6 271.4 466.4 271.8 465.3 272.2 464.1 272.6 463.0 273.0 461.9 273.3 460.7 273.7 459.6 274.1 458.4 274.5M463.4 275.2L458.4 274.5M461.9 270.9L458.4 274.5M494.6 269.0 493.4 269.7 492.2 270.3 490.9 270.9 489.7 271.6 488.4 272.2 487.2 272.8 485.9 273.4 484.7 274.1 483.4 274.7 482.1 275.3M487.1 275.4L482.1 275.3M485.2 271.3L482.1 275.3M515.6 265.5 514.9 266.6 514.2 267.7 513.5 268.8 512.8 269.9 512.2 271.1 511.5 272.2 510.9 273.3 510.3 274.5 509.7 275.6 509.0 276.8 508.4 277.9 507.8 279.1M511.9 276.3L507.8 279.1M507.9 274.1L507.8 279.1M536.9 264.8 536.5 266.0 536.1 267.2 535.7 268.5 535.3 269.7 535.0 271.0 534.7 272.2 534.4 273.4 534.0 274.7 533.7 275.9 533.4 277.2 533.0 278.4 532.6 279.7M536.1 276.0L532.6 279.7M531.7 274.7L532.6 279.7M557.5 266.6 557.6 268.0 557.6 269.4 557.7 270.8 557.8 272.2 557.9 273.6 558.0 275.0 558.1 276.4 558.2 277.8M560.2 273.2L558.2 277.8M555.6 273.5L558.2 277.8M579.3 266.0 579.6 267.2 580.0 268.5 580.3 269.7 580.6 271.0 580.9 272.2 581.2 273.4 581.5 274.7 581.8 275.9 582.2 277.2 582.5 278.4M583.6 273.6L582.5 278.4M579.2 274.7L582.5 278.4M602.2 270.4 603.1 271.3 604.1 272.2 605.0 273.1 606.0 274.1M605.0 271.2L606.0 274.1M603.1 273.2L606.0 274.1M629.1 270.3 628.1 271.3 627.2 272.2 626.3 273.1 625.3 274.1M628.2 273.1L625.3 274.1M626.2 271.2L625.3 274.1M651.3 272.8 650.8 272.5 650.3 272.2 649.8 271.9 649.3 271.6M650.9 274.1L649.3 271.6M652.3 271.8L649.3 271.6M672.0 272.2 672.7 272.2 673.5 272.2 674.2 272.2 675.0 272.1M672.2 270.9L675.0 272.1M672.3 273.6L675.0 272.1M179.3 293.5 178.2 292.6 177.1 291.6 176.0 290.7 174.9 289.8M176.0 292.5L174.9 289.8M177.8 290.4L174.9 289.8M202.1 292.9 201.2 292.3 200.2 291.6 199.3 291.0 198.4 290.4M199.8 293.0L198.4 290.4M201.3 290.7L198.4 290.4M222.1 292.3 222.7 292.0 223.4 291.6 224.0 291.3 224.6 291.0M221.6 291.0L224.6 291.0M222.8 293.4L224.6 291.0M245.0 291.7 245.7 291.6 246.5 291.6 247.2 291.6 248.0 291.7M245.3 290.3L248.0 291.7M245.3 293.0L248.0 291.7M271.9 291.2 270.7 291.5 269.6 291.6 268.5 291.8 267.4 292.0M270.2 292.9L267.4 292.0M269.8 290.2L267.4 292.0M295.9 289.8 294.8 290.4 293.8 291.0 292.8 291.6 291.7 292.3 290.7 292.9 289.6 293.5M292.9 293.3L289.6 293.5M291.4 290.7L289.6 293.5M318.1 291.0 317.0 291.3 315.9 291.6 314.8 292.0 313.6 292.3M316.6 292.9L313.6 292.3M315.8 290.2L313.6 292.3M341.3 291.0 340.1 291.3 339.0 291.6 337.9 292.0 336.8 292.3M339.7 292.9L336.8 292.3M339.0 290.2L336.8 292.3M364.6 293.1 363.4 292.4 362.1 291.6 360.9 290.9 359.6 290.2M361.3 292.7L359.6 290.2M362.6 290.3L359.6 290.2M389.1 294.3 387.8 293.5 386.5 292.6 385.3 291.6 384.0 290.7 382.7 289.9 381.4 289.1M383.6 292.7L381.4 289.1M385.5 289.4L381.4 289.1M414.7 293.9 413.4 293.4 412.2 293.0 410.9 292.5 409.6 292.1 408.4 291.6 407.2 291.2 405.9 290.8 404.6 290.3 403.4 289.9 402.1 289.4M405.6 293.0L402.1 289.4M407.1 288.8L402.1 289.4M435.4 294.0 434.1 293.3 432.8 292.5 431.5 291.6 430.3 290.8 429.0 290.0 427.7 289.3M429.8 292.7L427.7 289.3M431.8 289.6L427.7 289.3M459.7 291.0 458.4 291.2 457.2 291.3 455.9 291.5 454.7 291.6 453.4 291.8 452.2 291.9 450.9 292.1 449.6 292.1M453.8 293.9L449.6 292.1M453.5 289.8L449.6 292.1M482.5 290.0 481.3 290.4 480.2 290.9 479.0 291.3 477.8 291.6 476.6 292.0 475.4 292.4 474.2 292.8 473.0 293.1M477.5 293.9L473.0 293.1M476.3 290.0L473.0 293.1M504.0 286.0 503.4 287.1 502.8 288.3 502.2 289.4 501.5 290.5 500.9 291.6 500.3 292.8 499.7 293.9 499.0 295.0 498.4 296.2 497.8 297.3M501.9 294.5L497.8 297.3M498.0 292.3L497.8 297.3M528.2 284.7 527.6 285.8 526.9 287.0 526.2 288.2 525.5 289.3 524.8 290.5 524.0 291.6 523.3 292.8 522.6 293.9 521.9 295.1 521.2 296.3 520.5 297.4 519.8 298.6M524.0 295.9L519.8 298.6M520.1 293.6L519.8 298.6M548.4 284.1 548.2 285.4 548.0 286.6 547.8 287.9 547.6 289.1 547.4 290.4 547.2 291.6 547.0 292.9 546.8 294.2 546.6 295.4 546.4 296.7 546.2 297.9 546.0 299.2M548.9 295.1L546.0 299.2M544.4 294.4L546.0 299.2M568.9 286.0 569.2 287.4 569.6 288.8 569.9 290.2 570.3 291.6 570.7 293.1 571.1 294.5 571.5 295.9 571.9 297.3M572.8 292.4L571.9 297.3M568.5 293.6L571.9 297.3M592.8 290.4 593.1 291.0 593.4 291.6 593.8 292.3 594.1 292.9M594.1 289.9L594.1 292.9M591.6 291.1L594.1 292.9M615.1 292.3 615.8 292.0 616.6 291.6 617.3 291.3 618.1 291.0M615.1 290.8L618.1 291.0M616.1 293.3L618.1 291.0M636.6 290.6 638.1 291.2 639.7 291.6 641.3 292.1 642.8 292.6M640.7 290.5L642.8 292.6M639.9 293.1L642.8 292.6M661.0 292.6 661.9 292.1 662.8 291.6 663.8 291.2 664.7 290.7M661.7 290.7L664.7 290.7M663.0 293.1L664.7 290.7M165.6 310.7 165.1 310.9 164.6 311.1 164.1 311.3 163.6 311.5M166.6 311.8L163.6 311.5M165.6 309.3L163.6 311.5M188.7 312.3 188.2 311.7 187.7 311.1 187.2 310.5 186.7 309.9M187.3 312.8L186.7 309.9M189.5 311.1L186.7 309.9M212.1 309.6 211.5 310.4 210.9 311.1 210.2 311.8 209.6 312.6M212.4 311.4L209.6 312.6M210.3 309.7L209.6 312.6M233.6 309.9 233.8 310.5 234.0 311.1 234.2 311.7 234.4 312.3M234.9 309.4L234.4 312.3M232.3 310.2L234.4 312.3M257.1 309.6 257.1 310.4 257.1 311.1 257.1 311.8 257.1 312.6M258.5 309.9L257.1 312.6M255.7 309.9L257.1 312.6M282.1 310.7 281.2 310.9 280.2 311.1 279.3 311.3 278.4 311.5M281.3 312.3L278.4 311.5M280.7 309.6L278.4 311.5M307.2 308.5 305.9 309.3 304.6 310.2 303.4 311.1 302.1 312.0 300.9 313.0 299.7 313.9M303.8 313.1L299.7 313.9M301.5 310.1L299.7 313.9M329.7 315.5 328.9 314.4 328.1 313.3 327.3 312.2 326.5 311.1 325.7 310.0 324.9 308.9 324.1 307.9 323.2 306.8M324.2 311.6L323.2 306.8M327.7 308.8L323.2 306.8M352.1 312.3 350.9 311.7 349.6 311.1 348.4 310.5 347.1 309.8M348.9 312.3L347.1 309.8M350.1 309.8L347.1 309.8M375.5 310.8 374.1 310.9 372.8 311.1 371.4 311.3 370.0 311.4M372.8 312.5L370.0 311.4M372.5 309.8L370.0 311.4M402.8 314.1 401.7 313.6 400.5 313.1 399.3 312.6 398.2 312.1 397.0 311.6 395.9 311.1 394.8 310.6 393.6 310.1 392.5 309.5 391.3 309.0 390.2 308.5 389.0 308.0M392.2 311.9L389.0 308.0M394.0 307.7L389.0 308.0M422.2 309.7 420.6 310.4 419.0 311.1 417.5 311.8 415.9 312.5M419.0 312.7L415.9 312.5M417.8 310.1L415.9 312.5M447.2 310.6 445.9 310.8 444.7 310.9 443.4 311.0 442.2 311.1 440.9 311.2 439.7 311.3 438.4 311.4 437.2 311.6M441.4 313.2L437.2 311.6M441.0 309.1L437.2 311.6M470.9 308.5 469.8 309.0 468.7 309.6 467.5 310.1 466.4 310.6 465.3 311.1 464.2 311.6 463.0 312.1 461.9 312.6 460.8 313.1 459.7 313.6M464.7 313.8L459.7 313.6M462.8 309.7L459.7 313.6M490.3 307.4 489.7 308.6 489.0 309.9 488.4 311.1 487.8 312.3 487.1 313.6 486.5 314.8M489.6 312.7L486.5 314.8M486.6 311.0L486.5 314.8M512.6 306.7 512.3 308.2 511.9 309.6 511.5 311.1 511.2 312.6 510.9 314.0 510.6 315.5M513.1 312.3L510.6 315.5M509.5 311.6L510.6 315.5M535.5 304.2 535.3 305.6 535.1 307.0 534.9 308.4 534.8 309.7 534.7 311.1 534.6 312.5 534.4 313.8 534.3 315.2 534.2 316.6 534.0 318.0M536.7 313.8L534.0 318.0M532.2 313.3L534.0 318.0M557.2 305.5 557.4 306.9 557.5 308.3 557.7 309.7 557.8 311.1 558.0 312.5 558.1 313.9 558.3 315.3 558.5 316.7M560.2 312.0L558.5 316.7M555.7 312.6L558.5 316.7M579.9 312.1 580.4 311.6 580.9 311.1 581.4 310.6 581.9 310.1M579.1 311.0L581.9 310.1M581.0 313.0L581.9 310.1M605.1 314.2 604.6 312.7 604.1 311.1 603.6 309.5 603.1 308.0M602.6 310.9L603.1 308.0M605.2 310.1L603.1 308.0M625.3 310.1 626.3 310.6 627.2 311.1 628.1 311.6 629.1 312.1M627.3 309.6L629.1 312.1M626.1 312.1L629.1 312.1M647.8 314.6 648.7 313.4 649.5 312.3 650.3 311.1 651.2 309.9 652.0 308.8 652.9 307.6M649.4 309.4L652.9 307.6M652.2 311.4L652.9 307.6M672.0 312.1 672.7 311.6 673.5 311.1 674.2 310.6 674.9 310.0M671.9 310.5L674.9 310.0M673.6 312.7L674.9 310.0M179.8 331.8 178.5 331.2 177.1 330.6 175.7 329.9 174.4 329.3M176.2 331.6L174.4 329.3M177.4 329.2L174.4 329.3M202.1 331.8 201.2 331.2 200.2 330.6 199.3 329.9 198.4 329.3M199.8 331.9L198.4 329.3M201.3 329.7L198.4 329.3M221.9 330.2 222.6 330.4 223.4 330.6 224.1 330.7 224.9 330.9M222.6 329.0L224.9 330.9M221.9 331.6L224.9 330.9M244.6 330.2 245.6 330.4 246.5 330.6 247.4 330.7 248.4 330.9M246.0 329.1L248.4 330.9M245.5 331.7L248.4 330.9M268.1 331.2 268.9 330.9 269.6 330.6 270.4 330.2 271.1 329.9M268.1 329.7L271.1 329.9M269.2 332.2L271.1 329.9M291.5 328.0 292.1 329.3 292.8 330.6 293.4 331.8 294.1 333.0M294.0 330.0L294.1 333.0M291.6 331.3L294.1 333.0M316.5 332.8 316.2 331.7 315.9 330.6 315.6 329.4 315.2 328.3M314.7 331.3L315.2 328.3M317.3 330.5L315.2 328.3M341.2 333.1 340.1 331.8 339.0 330.6 337.9 329.3 336.8 328.0M337.5 331.0L336.8 328.0M339.6 329.1L336.8 328.0M362.1 332.4 362.1 331.5 362.1 330.6 362.1 329.6 362.1 328.7M360.8 331.4L362.1 328.7M363.5 331.3L362.1 328.7M388.3 335.6 387.6 334.3 386.8 333.1 386.1 331.8 385.3 330.6 384.5 329.3 383.7 328.1 382.9 326.8 382.0 325.6M382.7 330.6L382.0 325.6M386.4 328.0L382.0 325.6M409.9 332.8 409.1 331.7 408.4 330.6 407.7 329.4 406.8 328.3M407.3 331.3L406.8 328.3M409.5 329.7L406.8 328.3M434.2 326.9 433.2 328.1 432.4 329.3 431.5 330.6 430.7 331.8 429.9 333.0 429.0 334.3M432.6 332.3L429.0 334.3M429.5 330.3L429.0 334.3M457.4 325.7 456.6 326.9 455.9 328.1 455.3 329.3 454.7 330.6 454.0 331.8 453.4 333.0 452.7 334.3 452.0 335.5M456.2 332.7L452.0 335.5M452.2 330.5L452.0 335.5M481.7 328.5 480.4 329.2 479.1 329.9 477.8 330.6 476.5 331.2 475.1 331.8 473.8 332.5M477.8 332.5L473.8 332.5M476.2 329.3L473.8 332.5M500.4 325.5 500.5 326.8 500.6 328.0 500.8 329.3 500.9 330.6 501.1 331.8 501.2 333.1 501.3 334.3 501.4 335.6M503.2 331.4L501.4 335.6M499.0 331.7L501.4 335.6M525.5 329.0 524.8 329.8 524.0 330.6 523.3 331.3 522.5 332.0M525.4 331.1L522.5 332.0M523.5 329.2L522.5 332.0M546.6 327.4 546.9 329.0 547.2 330.6 547.5 332.1 547.8 333.7M548.6 330.8L547.8 333.7M545.9 331.3L547.8 333.7M569.7 331.8 570.0 331.2 570.3 330.6 570.6 329.9 570.9 329.3M568.5 331.1L570.9 329.3M571.0 332.3L570.9 329.3M594.4 331.2 593.9 330.9 593.4 330.6 592.9 330.2 592.4 329.9M594.0 332.5L592.4 329.9M595.4 330.2L592.4 329.9M615.6 329.3 616.1 329.9 616.6 330.6 617.1 331.2 617.6 331.8M617.0 328.9L617.6 331.8M614.8 330.6L617.6 331.8M638.7 331.5 639.2 331.0 639.7 330.6 640.2 330.1 640.7 329.6M637.8 330.5L640.7 329.6M639.8 332.4L640.7 329.6M658.5 330.2 659.9 330.3 661.4 330.4 662.8 330.6 664.3 330.7 665.8 330.7 667.2 330.7M663.7 328.9L667.2 330.7M663.7 332.5L667.2 330.7M165.9 353.1 165.2 351.6 164.6 350.0 164.0 348.4 163.4 346.9M163.1 349.9L163.4 346.9M165.6 348.9L163.4 346.9M190.8 351.0 189.3 350.5 187.7 350.0 186.2 349.5 184.6 349.0M186.7 351.1L184.6 349.0M187.6 348.5L184.6 349.0M210.5 348.7 210.7 349.4 210.9 350.0 211.0 350.6 211.2 351.3M211.8 348.3L211.2 351.3M209.2 349.1L211.2 351.3M233.0 348.5 233.5 349.3 234.0 350.0 234.5 350.7 235.0 351.5M234.6 348.5L235.0 351.5M232.4 350.0L235.0 351.5M257.5 351.3 257.3 350.6 257.1 350.0 256.9 349.4 256.8 348.7M256.2 351.7L256.8 348.7M258.8 350.9L256.8 348.7M278.0 353.7 278.7 352.5 279.5 351.2 280.2 350.0 281.0 348.8 281.8 347.5 282.6 346.3M279.2 348.3L282.6 346.3M282.2 350.2L282.6 346.3M301.8 353.1 302.6 351.6 303.4 350.0 304.1 348.4 304.9 346.9M302.4 348.8L304.9 346.9M305.0 350.0L304.9 346.9M327.4 353.1 327.0 351.6 326.5 350.0 326.0 348.4 325.5 346.9M325.0 349.8L325.5 346.9M327.6 349.0L325.5 346.9M349.2 353.7 349.4 352.5 349.5 351.2 349.6 350.0 349.8 348.8 349.9 347.5 350.0 346.2M348.2 349.1L350.0 346.2M351.3 349.4L350.0 346.2M374.2 354.4 373.8 352.9 373.3 351.5 372.8 350.0 372.3 348.5 371.8 347.1 371.3 345.6M370.7 349.7L371.3 345.6M374.3 348.5L371.3 345.6M394.9 352.8 395.4 351.4 395.9 350.0 396.4 348.6 396.8 347.2M394.7 349.3L396.8 347.2M397.3 350.2L396.8 347.2M419.7 351.0 419.3 350.5 419.0 350.0 418.7 349.5 418.4 349.0M418.7 352.0L418.4 349.0M421.0 350.5L418.4 349.0M443.2 353.1 442.7 351.6 442.2 350.0 441.7 348.4 441.1 346.9M440.7 349.9L441.1 346.9M443.2 349.0L441.1 346.9M469.7 347.8 468.6 348.3 467.5 348.9 466.4 349.4 465.3 350.0 464.2 350.6 463.1 351.1 462.0 351.6 460.8 352.1M465.3 352.3L460.8 352.1M463.6 348.7L460.8 352.1M490.7 351.0 489.5 350.5 488.4 350.0 487.3 349.5 486.1 349.1M488.1 351.3L486.1 349.1M489.1 348.8L486.1 349.1M513.8 351.9 512.7 350.9 511.5 350.0 510.4 349.1 509.3 348.2M510.5 350.9L509.3 348.2M512.2 348.8L509.3 348.2M535.9 351.3 535.3 350.6 534.7 350.0 534.1 349.4 533.4 348.8M534.4 351.6L533.4 348.8M536.3 349.7L533.4 348.8M559.1 350.6 558.4 350.3 557.8 350.0 557.2 349.7 556.6 349.4M558.4 351.8L556.6 349.4M559.6 349.3L556.6 349.4M579.9 348.8 580.4 349.4 580.9 350.0 581.4 350.6 581.9 351.3M581.3 348.3L581.9 351.3M579.2 350.0L581.9 351.3M605.6 348.1 604.8 349.1 604.1 350.0 603.3 350.9 602.6 351.9M605.3 350.6L602.6 351.9M603.2 348.9L602.6 351.9M628.5 349.4 627.8 349.7 627.2 350.0 626.6 350.3 625.9 350.6M628.9 350.7L625.9 350.6M627.7 348.2L625.9 350.6M648.1 351.2 649.2 350.6 650.3 350.0 651.5 349.4 652.6 348.8M649.6 348.9L652.6 348.8M650.9 351.2L652.6 348.8M671.9 353.1 672.7 351.6 673.5 350.0 674.2 348.4 674.9 346.8M672.4 348.8L674.9 346.8M675.0 350.0L674.9 346.8M182.2 375.6 181.3 374.6 180.5 373.6 179.6 372.6 178.8 371.5 177.9 370.5 177.1 369.4 176.3 368.4 175.4 367.4 174.6 366.3 173.8 365.3 173.0 364.2 172.2 363.1M173.1 368.1L172.2 363.1M176.7 365.3L172.2 363.1M201.2 376.3 201.0 374.9 200.7 373.6 200.5 372.2 200.4 370.8 200.2 369.4 200.1 368.1 200.0 366.7 199.8 365.3 199.6 364.0 199.4 362.6M197.8 367.3L199.4 362.6M202.3 366.7L199.4 362.6M227.2 379.1 226.8 377.8 226.4 376.6 225.9 375.4 225.4 374.2 224.9 373.0 224.4 371.8 223.9 370.6 223.4 369.4 222.8 368.3 222.3 367.1 221.7 365.9 221.2 364.8 220.6 363.6 220.1 362.4 219.5 361.3 219.0 360.1M218.8 365.1L219.0 360.1M222.9 363.1L219.0 360.1M247.5 372.0 247.1 370.7 246.5 369.4 245.9 368.2 245.2 366.9M245.2 369.9L245.2 366.9M247.7 368.7L245.2 366.9M265.1 374.9 266.0 373.9 266.9 372.8 267.9 371.7 268.7 370.6 269.6 369.4 270.5 368.3 271.4 367.2 272.2 366.1 273.1 364.9 274.0 363.8M269.5 366.0L274.0 363.8M273.1 368.7L274.0 363.8M287.7 375.7 288.6 374.6 289.4 373.6 290.2 372.6 291.1 371.5 291.9 370.5 292.8 369.4 293.6 368.4 294.4 367.4 295.2 366.3 296.1 365.3 296.9 364.2 297.7 363.2M293.2 365.3L297.7 363.2M296.8 368.1L297.7 363.2M311.5 375.1 312.4 374.0 313.3 372.8 314.1 371.7 315.0 370.6 315.9 369.4 316.8 368.3 317.6 367.2 318.4 366.0 319.3 364.9 320.0 363.7M315.7 366.1L320.0 363.7M319.4 368.6L320.0 363.7M338.2 374.4 338.5 373.2 338.7 371.9 338.9 370.7 339.0 369.4 339.2 368.2 339.3 366.9 339.5 365.7 339.6 364.4M337.1 368.2L339.6 364.4M341.2 368.7L339.6 364.4M360.6 374.4 361.0 373.2 361.4 371.9 361.8 370.7 362.1 369.4 362.5 368.2 362.9 366.9 363.2 365.7 363.5 364.4M360.4 367.9L363.5 364.4M364.6 369.0L363.5 364.4M385.9 372.2 385.6 370.8 385.3 369.4 385.0 368.1 384.6 366.7M383.9 369.6L384.6 366.7M386.6 369.0L384.6 366.7M406.6 373.8 407.2 372.4 407.8 370.9 408.4 369.4 409.0 368.0 409.6 366.5 410.2 365.1M407.0 367.8L410.2 365.1M410.6 369.3L410.2 365.1M433.0 372.6 432.3 371.0 431.5 369.4 430.8 367.9 430.0 366.3M430.0 369.4L430.0 366.3M432.5 368.2L430.0 366.3M455.6 370.5 455.2 369.9 454.7 369.4 454.2 369.0 453.7 368.4M454.6 371.3L453.7 368.4M456.5 369.4L453.7 368.4M479.3 370.5 478.5 369.9 477.8 369.4 477.0 369.0 476.3 368.5M477.8 371.1L476.3 368.5M479.3 368.8L476.3 368.5M504.0 370.5 502.5 369.9 500.9 369.4 499.4 369.0 497.8 368.4M499.9 370.6L497.8 368.4M500.8 368.0L497.8 368.4M523.4 372.0 523.7 370.7 524.0 369.4 524.4 368.2 524.6 366.9M522.7 369.2L524.6 366.9M525.4 369.9L524.6 366.9M547.8 370.7 547.5 370.1 547.2 369.4 546.9 368.8 546.5 368.2M546.5 371.2L546.5 368.2M549.0 370.0L546.5 368.2M571.8 368.2 571.1 368.8 570.3 369.4 569.6 370.1 568.8 370.7M571.7 370.0L568.8 370.7M570.0 367.9L568.8 370.7M594.7 370.1 594.1 369.8 593.4 369.4 592.8 369.1 592.2 368.8M594.0 371.2L592.2 368.8M595.2 368.8L592.2 368.8M620.3 369.7 619.1 369.7 617.8 369.6 616.6 369.4 615.3 369.3 614.1 369.2 612.8 369.1M615.7 370.9L612.8 369.1M616.0 367.8L612.8 369.1M640.7 367.2 640.2 368.3 639.7 369.4 639.2 370.6 638.7 371.7M641.0 369.8L638.7 371.7M638.5 368.7L638.7 371.7M661.3 370.7 662.1 370.1 662.8 369.4 663.6 368.8 664.3 368.2M661.4 368.9L664.3 368.2M663.2 371.0L664.3 368.2M166.6 392.6 165.9 391.4 165.2 390.1 164.6 388.9 164.0 387.7 163.4 386.4 162.7 385.2M162.7 388.9L162.7 385.2M165.8 387.4L162.7 385.2M195.1 394.1 194.1 393.3 193.0 392.6 192.0 391.8 190.9 391.1 189.9 390.3 188.8 389.6 187.7 388.9 186.7 388.2 185.6 387.5 184.5 386.7 183.5 386.0 182.5 385.2 181.4 384.4 180.4 383.7M182.6 388.2L180.4 383.7M185.3 384.5L180.4 383.7M214.7 397.0 214.1 395.8 213.6 394.7 213.0 393.5 212.5 392.4 211.9 391.2 211.4 390.1 210.9 388.9 210.3 387.7 209.8 386.6 209.3 385.4 208.8 384.2 208.3 383.1 207.8 381.9 207.3 380.7M206.9 385.7L207.3 380.7M211.1 384.0L207.3 380.7M231.5 393.9 232.1 392.7 232.7 391.4 233.4 390.1 234.0 388.9 234.6 387.7 235.2 386.4 235.8 385.1 236.3 383.8M232.5 387.0L236.3 383.8M236.6 388.8L236.3 383.8M247.8 394.5 248.8 393.9 249.8 393.3 250.9 392.7 251.9 392.0 253.0 391.4 254.0 390.8 255.0 390.2 256.1 389.5 257.1 388.9 258.2 388.3 259.2 387.6 260.2 387.0 261.3 386.4 262.3 385.7 263.3 385.0 264.3 384.4 265.3 383.7 266.3 383.0M261.4 383.6L266.3 383.0M263.9 387.4L266.3 383.0M275.8 393.2 276.7 392.3 277.6 391.5 278.5 390.6 279.4 389.8 280.2 388.9 281.1 388.0 282.0 387.1 282.9 386.3 283.7 385.4 284.6 384.5M279.9 386.1L284.6 384.5M283.1 389.3L284.6 384.5M299.6 394.5 300.4 393.4 301.1 392.3 301.9 391.1 302.6 390.0 303.4 388.9 304.1 387.8 304.9 386.7 305.6 385.5 306.4 384.4 307.2 383.3M302.8 385.7L307.2 383.3M306.5 388.3L307.2 383.3M322.7 394.5 323.5 393.4 324.3 392.3 325.0 391.1 325.8 390.0 326.5 388.9 327.3 387.8 328.0 386.6 328.7 385.5 329.4 384.3 330.1 383.2M325.9 385.8L330.1 383.2M329.8 388.2L330.1 383.2M347.1 394.5 347.6 393.4 348.1 392.3 348.6 391.1 349.1 390.0 349.6 388.9 350.1 387.8 350.6 386.6 351.1 385.5 351.6 384.4 352.1 383.3M348.3 386.5L352.1 383.3M352.4 388.2L352.1 383.3M372.4 392.6 372.5 391.4 372.6 390.1 372.8 388.9 372.9 387.7 373.0 386.4 373.1 385.1M371.3 388.0L373.1 385.1M374.4 388.3L373.1 385.1M395.3 392.6 395.5 391.4 395.7 390.1 395.9 388.9 396.1 387.7 396.3 386.4 396.5 385.2M394.5 387.9L396.5 385.2M397.6 388.4L396.5 385.2M416.8 396.4 417.2 395.2 417.6 393.9 417.9 392.7 418.3 391.4 418.7 390.1 419.0 388.9 419.4 387.7 419.8 386.4 420.1 385.1 420.5 383.9 420.8 382.6 421.1 381.4M417.8 385.1L421.1 381.4M422.2 386.2L421.1 381.4M441.2 392.0 441.7 390.5 442.2 388.9 442.7 387.3 443.1 385.8M441.0 387.9L443.1 385.8M443.6 388.7L443.1 385.8M465.4 395.8 465.3 394.4 465.3 393.0 465.3 391.6 465.3 390.3 465.3 388.9 465.3 387.5 465.3 386.2 465.3 384.8 465.2 383.4 465.2 382.0M463.0 386.6L465.2 382.0M467.6 386.4L465.2 382.0M489.0 392.7 488.8 391.4 488.6 390.1 488.4 388.9 488.2 387.7 488.0 386.4 487.7 385.2M486.8 388.5L487.7 385.2M489.8 387.9L487.7 385.2M510.9 392.0 511.2 390.5 511.5 388.9 511.9 387.3 512.1 385.8M510.3 388.1L512.1 385.8M513.0 388.7L512.1 385.8M534.0 392.6 534.3 391.4 534.5 390.1 534.7 388.9 534.9 387.7 535.1 386.4 535.3 385.1M533.3 387.9L535.3 385.1M536.3 388.4L535.3 385.1M557.4 390.8 557.6 389.8 557.8 388.9 558.0 388.0 558.2 387.0M556.3 389.4L558.2 387.0M559.0 389.9L558.2 387.0M580.3 390.4 580.6 389.6 580.9 388.9 581.3 388.2 581.6 387.4M579.3 389.4L581.6 387.4M581.8 390.4L581.6 387.4M603.4 391.2 603.8 390.0 604.1 388.9 604.4 387.8 604.6 386.6M602.7 388.9L604.6 386.6M605.3 389.6L604.6 386.6M629.4 388.9 628.3 388.9 627.2 388.9 626.1 388.9 625.0 388.9M627.6 390.3L625.0 388.9M627.6 387.5L625.0 388.9M649.4 387.4 649.8 388.2 650.3 388.9 650.8 389.6 651.3 390.4M651.0 387.4L651.3 390.4M648.7 388.9L651.3 390.4M674.5 388.7 674.0 388.7 673.5 388.9 673.0 389.1 672.5 389.3M675.4 389.6L672.5 389.3M674.5 387.0L672.5 389.3M183.4 412.0 182.3 411.4 181.3 410.8 180.2 410.2 179.2 409.6 178.1 409.0 177.1 408.3 176.1 407.7 175.0 407.1 174.0 406.4 173.0 405.8 172.0 405.1 170.9 404.4M173.4 408.8L170.9 404.4M175.9 405.0L170.9 404.4M205.3 411.4 204.0 410.6 202.7 409.9 201.5 409.1 200.2 408.3 199.0 407.6 197.7 406.8 196.5 406.0 195.2 405.2M197.8 409.5L195.2 405.2M200.2 405.7L195.2 405.2M223.7 409.0 223.5 408.7 223.4 408.3 223.2 408.0 223.0 407.7M223.2 410.7L223.0 407.7M225.5 409.3L223.0 407.7M241.5 408.4 242.7 408.4 244.0 408.4 245.2 408.3 246.5 408.3 247.7 408.3 249.0 408.3 250.2 408.3 251.5 408.2M247.4 406.4L251.5 408.2M247.6 410.4L251.5 408.2M264.0 410.8 265.1 410.3 266.2 409.8 267.4 409.3 268.5 408.8 269.6 408.3 270.7 407.9 271.9 407.3 273.0 406.8 274.1 406.3 275.2 405.7M270.2 405.7L275.2 405.7M272.2 409.7L275.2 405.7M290.2 412.1 291.1 410.8 291.9 409.6 292.8 408.3 293.6 407.1 294.4 405.9 295.3 404.6M291.7 406.6L295.3 404.6M294.8 408.6L295.3 404.6M312.8 412.7 313.5 411.6 314.3 410.5 315.1 409.4 315.9 408.3 316.7 407.3 317.4 406.2 318.2 405.1 319.0 404.0M314.7 406.2L319.0 404.0M318.3 408.8L319.0 404.0M335.9 414.0 336.5 412.8 337.1 411.7 337.8 410.6 338.4 409.5 339.0 408.3 339.6 407.2 340.3 406.1 340.9 405.0 341.5 403.8 342.1 402.7M338.0 405.5L342.1 402.7M342.0 407.7L342.1 402.7M360.6 413.4 361.0 412.1 361.4 410.9 361.8 409.6 362.1 408.3 362.5 407.1 362.9 405.8 363.3 404.6 363.6 403.3M360.4 406.8L363.6 403.3M364.5 408.0L363.6 403.3M384.3 413.1 384.5 411.9 384.8 410.7 385.0 409.5 385.3 408.3 385.5 407.2 385.8 406.0 386.0 404.8 386.3 403.6M383.5 407.0L386.3 403.6M387.4 407.8L386.3 403.6M407.8 412.1 408.0 410.8 408.2 409.6 408.4 408.3 408.6 407.1 408.8 405.9 409.0 404.6M407.0 407.3L409.0 404.6M410.0 407.9L409.0 404.6M430.9 412.7 431.1 411.3 431.3 409.8 431.5 408.3 431.7 406.9 432.0 405.4 432.2 404.0M429.9 407.2L432.2 404.0M433.4 407.8L432.2 404.0M455.9 413.4 455.6 412.1 455.3 410.9 455.0 409.6 454.7 408.3 454.3 407.1 454.1 405.8 453.8 404.6 453.5 403.3M452.3 407.8L453.5 403.3M456.4 406.9L453.5 403.3M477.8 413.3 477.8 412.1 477.8 410.8 477.8 409.6 477.8 408.3 477.8 407.1 477.8 405.9 477.8 404.6 477.8 403.4M475.8 407.4L477.8 403.4M479.8 407.3L477.8 403.4M500.3 413.4 500.5 412.1 500.6 410.9 500.8 409.6 500.9 408.3 501.1 407.1 501.2 405.8 501.4 404.6 501.5 403.3M499.0 407.1L501.5 403.3M503.1 407.6L501.5 403.3M523.1 412.1 523.4 410.9 523.7 409.6 524.0 408.3 524.4 407.1 524.7 405.8 525.0 404.6M522.7 407.2L525.0 404.6M525.8 408.0L525.0 404.6M546.6 411.5 546.9 409.9 547.2 408.3 547.5 406.8 547.8 405.2M545.9 407.6L547.8 405.2M548.6 408.1L547.8 405.2M569.9 411.1 570.1 409.7 570.3 408.3 570.5 407.0 570.7 405.6M569.0 408.1L570.7 405.6M571.7 408.4L570.7 405.6M593.4 410.6 593.4 409.5 593.4 408.3 593.4 407.2 593.5 406.1M592.1 408.8L593.5 406.1M594.8 408.8L593.5 406.1M614.7 410.2 615.6 409.3 616.6 408.3 617.5 407.4 618.4 406.5M615.6 407.4L618.4 406.5M617.5 409.3L618.4 406.5M638.4 409.8 639.1 409.1 639.7 408.3 640.3 407.6 641.0 406.9M638.2 408.0L641.0 406.9M640.3 409.8L641.0 406.9M661.3 407.7 662.1 408.0 662.8 408.3 663.6 408.7 664.3 409.0M662.4 406.7L664.3 409.0M661.4 409.2L664.3 409.0M170.2 430.1 169.1 429.6 168.0 429.2 166.8 428.7 165.7 428.2 164.6 427.8 163.5 427.4 162.4 426.9 161.2 426.5 160.1 426.0 159.0 425.6M162.3 429.3L159.0 425.6M164.0 425.1L159.0 425.6M192.1 427.7 190.6 427.8 189.2 427.8 187.7 427.8 186.3 427.8 184.8 427.8 183.4 427.7M186.8 429.6L183.4 427.7M186.9 426.0L183.4 427.7M212.4 424.7 211.6 426.2 210.9 427.8 210.1 429.4 209.3 430.9M211.8 429.1L209.3 430.9M209.3 427.8L209.3 430.9M233.0 424.7 233.5 426.2 234.0 427.8 234.5 429.4 235.1 430.9M235.5 427.9L235.1 430.9M232.9 428.8L235.1 430.9M254.6 428.8 255.9 428.3 257.1 427.8 258.4 427.3 259.6 426.8M256.6 426.5L259.6 426.8M257.7 429.1L259.6 426.8M278.4 430.6 279.3 429.2 280.2 427.8 281.2 426.4 282.1 425.0M279.5 426.5L282.1 425.0M281.7 428.0L282.1 425.0M301.9 430.3 302.6 429.0 303.4 427.8 304.1 426.6 304.9 425.3M302.3 426.9L304.9 425.3M304.7 428.3L304.9 425.3M324.3 431.6 325.0 430.3 325.8 429.0 326.5 427.8 327.3 426.6 328.0 425.3 328.8 424.0M325.4 426.1L328.8 424.0M328.5 428.0L328.8 424.0M348.1 431.6 348.6 430.3 349.1 429.0 349.6 427.8 350.1 426.6 350.6 425.3 351.1 424.0M348.4 426.4L351.1 424.0M351.5 427.7L351.1 424.0M372.4 433.4 372.5 432.0 372.6 430.6 372.7 429.2 372.8 427.8 372.9 426.4 373.0 425.0 373.1 423.6 373.2 422.2M370.6 426.4L373.2 422.2M375.1 426.8L373.2 422.2M394.5 434.1 394.8 432.8 395.0 431.6 395.3 430.3 395.6 429.0 395.9 427.8 396.2 426.6 396.5 425.3 396.8 424.0 397.1 422.8 397.4 421.5M394.2 425.4L397.4 421.5M398.6 426.4L397.4 421.5M418.6 432.8 418.7 431.5 418.8 430.3 418.9 429.0 419.0 427.8 419.1 426.6 419.2 425.3 419.3 424.1 419.4 422.8M417.1 426.6L419.4 422.8M421.1 427.0L419.4 422.8M441.6 431.6 441.8 430.3 442.0 429.0 442.2 427.8 442.4 426.6 442.6 425.3 442.7 424.0M440.8 426.8L442.7 424.0M443.8 427.3L442.7 424.0M466.7 432.2 466.3 430.7 465.8 429.3 465.3 427.8 464.8 426.3 464.3 424.9 463.8 423.4M463.2 427.5L463.8 423.4M466.8 426.3L463.8 423.4M488.4 432.8 488.4 431.5 488.4 430.3 488.4 429.0 488.4 427.8 488.4 426.6 488.4 425.3 488.4 424.1 488.4 422.8M486.4 426.8L488.4 422.8M490.5 426.8L488.4 422.8M511.2 432.8 511.3 431.6 511.4 430.3 511.5 429.0 511.5 427.8 511.6 426.6 511.7 425.3 511.8 424.1 512.0 422.8M509.6 426.6L512.0 422.8M513.7 427.0L512.0 422.8M534.7 432.8 534.7 431.5 534.7 430.3 534.7 429.0 534.7 427.8 534.7 426.6 534.7 425.3 534.7 424.1 534.7 422.8M532.6 426.8L534.7 422.8M536.7 426.8L534.7 422.8M557.2 429.7 557.5 428.7 557.8 427.8 558.1 426.9 558.4 425.9M556.3 428.0L558.4 425.9M558.9 428.9L558.4 425.9M580.0 429.3 580.4 428.5 580.9 427.8 581.4 427.1 581.9 426.3M579.3 427.8L581.9 426.3M581.6 429.3L581.9 426.3M603.1 429.7 603.6 428.7 604.1 427.8 604.6 426.9 605.1 425.9M602.6 427.6L605.1 425.9M605.0 428.9L605.1 425.9M625.3 430.1 626.3 428.9 627.2 427.8 628.1 426.7 629.1 425.6M626.3 426.7L629.1 425.6M628.4 428.5L629.1 425.6M648.5 429.3 649.4 428.5 650.3 427.8 651.3 427.1 652.2 426.3M649.3 426.9L652.2 426.3M651.0 429.0L652.2 426.3M672.8 429.7 673.1 428.7 673.5 427.8 673.8 426.9 674.1 425.9M672.0 428.0L674.1 425.9M674.5 428.9L674.1 425.9M180.8 452.3 180.1 451.3 179.3 450.3 178.6 449.3 177.8 448.2 177.1 447.2 176.4 446.3 175.6 445.3 174.8 444.3 174.0 443.3 173.2 442.4M174.3 447.2L173.2 442.4M177.8 444.3L173.2 442.4M202.9 450.4 202.0 449.3 201.1 448.3 200.2 447.2 199.3 446.2 198.4 445.2 197.4 444.2M198.5 447.8L197.4 444.2M200.9 445.4L197.4 444.2M222.4 451.0 222.7 449.8 223.0 448.5 223.4 447.2 223.7 446.0 224.0 444.8 224.4 443.5M222.0 446.1L224.4 443.5M225.1 446.9L224.4 443.5M245.0 451.0 245.5 449.8 246.0 448.5 246.5 447.2 247.0 446.0 247.5 444.8 248.1 443.5M245.3 445.8L248.1 443.5M248.3 447.2L248.1 443.5M267.8 451.0 268.4 449.8 269.0 448.5 269.6 447.2 270.2 446.0 270.9 444.8 271.5 443.5M268.5 445.7L271.5 443.5M271.5 447.3L271.5 443.5M290.9 451.6 291.5 450.2 292.1 448.7 292.8 447.2 293.4 445.8 294.0 444.3 294.6 442.9M291.3 445.6L294.6 442.9M294.9 447.2L294.6 442.9M312.9 453.0 313.5 451.8 314.0 450.6 314.6 449.5 315.3 448.4 315.9 447.2 316.5 446.1 317.1 445.0 317.8 443.9 318.4 442.8 319.0 441.6M314.9 444.4L319.0 441.6M318.8 446.6L319.0 441.6M336.6 453.5 337.0 452.3 337.5 451.0 338.0 449.8 338.5 448.5 339.0 447.2 339.5 446.0 340.0 444.8 340.5 443.5 341.0 442.3 341.5 441.0M337.7 444.3L341.5 441.0M342.0 446.0L341.5 441.0M361.5 451.0 361.7 449.8 361.9 448.5 362.1 447.2 362.3 446.0 362.6 444.7 362.8 443.5M360.7 446.3L362.8 443.5M363.8 446.8L362.8 443.5M386.5 451.0 386.1 449.8 385.7 448.5 385.3 447.2 384.9 446.0 384.5 444.7 384.1 443.5M383.5 447.0L384.1 443.5M386.6 446.1L384.1 443.5M406.2 452.9 406.6 451.8 407.1 450.6 407.5 449.5 408.0 448.4 408.4 447.2 408.8 446.1 409.3 445.0 409.7 443.9 410.1 442.7 410.6 441.6M406.9 445.0L410.6 441.6M411.2 446.6L410.6 441.6M431.2 451.6 431.3 450.2 431.4 448.7 431.5 447.2 431.7 445.8 431.8 444.3 431.9 442.9M429.8 446.2L431.9 442.9M433.4 446.5L431.9 442.9M455.3 451.0 455.1 449.8 454.9 448.5 454.7 447.2 454.5 446.0 454.2 444.7 454.1 443.5M453.0 446.8L454.1 443.5M456.1 446.3L454.1 443.5M477.8 450.4 477.8 448.8 477.8 447.2 477.8 445.7 477.8 444.1M476.4 446.8L477.8 444.1M479.1 446.8L477.8 444.1M500.9 452.2 500.9 451.0 500.9 449.7 500.9 448.5 500.9 447.2 500.9 446.0 500.9 444.8 500.9 443.5 500.9 442.3M498.9 446.3L500.9 442.3M503.0 446.3L500.9 442.3M524.6 451.6 524.5 450.2 524.3 448.7 524.0 447.2 523.8 445.8 523.6 444.3 523.5 442.9M522.1 446.6L523.5 442.9M525.7 446.2L523.5 442.9M547.2 451.6 547.2 450.2 547.2 448.7 547.2 447.2 547.2 445.8 547.2 444.3 547.2 442.9M545.4 446.4L547.2 442.9M549.0 446.4L547.2 442.9M570.0 450.0 570.1 448.6 570.3 447.2 570.5 445.9 570.7 444.5M569.0 447.0L570.7 444.5M571.7 447.3L570.7 444.5M593.1 448.8 593.3 448.0 593.4 447.2 593.6 446.5 593.8 445.8M591.8 448.0L593.8 445.8M594.5 448.7L593.8 445.8M615.9 449.1 616.3 448.2 616.6 447.2 616.9 446.3 617.2 445.4M615.1 447.5L617.2 445.4M617.6 448.3L617.2 445.4M638.2 449.1 639.0 448.2 639.7 447.2 640.4 446.3 641.2 445.4M638.5 446.6L641.2 445.4M640.6 448.3L641.2 445.4M660.1 450.0 661.0 449.1 661.9 448.2 662.8 447.2 663.7 446.3 664.7 445.4 665.5 444.5M662.2 445.6L665.5 444.5M664.5 447.8L665.5 444.5M166.5 471.0 165.9 469.6 165.2 468.2 164.6 466.7 164.0 465.2 163.4 463.8 162.7 462.3M162.4 466.6L162.7 462.3M166.0 465.1L162.7 462.3M189.3 470.4 188.8 469.2 188.2 467.9 187.7 466.7 187.2 465.5 186.7 464.2 186.2 463.0M185.9 466.6L186.2 463.0M189.0 465.3L186.2 463.0M212.4 470.4 211.9 469.2 211.4 467.9 210.9 466.7 210.4 465.5 209.8 464.2 209.3 463.0M209.0 466.6L209.3 463.0M212.1 465.3L209.3 463.0M233.8 471.7 233.8 470.5 233.8 469.2 233.9 467.9 234.0 466.7 234.1 465.5 234.2 464.2 234.3 463.0 234.4 461.7M232.0 465.5L234.4 461.7M236.1 465.9L234.4 461.7M255.8 473.0 256.0 471.7 256.3 470.5 256.5 469.2 256.8 467.9 257.1 466.7 257.4 465.5 257.7 464.2 258.0 463.0 258.4 461.7 258.7 460.5M255.4 464.2L258.7 460.5M259.8 465.3L258.7 460.5M278.8 471.7 279.2 470.5 279.5 469.2 279.9 467.9 280.2 466.7 280.6 465.5 281.0 464.2 281.4 463.0 281.8 461.7M278.5 465.1L281.8 461.7M282.6 466.3L281.8 461.7M303.0 472.3 303.1 470.9 303.2 469.5 303.3 468.1 303.4 466.7 303.5 465.3 303.6 463.9 303.7 462.5 303.9 461.1M301.2 465.3L303.9 461.1M305.7 465.8L303.9 461.1M325.1 472.3 325.4 470.9 325.8 469.5 326.1 468.1 326.5 466.7 326.9 465.3 327.3 463.9 327.7 462.5 328.1 461.1M324.7 464.7L328.1 461.1M329.0 466.0L328.1 461.1M349.0 472.3 349.2 470.9 349.3 469.5 349.5 468.1 349.6 466.7 349.8 465.3 350.0 463.9 350.1 462.5 350.3 461.1M347.5 465.2L350.3 461.1M352.0 465.8L350.3 461.1M372.7 471.7 372.7 470.4 372.8 469.2 372.8 467.9 372.8 466.7 372.8 465.5 372.8 464.2 372.8 463.0 372.8 461.7M370.7 465.7L372.8 461.7M374.8 465.7L372.8 461.7M396.3 467.7 396.1 467.2 395.9 466.7 395.7 466.2 395.5 465.7M395.2 468.7L395.5 465.7M397.7 467.7L395.5 465.7M418.7 471.7 418.8 470.5 418.9 469.2 418.9 467.9 419.0 466.7 419.1 465.5 419.2 464.2 419.3 463.0 419.5 461.7M417.0 465.5L419.5 461.7M421.1 465.9L419.5 461.7M441.8 471.1 441.9 469.6 442.0 468.2 442.2 466.7 442.3 465.2 442.4 463.8 442.5 462.3M440.5 465.7L442.5 462.3M444.0 466.0L442.5 462.3M466.3 469.8 465.8 468.3 465.3 466.7 464.8 465.1 464.3 463.6M463.8 466.5L464.3 463.6M466.4 465.7L464.3 463.6M489.6 470.5 489.2 469.2 488.8 467.9 488.4 466.7 488.0 465.5 487.6 464.2 487.2 462.9M486.6 466.4L487.2 462.9M489.7 465.5L487.2 462.9M510.9 471.1 511.1 469.6 511.3 468.2 511.5 466.7 511.8 465.2 512.0 463.8 512.1 462.3M509.9 465.6L512.1 462.3M513.5 466.1L512.1 462.3M534.7 471.7 534.7 470.4 534.7 469.2 534.7 467.9 534.7 466.7 534.7 465.5 534.7 464.2 534.7 463.0 534.7 461.7M532.6 465.7L534.7 461.7M536.7 465.7L534.7 461.7M558.8 468.2 558.3 467.4 557.8 466.7 557.3 466.0 556.8 465.2M557.1 468.2L556.8 465.2M559.4 466.7L556.8 465.2M581.5 469.2 581.3 467.9 580.9 466.7 580.6 465.5 580.3 464.2M579.6 467.1L580.3 464.2M582.3 466.5L580.3 464.2M603.5 469.5 603.8 468.1 604.1 466.7 604.4 465.3 604.7 464.0M602.8 466.3L604.7 464.0M605.4 466.9L604.7 464.0M626.0 469.2 626.6 467.9 627.2 466.7 627.8 465.5 628.5 464.2M626.0 466.0L628.5 464.2M628.5 467.2L628.5 464.2M648.5 468.2 649.4 467.4 650.3 466.7 651.3 466.0 652.2 465.2M649.3 465.8L652.2 465.2M651.0 467.9L652.2 465.2M673.5 467.7 673.5 467.2 673.5 466.7 673.5 466.2 673.5 465.7M672.1 468.4L673.5 465.7M674.8 468.4L673.5 465.7M179.9 487.1 178.5 486.6 177.1 486.1 175.7 485.7 174.4 485.1M176.4 487.3L174.4 485.1M177.4 484.8L174.4 485.1M203.4 486.8 201.8 486.5 200.2 486.1 198.7 485.8 197.1 485.5M199.4 487.4L197.1 485.5M200.0 484.7L197.1 485.5M226.1 487.5 224.7 486.8 223.4 486.1 222.0 485.5 220.6 484.9M222.5 487.2L220.6 484.9M223.6 484.8L220.6 484.9M248.1 491.7 247.7 490.4 247.3 489.0 246.9 487.6 246.5 486.1 246.1 484.7 245.8 483.3 245.4 481.9 245.1 480.5M243.9 485.3L245.1 480.5M248.3 484.3L245.1 480.5M269.5 493.7 269.5 492.4 269.5 491.2 269.5 489.9 269.5 488.7 269.6 487.4 269.6 486.1 269.7 484.9 269.8 483.7 269.8 482.4 269.9 481.2 270.0 479.9 270.1 478.7M267.5 482.9L270.1 478.7M272.0 483.3L270.1 478.7M292.8 491.8 292.8 490.4 292.8 489.0 292.8 487.6 292.8 486.1 292.8 484.7 292.8 483.3 292.8 481.9 292.8 480.5M290.5 484.9L292.8 480.5M295.0 485.0L292.8 480.5M315.5 493.6 315.6 492.4 315.6 491.1 315.7 489.9 315.8 488.6 315.8 487.4 315.9 486.1 315.9 484.9 316.0 483.7 316.1 482.4 316.2 481.2 316.2 479.9 316.3 478.7M313.8 482.9L316.3 478.7M318.3 483.3L316.3 478.7M338.4 491.8 338.5 490.4 338.7 489.0 338.9 487.6 339.0 486.1 339.2 484.7 339.3 483.3 339.5 481.9 339.7 480.5M336.9 484.7L339.7 480.5M341.4 485.2L339.7 480.5M362.1 491.8 362.1 490.4 362.1 489.0 362.1 487.6 362.1 486.1 362.1 484.7 362.1 483.3 362.1 481.9 362.2 480.5M359.9 485.0L362.2 480.5M364.4 485.0L362.2 480.5M383.5 491.8 383.9 490.4 384.3 489.0 384.8 487.6 385.3 486.1 385.7 484.7 386.2 483.3 386.6 481.9 387.1 480.5M383.6 484.1L387.1 480.5M387.9 485.4L387.1 480.5M410.2 489.3 409.6 488.2 409.0 487.2 408.4 486.1 407.8 485.1 407.2 484.1 406.5 483.0M406.7 486.3L406.5 483.0M409.3 484.8L406.5 483.0M431.9 490.5 431.8 489.1 431.7 487.6 431.5 486.1 431.4 484.7 431.3 483.2 431.2 481.8M429.7 485.4L431.2 481.8M433.2 485.2L431.2 481.8M455.3 490.5 455.1 489.1 454.9 487.6 454.7 486.1 454.5 484.7 454.2 483.2 454.1 481.8M452.7 485.5L454.1 481.8M456.3 485.0L454.1 481.8M478.1 491.2 478.1 489.9 478.0 488.7 477.9 487.4 477.8 486.1 477.7 484.9 477.6 483.7 477.5 482.4 477.4 481.2M475.7 485.3L477.4 481.2M479.8 485.0L477.4 481.2M500.3 491.2 500.5 489.9 500.6 488.7 500.8 487.4 500.9 486.1 501.1 484.9 501.2 483.6 501.4 482.4 501.5 481.1M499.0 484.9L501.5 481.1M503.1 485.4L501.5 481.1M524.7 489.9 524.5 488.6 524.3 487.4 524.0 486.1 523.8 484.9 523.6 483.6 523.5 482.4M522.4 485.6L523.5 482.4M525.5 485.2L523.5 482.4M548.7 488.7 547.9 487.4 547.2 486.1 546.4 484.9 545.7 483.6M545.9 486.6L545.7 483.6M548.2 485.3L545.7 483.6M569.7 489.3 570.0 487.7 570.3 486.1 570.6 484.6 570.9 483.0M569.1 485.4L570.9 483.0M571.7 485.9L570.9 483.0M593.4 488.4 593.4 487.3 593.4 486.1 593.4 485.0 593.4 483.9M592.1 486.6L593.4 483.9M594.8 486.6L593.4 483.9M616.2 488.0 616.4 487.1 616.6 486.1 616.8 485.2 617.0 484.3M615.1 486.6L617.0 484.3M617.8 487.2L617.0 484.3M638.7 488.0 639.2 487.1 639.7 486.1 640.2 485.2 640.7 484.3M638.2 486.0L640.7 484.3M640.6 487.3L640.7 484.3M661.8 488.0 662.3 487.1 662.8 486.1 663.3 485.2 663.8 484.3M661.4 486.0L663.8 484.3M663.8 487.3L663.8 484.3M165.8 505.6 165.2 505.6 164.6 505.6 164.0 505.6 163.4 505.6M166.0 507.0L163.4 505.6M166.0 504.2L163.4 505.6M189.0 506.0 188.4 505.8 187.7 505.6 187.1 505.4 186.5 505.2M188.7 507.3L186.5 505.2M189.4 504.7L186.5 505.2M213.1 508.2 212.0 506.8 210.9 505.6 209.7 504.4 208.6 503.1M209.4 506.0L208.6 503.1M211.4 504.2L208.6 503.1M235.6 512.5 235.2 511.1 234.9 509.7 234.6 508.3 234.3 507.0 234.0 505.6 233.7 504.2 233.4 502.9 233.0 501.5 232.7 500.1 232.3 498.8M231.3 503.7L232.3 498.8M235.7 502.5L232.3 498.8M259.6 506.6 258.4 506.1 257.1 505.6 255.9 505.1 254.7 504.5M256.5 506.8L254.7 504.5M257.7 504.3L254.7 504.5M281.8 507.8 281.0 506.7 280.2 505.6 279.5 504.5 278.8 503.3M279.1 506.3L278.8 503.3M281.4 504.8L278.8 503.3M303.4 507.1 303.4 506.3 303.4 505.6 303.4 504.9 303.4 504.1M302.0 506.8L303.4 504.1M304.7 506.8L303.4 504.1M326.2 507.9 326.3 506.7 326.5 505.6 326.7 504.5 326.9 503.3M325.1 505.8L326.9 503.3M327.8 506.2L326.9 503.3M349.3 508.7 349.5 507.2 349.6 505.6 349.8 504.0 350.0 502.5M348.3 505.0L350.0 502.5M351.0 505.3L350.0 502.5M372.7 510.6 372.8 509.3 372.8 508.1 372.8 506.8 372.8 505.6 372.8 504.4 372.8 503.1 372.8 501.9 372.8 500.6M370.7 504.6L372.8 500.6M374.8 504.6L372.8 500.6M394.9 510.6 395.2 509.4 395.4 508.1 395.7 506.8 395.9 505.6 396.1 504.4 396.4 503.1 396.6 501.8 396.8 500.6M394.1 504.3L396.8 500.6M398.2 505.0L396.8 500.6M419.4 508.7 419.2 507.2 419.0 505.6 418.8 504.0 418.6 502.5M417.6 505.3L418.6 502.5M420.3 505.0L418.6 502.5M443.1 509.4 442.8 508.1 442.5 506.8 442.2 505.6 441.8 504.4 441.5 503.1 441.2 501.8M440.4 505.3L441.2 501.8M443.5 504.5L441.2 501.8M465.3 510.6 465.3 509.3 465.3 508.1 465.3 506.8 465.3 505.6 465.3 504.4 465.3 503.1 465.3 501.9 465.3 500.6M463.3 504.6L465.3 500.6M467.3 504.6L465.3 500.6M487.8 508.7 488.1 507.2 488.4 505.6 488.7 504.0 489.0 502.5M487.2 504.8L489.0 502.5M489.9 505.4L489.0 502.5M513.1 511.2 512.7 509.8 512.3 508.4 511.9 507.0 511.5 505.6 511.2 504.2 510.8 502.8 510.5 501.4 510.2 499.9M509.0 504.8L510.2 499.9M513.4 503.8L510.2 499.9M536.2 509.3 535.7 508.1 535.2 506.8 534.7 505.6 534.2 504.4 533.7 503.1 533.2 501.8M532.8 505.5L533.2 501.8M535.9 504.3L533.2 501.8M558.2 507.1 558.0 506.3 557.8 505.6 557.6 504.9 557.4 504.1M556.8 507.0L557.4 504.1M559.4 506.4L557.4 504.1M580.3 508.7 580.6 507.2 580.9 505.6 581.3 504.0 581.6 502.5M579.7 504.8L581.6 502.5M582.4 505.4L581.6 502.5M604.4 507.1 604.3 506.3 604.1 505.6 603.9 504.9 603.7 504.1M603.0 507.0L603.7 504.1M605.7 506.4L603.7 504.1M626.2 507.8 626.7 506.7 627.2 505.6 627.7 504.5 628.2 503.4M625.9 505.2L628.2 503.4M628.4 506.3L628.2 503.4M649.1 507.5 649.7 506.5 650.3 505.6 651.0 504.7 651.6 503.7M649.0 505.2L651.6 503.7M651.2 506.7L651.6 503.7M672.2 507.1 672.8 506.3 673.5 505.6 674.1 504.9 674.7 504.1M671.9 505.3L674.7 504.1M674.1 507.0L674.7 504.1M179.6 531.3 179.1 530.1 178.6 528.8 178.1 527.6 177.6 526.3 177.1 525.0 176.6 523.8 176.1 522.6 175.6 521.3 175.0 520.1 174.5 518.8M174.2 523.8L174.5 518.8M178.4 522.0L174.5 518.8M202.9 531.3 202.4 530.1 201.8 528.8 201.3 527.6 200.8 526.3 200.2 525.0 199.7 523.8 199.1 522.6 198.6 521.3 198.0 520.1 197.4 518.8M197.2 523.8L197.4 518.8M201.3 521.9L197.4 518.8M225.1 532.6 224.9 531.3 224.6 530.1 224.3 528.8 224.0 527.6 223.7 526.3 223.4 525.0 223.0 523.8 222.7 522.6 222.4 521.3 222.1 520.1 221.7 518.8 221.4 517.6M220.4 522.5L221.4 517.6M224.8 521.3L221.4 517.6M248.3 528.2 247.7 527.1 247.1 526.1 246.5 525.0 245.9 524.0 245.3 523.0 244.7 521.9M244.8 525.2L244.7 521.9M247.4 523.7L244.7 521.9M271.4 528.2 270.8 527.1 270.2 526.1 269.6 525.0 269.0 524.0 268.4 523.0 267.7 522.0M268.0 525.2L267.7 522.0M270.5 523.6L267.7 522.0M294.6 526.9 293.7 526.0 292.8 525.0 291.8 524.1 290.9 523.2M291.8 526.0L290.9 523.2M293.7 524.1L290.9 523.2M317.4 527.6 316.6 526.3 315.9 525.0 315.1 523.8 314.4 522.5M314.6 525.5L314.4 522.5M316.9 524.1L314.4 522.5M340.3 527.5 339.6 526.3 339.0 525.0 338.4 523.8 337.8 522.5M337.7 525.5L337.8 522.5M340.2 524.3L337.8 522.5M361.6 530.7 361.7 529.3 361.8 527.9 362.0 526.5 362.1 525.0 362.3 523.6 362.4 522.2 362.6 520.8 362.7 519.4M360.0 523.6L362.7 519.4M364.5 524.1L362.7 519.4M384.7 530.1 384.8 528.8 385.0 527.6 385.1 526.3 385.3 525.0 385.4 523.8 385.6 522.6 385.7 521.3 385.9 520.1M383.4 523.8L385.9 520.1M387.4 524.3L385.9 520.1M408.1 530.1 408.1 528.8 408.2 527.6 408.3 526.3 408.4 525.0 408.5 523.8 408.6 522.5 408.7 521.3 408.8 520.0M406.4 523.9L408.8 520.0M410.5 524.2L408.8 520.0M432.2 529.4 432.0 528.0 431.7 526.5 431.5 525.0 431.3 523.6 431.1 522.1 430.9 520.7M429.6 524.4L430.9 520.7M433.2 523.9L430.9 520.7M455.1 530.0 455.0 528.8 454.9 527.5 454.8 526.3 454.7 525.0 454.6 523.8 454.5 522.6 454.4 521.3 454.3 520.1M452.5 524.2L454.3 520.1M456.6 523.9L454.3 520.1M478.4 530.7 478.3 529.3 478.1 527.9 477.9 526.5 477.8 525.0 477.6 523.6 477.5 522.2 477.3 520.8 477.2 519.4M475.4 524.1L477.2 519.4M479.9 523.6L477.2 519.4M502.4 529.4 501.9 528.0 501.4 526.5 500.9 525.0 500.4 523.6 499.9 522.1 499.5 520.7M498.8 524.8L499.5 520.7M502.4 523.6L499.5 520.7M525.3 528.2 524.7 526.6 524.0 525.0 523.4 523.5 522.8 521.9M522.5 524.9L522.8 521.9M525.1 523.9L522.8 521.9M548.7 526.9 547.9 526.0 547.2 525.0 546.4 524.1 545.7 523.2M546.3 526.1L545.7 523.2M548.4 524.4L545.7 523.2M569.7 528.2 570.0 526.6 570.3 525.0 570.6 523.5 570.9 521.9M569.1 524.3L570.9 521.9M571.7 524.8L570.9 521.9M594.0 526.6 593.8 525.8 593.4 525.0 593.1 524.3 592.8 523.5M592.6 526.5L592.8 523.5M595.1 525.5L592.8 523.5M614.7 526.9 615.6 526.0 616.6 525.0 617.5 524.1 618.4 523.2M615.6 524.1L618.4 523.2M617.5 526.0L618.4 523.2M638.7 526.9 639.2 526.0 639.7 525.0 640.2 524.1 640.7 523.2M638.2 524.9L640.7 523.2M640.6 526.2L640.7 523.2M661.0 526.9 661.9 526.0 662.8 525.0 663.8 524.1 664.7 523.2M661.8 524.1L664.7 523.2M663.8 526.0L664.7 523.2M168.5 554.5 168.0 553.2 167.5 552.0 167.0 550.7 166.5 549.5 166.0 548.2 165.5 547.0 165.1 545.7 164.6 544.5 164.1 543.3 163.7 542.0 163.2 540.8 162.7 539.5 162.3 538.3 161.8 537.0 161.3 535.8 160.9 534.5M160.3 539.5L160.9 534.5M164.5 537.9L160.9 534.5M192.1 555.7 191.7 554.6 191.2 553.5 190.8 552.4 190.4 551.2 189.9 550.1 189.5 549.0 189.0 547.9 188.6 546.7 188.2 545.6 187.7 544.5 187.3 543.4 186.9 542.3 186.4 541.1 186.0 540.0 185.5 538.9 185.1 537.8 184.7 536.6 184.2 535.5 183.8 534.4 183.3 533.3M182.9 538.2L183.3 533.3M187.1 536.6L183.3 533.3M213.4 554.5 213.1 553.2 212.7 552.0 212.4 550.7 212.1 549.5 211.8 548.2 211.5 547.0 211.2 545.7 210.9 544.5 210.5 543.3 210.2 542.0 209.9 540.8 209.6 539.5 209.3 538.3 208.9 537.0 208.6 535.8 208.2 534.5M207.2 539.4L208.2 534.5M211.6 538.2L208.2 534.5M234.0 549.5 234.0 548.2 234.0 547.0 234.0 545.7 234.0 544.5 234.0 543.3 234.0 542.0 233.9 540.8 233.9 539.5M232.0 543.6L233.9 539.5M236.1 543.4L233.9 539.5M258.1 548.9 257.8 547.4 257.5 546.0 257.1 544.5 256.8 543.0 256.4 541.6 256.1 540.1M255.2 544.1L256.1 540.1M258.7 543.2L256.1 540.1M279.7 549.5 279.8 548.3 279.9 547.0 280.1 545.7 280.2 544.5 280.4 543.3 280.5 542.0 280.7 540.7 280.7 539.5M278.4 543.4L280.7 539.5M282.5 543.7L280.7 539.5M304.6 547.0 304.0 545.7 303.4 544.5 302.8 543.3 302.1 542.0M302.1 545.0L302.1 542.0M304.5 543.8L302.1 542.0M327.7 547.0 327.1 545.7 326.5 544.5 325.9 543.3 325.3 542.0M325.2 545.0L325.3 542.0M327.7 543.8L325.3 542.0M350.6 546.4 350.1 545.4 349.6 544.5 349.1 543.6 348.6 542.6M348.7 545.6L348.6 542.6M351.1 544.3L348.6 542.6M372.5 548.3 372.5 547.0 372.6 545.7 372.8 544.5 372.9 543.3 373.0 542.0 373.1 540.8M371.3 543.6L373.1 540.8M374.4 543.9L373.1 540.8M395.9 548.9 395.9 547.4 395.9 546.0 395.9 544.5 395.9 543.0 395.9 541.6 395.9 540.1M394.1 543.6L395.9 540.1M397.7 543.6L395.9 540.1M420.0 548.3 419.7 547.0 419.4 545.7 419.0 544.5 418.7 543.3 418.4 542.0 418.1 540.7M417.3 544.1L418.1 540.7M420.4 543.4L418.1 540.7M443.4 547.6 442.8 546.1 442.2 544.5 441.5 542.9 440.9 541.4M440.6 544.4L440.9 541.4M443.2 543.4L440.9 541.4M465.9 548.2 465.7 547.0 465.5 545.7 465.3 544.5 465.1 543.3 464.9 542.0 464.7 540.7M463.6 544.0L464.7 540.7M466.7 543.5L464.7 540.7M489.1 547.6 488.7 546.1 488.4 544.5 488.1 542.9 487.8 541.4M487.0 544.3L487.8 541.4M489.7 543.7L487.8 541.4M512.2 547.6 511.9 546.1 511.5 544.5 511.2 542.9 510.9 541.4M510.1 544.3L510.9 541.4M512.8 543.7L510.9 541.4M535.9 546.4 535.3 545.4 534.7 544.5 534.1 543.6 533.4 542.6M533.8 545.6L533.4 542.6M536.0 544.1L533.4 542.6M558.8 545.5 558.3 545.0 557.8 544.5 557.3 544.0 556.8 543.5M557.7 546.4L556.8 543.5M559.7 544.4L556.8 543.5M581.0 547.6 580.9 546.1 580.9 544.5 580.9 542.9 580.9 541.4M579.6 544.0L580.9 541.4M582.3 544.0L580.9 541.4M603.1 546.4 603.6 545.4 604.1 544.5 604.6 543.6 605.1 542.6M602.6 544.3L605.1 542.6M605.0 545.6L605.1 542.6M626.2 546.4 626.7 545.4 627.2 544.5 627.7 543.6 628.2 542.6M625.7 544.3L628.2 542.6M628.1 545.6L628.2 542.6M649.3 547.0 649.8 545.7 650.3 544.5 650.8 543.3 651.3 542.0M649.1 544.0L651.3 542.0M651.6 545.0L651.3 542.0M672.5 546.4 673.0 545.4 673.5 544.5 674.0 543.6 674.4 542.6M672.0 544.4L674.4 542.6M674.4 545.6L674.4 542.6M182.7 575.2 182.1 574.1 181.6 573.0 181.0 571.8 180.5 570.7 179.9 569.6 179.3 568.5 178.8 567.3 178.2 566.2 177.7 565.1 177.1 564.0 176.5 562.8 176.0 561.7 175.4 560.6 174.9 559.4 174.3 558.3 173.8 557.2 173.2 556.0 172.7 554.9 172.2 553.8 171.6 552.6M171.5 557.6L171.6 552.6M175.6 555.7L171.6 552.6M203.3 572.7 202.9 571.5 202.5 570.2 202.0 569.0 201.6 567.7 201.1 566.5 200.7 565.2 200.2 564.0 199.8 562.7 199.3 561.5 198.9 560.2 198.4 559.0 198.0 557.7 197.6 556.5 197.1 555.2M196.5 560.2L197.1 555.2M200.7 558.6L197.1 555.2M224.9 570.8 224.6 569.4 224.3 568.1 224.0 566.7 223.7 565.3 223.4 564.0 223.1 562.6 222.8 561.2 222.5 559.8 222.2 558.4 221.9 557.1M220.6 561.9L221.9 557.1M225.0 561.0L221.9 557.1M246.2 569.6 246.2 568.2 246.3 566.8 246.4 565.4 246.5 564.0 246.6 562.5 246.7 561.1 246.7 559.7 246.8 558.3M244.3 562.7L246.8 558.3M248.9 562.9L246.8 558.3M270.2 569.6 270.1 568.2 269.9 566.8 269.8 565.4 269.6 564.0 269.5 562.5 269.3 561.1 269.2 559.7 269.0 558.3M267.2 563.0L269.0 558.3M271.7 562.5L269.0 558.3M292.2 568.3 292.3 566.9 292.5 565.4 292.8 564.0 293.0 562.5 293.2 561.0 293.3 559.6M291.1 562.9L293.3 559.6M294.7 563.3L293.3 559.6M315.6 567.7 315.7 566.5 315.8 565.2 315.9 564.0 316.0 562.7 316.1 561.4 316.2 560.2M314.4 563.1L316.2 560.2M317.5 563.3L316.2 560.2M338.8 568.3 338.8 566.9 338.9 565.4 339.0 564.0 339.1 562.5 339.2 561.0 339.3 559.6M337.3 563.0L339.3 559.6M340.9 563.2L339.3 559.6M363.4 567.1 362.8 565.5 362.1 564.0 361.5 562.4 360.9 560.8M360.6 563.8L360.9 560.8M363.2 562.8L360.9 560.8M386.5 563.9 385.9 564.0 385.3 564.0 384.6 564.0 384.0 563.9M386.7 565.3L384.0 563.9M386.7 562.6L384.0 563.9M408.4 563.0 408.4 563.5 408.4 564.0 408.4 564.4 408.4 564.9M409.8 562.3L408.4 564.9M407.0 562.3L408.4 564.9M431.9 566.5 431.7 565.2 431.5 564.0 431.3 562.7 431.1 561.5M430.2 564.3L431.1 561.5M432.9 563.9L431.1 561.5M456.5 566.7 455.6 565.3 454.7 564.0 453.7 562.6 452.8 561.2M453.2 564.2L452.8 561.2M455.4 562.6L452.8 561.2M478.8 566.7 478.3 565.3 477.8 564.0 477.3 562.6 476.8 561.2M476.4 564.2L476.8 561.2M479.0 563.3L476.8 561.2M501.9 566.7 501.4 565.3 500.9 564.0 500.4 562.6 499.9 561.2M499.6 564.2L499.9 561.2M502.1 563.3L499.9 561.2M525.3 566.7 524.7 565.3 524.0 564.0 523.4 562.6 522.8 561.2M522.7 564.2L522.8 561.2M525.1 563.1L522.8 561.2M548.4 566.2 547.8 565.1 547.2 564.0 546.6 562.8 545.9 561.7M546.0 564.7L545.9 561.7M548.4 563.4L545.9 561.7M571.3 565.2 570.8 564.6 570.3 564.0 569.8 563.3 569.3 562.7M569.9 565.6L569.3 562.7M572.0 563.9L569.3 562.7M593.4 565.4 593.4 564.7 593.4 564.0 593.4 563.2 593.4 562.5M592.1 565.1L593.4 562.5M594.8 565.1L593.4 562.5M617.2 567.1 616.9 565.5 616.6 564.0 616.3 562.4 616.0 560.8M615.1 563.7L616.0 560.8M617.8 563.2L616.0 560.8M639.1 565.0 639.4 564.4 639.7 564.0 640.0 563.5 640.3 562.9M637.8 564.5L640.3 562.9M640.1 565.9L640.3 562.9M661.3 565.5 662.1 564.7 662.8 564.0 663.6 563.2 664.3 562.4M661.5 563.4L664.3 562.4M663.4 565.3L664.3 562.4M169.0 592.8 168.4 591.6 167.9 590.4 167.3 589.3 166.8 588.1 166.2 586.9 165.7 585.7 165.1 584.6 164.6 583.4 164.1 582.2 163.5 581.1 163.0 579.9 162.4 578.7 161.9 577.5 161.3 576.4 160.8 575.2 160.2 574.0M160.1 579.0L160.2 574.0M164.2 577.1L160.2 574.0M192.8 594.0 192.2 592.8 191.6 591.7 191.1 590.5 190.5 589.3 190.0 588.1 189.4 586.9 188.8 585.8 188.3 584.6 187.7 583.4 187.2 582.2 186.6 581.0 186.1 579.9 185.5 578.7 184.9 577.5 184.4 576.3 183.8 575.1 183.3 574.0 182.7 572.8M182.6 577.8L182.7 572.8M186.7 575.8L182.7 572.8M213.4 591.5 213.0 590.4 212.7 589.2 212.3 588.0 211.9 586.9 211.6 585.7 211.2 584.6 210.9 583.4 210.5 582.2 210.1 581.1 209.8 579.9 209.4 578.8 209.1 577.6 208.7 576.4 208.3 575.3M207.5 580.2L208.3 575.3M211.8 578.9L208.3 575.3M235.2 588.4 234.9 587.2 234.6 585.9 234.3 584.6 234.0 583.4 233.7 582.2 233.4 580.9 233.1 579.6 232.8 578.4M231.7 582.9L232.8 578.4M235.8 581.9L232.8 578.4M256.8 587.8 256.9 586.3 257.0 584.9 257.1 583.4 257.2 581.9 257.4 580.5 257.5 579.0M255.4 582.4L257.5 579.0M259.0 582.7L257.5 579.0M279.9 587.8 280.0 586.3 280.1 584.9 280.2 583.4 280.4 581.9 280.5 580.5 280.6 579.0M278.5 582.4L280.6 579.0M282.1 582.7L280.6 579.0M304.6 584.9 304.0 584.1 303.4 583.4 302.8 582.7 302.2 581.9M302.8 584.8L302.2 581.9M304.9 583.1L302.2 581.9M329.3 582.4 327.9 582.9 326.5 583.4 325.1 583.9 323.7 584.4M326.7 584.8L323.7 584.4M325.8 582.2L323.7 584.4M351.5 582.8 350.6 583.1 349.6 583.4 348.7 583.7 347.8 584.0M350.7 584.5L347.8 584.0M349.9 581.9L347.8 584.0M374.0 587.8 373.6 586.3 373.2 584.9 372.8 583.4 372.4 581.9 371.9 580.5 371.5 579.0M370.7 583.1L371.5 579.0M374.3 582.0L371.5 579.0M395.9 587.1 395.9 585.9 395.9 584.6 395.9 583.4 395.9 582.2 395.9 580.9 395.9 579.7M394.4 582.7L395.9 579.7M397.4 582.6L395.9 579.7M418.7 587.8 418.8 586.3 418.9 584.9 419.0 583.4 419.2 581.9 419.3 580.5 419.4 579.0M417.3 582.4L419.4 579.0M420.9 582.7L419.4 579.0M442.2 587.1 442.2 585.9 442.2 584.6 442.2 583.4 442.2 582.2 442.1 580.9 442.1 579.7M440.6 582.7L442.1 579.7M443.7 582.6L442.1 579.7M467.2 585.9 466.2 584.6 465.3 583.4 464.4 582.2 463.4 580.9M463.9 583.9L463.4 580.9M466.1 582.2L463.4 580.9M489.9 585.3 489.2 584.3 488.4 583.4 487.7 582.5 486.9 581.5M487.5 584.5L486.9 581.5M489.7 582.8L486.9 581.5M513.0 585.3 512.3 584.3 511.5 583.4 510.8 582.5 510.1 581.5M510.7 584.5L510.1 581.5M512.8 582.8L510.1 581.5M536.2 585.3 535.4 584.3 534.7 583.4 533.9 582.5 533.2 581.5M533.8 584.5L533.2 581.5M535.9 582.8L533.2 581.5M558.4 584.6 558.1 584.0 557.8 583.4 557.5 582.8 557.2 582.2M557.2 585.2L557.2 582.2M559.6 583.9L557.2 582.2M581.3 584.9 581.1 584.1 580.9 583.4 580.8 582.7 580.6 581.9M579.9 584.8L580.6 581.9M582.5 584.2L580.6 581.9M603.7 585.3 603.9 584.3 604.1 583.4 604.3 582.5 604.4 581.5M602.6 583.9L604.4 581.5M605.3 584.4L604.4 581.5M626.8 585.3 627.0 584.3 627.2 583.4 627.4 582.5 627.6 581.5M625.7 583.9L627.6 581.5M628.4 584.4L627.6 581.5M649.3 585.7 649.8 584.5 650.3 583.4 650.8 582.3 651.3 581.2M649.0 583.0L651.3 581.2M651.5 584.2L651.3 581.2M672.8 584.9 673.1 584.1 673.5 583.4 673.8 582.7 674.1 581.9M671.8 583.8L674.1 581.9M674.3 584.9L674.1 581.9M177.1 602.9 176.5 601.6 175.9 600.3 175.2 599.1 174.6 597.8M174.6 602.8L174.6 597.8M178.6 600.8L174.6 597.8M200.2 602.9 199.6 601.6 199.0 600.3 198.4 599.1 197.7 597.8M197.7 602.8L197.7 597.8M201.8 600.8L197.7 597.8M223.4 602.9 222.9 601.3 222.4 599.7M221.9 602.7L222.4 599.7M224.5 601.9L222.4 599.7M246.5 602.9 246.3 601.3 246.1 599.7M245.1 602.5L246.1 599.7M247.8 602.2L246.1 599.7M269.6 602.9 269.4 601.6 269.3 600.3M268.3 603.2L269.3 600.3M271.0 602.8L269.3 600.3M292.8 602.9 292.8 601.9 292.7 601.0M291.4 603.7L292.7 601.0M294.1 603.6L292.7 601.0M315.9 602.9 316.1 601.3 316.2 599.7M314.6 602.3L316.2 599.7M317.3 602.5L316.2 599.7M339.0 602.9 339.2 601.3 339.3 599.7M337.7 602.3L339.3 599.7M340.5 602.5L339.3 599.7M362.1 602.9 361.6 601.9 361.1 601.0M361.2 604.0L361.1 601.0M363.6 602.6L361.1 601.0M385.3 603.5 385.3 602.9 385.3 602.2 385.3 601.6M383.9 604.3L385.3 601.6M386.6 604.3L385.3 601.6M408.4 602.9 408.4 601.9 408.4 601.0M407.0 603.6L408.4 601.0M409.8 603.7L408.4 601.0M431.5 602.9 431.5 601.6 431.5 600.4M430.2 603.0L431.5 600.4M432.9 603.0L431.5 600.4M454.7 602.9 454.2 601.9 453.7 601.0M453.7 604.0L453.7 601.0M456.1 602.7L453.7 601.0M477.8 602.9 477.3 602.1 476.8 601.4M477.1 604.3L476.8 601.4M479.4 602.8L476.8 601.4M500.9 602.9 500.4 602.1 499.9 601.4M500.3 604.3L499.9 601.4M502.5 602.8L499.9 601.4M524.5 603.5 524.0 602.9 523.6 602.2 523.1 601.6M523.7 604.5L523.1 601.6M525.8 602.8L523.1 601.6M547.7 603.5 547.2 602.9 546.7 602.2 546.2 601.6M546.8 604.5L546.2 601.6M548.9 602.8L546.2 601.6M570.6 603.3 570.3 602.9 570.0 602.4 569.7 601.8M569.9 604.8L569.7 601.8M572.3 603.4L569.7 601.8M593.6 603.3 593.4 602.9 593.3 602.4 593.1 601.8M592.7 604.8L593.1 601.8M595.3 603.9L593.1 601.8M616.6 603.3 616.6 602.9 616.6 602.4 616.6 601.9M615.2 604.5L616.6 601.9M617.9 604.5L616.6 601.9M640.0 603.3 639.7 602.9 639.4 602.4 639.1 601.8M639.3 604.8L639.1 601.8M641.6 603.4L639.1 601.8M662.3 603.5 662.8 602.9 663.3 602.2 663.8 601.6M661.1 602.8L663.8 601.6M663.2 604.5L663.8 601.6" fill="none" stroke="#000" stroke-opacity="0.95" stroke-width="0.7" stroke-linecap="round" stroke-linejoin="round"/>
<line x1="163.3" y1="603.1" x2="163.3" y2="589.1" stroke="#000" stroke-width="1.3"/>
<line x1="276.8" y1="603.1" x2="276.8" y2="589.1" stroke="#000" stroke-width="1.3"/>
<line x1="390.3" y1="603.1" x2="390.3" y2="589.1" stroke="#000" stroke-width="1.3"/>
<line x1="503.7" y1="603.1" x2="503.7" y2="589.1" stroke="#000" stroke-width="1.3"/>
<line x1="617.2" y1="603.1" x2="617.2" y2="589.1" stroke="#000" stroke-width="1.3"/>
<line x1="187.0" y1="72.6" x2="187.0" y2="86.6" stroke="#000" stroke-width="1.3"/>
<line x1="290.5" y1="72.6" x2="290.5" y2="86.6" stroke="#000" stroke-width="1.3"/>
<line x1="393.3" y1="72.6" x2="393.3" y2="86.6" stroke="#000" stroke-width="1.3"/>
<line x1="496.3" y1="72.6" x2="496.3" y2="86.6" stroke="#000" stroke-width="1.3"/>
<line x1="600.0" y1="72.6" x2="600.0" y2="86.6" stroke="#000" stroke-width="1.3"/>
<line x1="153.9" y1="100.25" x2="167.9" y2="100.25" stroke="#000" stroke-width="1.3"/>
<line x1="684.8" y1="100.25" x2="670.8" y2="100.25" stroke="#000" stroke-width="1.3"/>
<line x1="153.9" y1="232.2" x2="167.9" y2="232.2" stroke="#000" stroke-width="1.3"/>
<line x1="684.8" y1="232.2" x2="670.8" y2="232.2" stroke="#000" stroke-width="1.3"/>
<line x1="153.9" y1="364.0" x2="167.9" y2="364.0" stroke="#000" stroke-width="1.3"/>
<line x1="684.8" y1="364.0" x2="670.8" y2="364.0" stroke="#000" stroke-width="1.3"/>
<line x1="153.9" y1="496.25" x2="167.9" y2="496.25" stroke="#000" stroke-width="1.3"/>
<line x1="684.8" y1="496.25" x2="670.8" y2="496.25" stroke="#000" stroke-width="1.3"/>
<rect x="153.9" y="72.6" width="530.9" height="530.5" fill="none" stroke="#000" stroke-width="1.05"/>
<text x="142.3" y="625.0" font-size="14.2" textLength="42.1" lengthAdjust="spacingAndGlyphs">102°W</text>
<text x="390.3" y="623.5" font-size="14.2" text-anchor="middle">98°W</text>
<text x="600.7" y="623.5" font-size="14.2" textLength="35.1" lengthAdjust="spacingAndGlyphs">94°W</text>
<text x="112.3" y="237.9" font-size="14.6" textLength="32.1" lengthAdjust="spacingAndGlyphs">36°N</text>
<text x="112.3" y="501.6" font-size="14.6" textLength="32.1" lengthAdjust="spacingAndGlyphs">32°N</text>
<text x="191.3" y="618.5" font-size="14.2" textLength="148.7" lengthAdjust="spacingAndGlyphs">Min= -23.3 Max= 236.2</text>
<rect x="658.2" y="72.8" width="29.7" height="38.7" fill="#fff" stroke="#777" stroke-width="0.8"/>
<text x="672.7" y="86.6" font-size="14.9" text-anchor="middle">8</text>
<path d="M661.5 97.6H683.5M679.3 96.1L684 97.6L679.3 99.1Z" fill="none" stroke="#222" stroke-width="0.6"/>
<rect x="162.10" y="627.6" width="30.58" height="14.40" fill="#0000ff"/>
<rect x="192.38" y="627.6" width="30.58" height="14.40" fill="#0055ff"/>
<rect x="222.65" y="627.6" width="30.58" height="14.40" fill="#00bfff"/>
<rect x="252.93" y="627.6" width="30.58" height="14.40" fill="#00f0e0"/>
<rect x="283.21" y="627.6" width="30.58" height="14.40" fill="#00d880"/>
<rect x="313.48" y="627.6" width="30.58" height="14.40" fill="#00b838"/>
<rect x="343.76" y="627.6" width="30.58" height="14.40" fill="#40c010"/>
<rect x="374.04" y="627.6" width="30.58" height="14.40" fill="#a0e010"/>
<rect x="404.31" y="627.6" width="30.58" height="14.40" fill="#ffff00"/>
<rect x="434.59" y="627.6" width="30.58" height="14.40" fill="#ffdc00"/>
<rect x="464.86" y="627.6" width="30.58" height="14.40" fill="#ffb400"/>
<rect x="495.14" y="627.6" width="30.58" height="14.40" fill="#ff8c00"/>
<rect x="525.42" y="627.6" width="30.58" height="14.40" fill="#ff5a00"/>
<rect x="555.69" y="627.6" width="30.58" height="14.40" fill="#ff1e00"/>
<rect x="585.97" y="627.6" width="30.58" height="14.40" fill="#d80028"/>
<rect x="616.25" y="627.6" width="30.58" height="14.40" fill="#960064"/>
<rect x="646.52" y="627.6" width="30.58" height="14.40" fill="#5a0096"/>
<line x1="192.38" y1="627.6" x2="192.38" y2="642.0" stroke="#000" stroke-width="0.6"/>
<line x1="222.65" y1="627.6" x2="222.65" y2="642.0" stroke="#000" stroke-width="0.6"/>
<line x1="252.93" y1="627.6" x2="252.93" y2="642.0" stroke="#000" stroke-width="0.6"/>
<line x1="283.21" y1="627.6" x2="283.21" y2="642.0" stroke="#000" stroke-width="0.6"/>
<line x1="313.48" y1="627.6" x2="313.48" y2="642.0" stroke="#000" stroke-width="0.6"/>
<line x1="343.76" y1="627.6" x2="343.76" y2="642.0" stroke="#000" stroke-width="0.6"/>
<line x1="374.04" y1="627.6" x2="374.04" y2="642.0" stroke="#000" stroke-width="0.6"/>
<line x1="404.31" y1="627.6" x2="404.31" y2="642.0" stroke="#000" stroke-width="0.6"/>
<line x1="434.59" y1="627.6" x2="434.59" y2="642.0" stroke="#000" stroke-width="0.6"/>
<line x1="464.86" y1="627.6" x2="464.86" y2="642.0" stroke="#000" stroke-width="0.6"/>
<line x1="495.14" y1="627.6" x2="495.14" y2="642.0" stroke="#000" stroke-width="0.6"/>
<line x1="525.42" y1="627.6" x2="525.42" y2="642.0" stroke="#000" stroke-width="0.6"/>
<line x1="555.69" y1="627.6" x2="555.69" y2="642.0" stroke="#000" stroke-width="0.6"/>
<line x1="585.97" y1="627.6" x2="585.97" y2="642.0" stroke="#000" stroke-width="0.6"/>
<line x1="616.25" y1="627.6" x2="616.25" y2="642.0" stroke="#000" stroke-width="0.6"/>
<line x1="646.52" y1="627.6" x2="646.52" y2="642.0" stroke="#000" stroke-width="0.6"/>
<rect x="162.1" y="627.6" width="514.70" height="14.40" fill="none" stroke="#333" stroke-width="0.5"/>
<text x="192.38" y="657" font-size="14.2" text-anchor="middle">0</text>
<text x="252.93" y="657" font-size="14.2" text-anchor="middle">40</text>
<text x="313.48" y="657" font-size="14.2" text-anchor="middle">80</text>
<text x="374.04" y="657" font-size="14.2" text-anchor="middle">120</text>
<text x="434.59" y="657" font-size="14.2" text-anchor="middle">160</text>
<text x="495.14" y="657" font-size="14.2" text-anchor="middle">200</text>
<text x="555.69" y="657" font-size="14.2" text-anchor="middle">240</text>
<text x="616.25" y="657" font-size="14.2" text-anchor="middle">280</text>
</svg>
</body></html>
